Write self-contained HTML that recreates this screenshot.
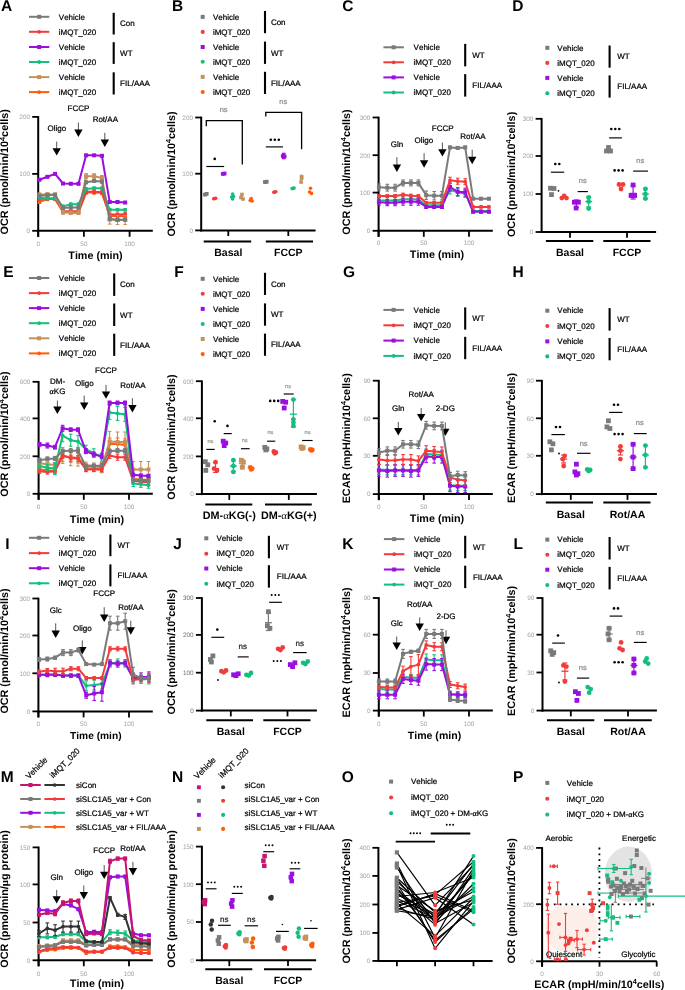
<!DOCTYPE html>
<html><head><meta charset="utf-8"><style>
html,body{margin:0;padding:0;background:#fff;}
svg{display:block;will-change:transform;filter:blur(0.35px);}
svg text{font-family:"Liberation Sans", sans-serif;font-kerning:none;text-rendering:geometricPrecision;}
</style></head><body>
<svg width="685" height="990" viewBox="0 0 685 990" font-family='"Liberation Sans", sans-serif'>
<rect width="685" height="990" fill="#fff"/>
<text x="1.10" y="11.40" font-size="15.5" font-weight="bold">A</text>
<line x1="29.00" y1="16.80" x2="49.30" y2="16.80" stroke="#7a7a7a" stroke-width="2"/>
<rect x="37.15" y="14.80" width="4.00" height="4.00" fill="#7a7a7a"/>
<text x="58.80" y="19.55" font-size="8" stroke="#000" stroke-width="0.22">Vehicle</text>
<line x1="29.00" y1="31.80" x2="49.30" y2="31.80" stroke="#f23b3b" stroke-width="2"/>
<circle cx="39.15" cy="31.80" r="1.90" fill="#f23b3b"/>
<text x="58.80" y="34.55" font-size="8" stroke="#000" stroke-width="0.22">iMQT_020</text>
<line x1="29.00" y1="47.00" x2="49.30" y2="47.00" stroke="#9a0fe0" stroke-width="2"/>
<rect x="37.15" y="45.00" width="4.00" height="4.00" fill="#9a0fe0"/>
<text x="58.80" y="49.75" font-size="8" stroke="#000" stroke-width="0.22">Vehicle</text>
<line x1="29.00" y1="62.00" x2="49.30" y2="62.00" stroke="#12bf7c" stroke-width="2"/>
<circle cx="39.15" cy="62.00" r="1.90" fill="#12bf7c"/>
<text x="58.80" y="64.75" font-size="8" stroke="#000" stroke-width="0.22">iMQT_020</text>
<line x1="29.00" y1="77.10" x2="49.30" y2="77.10" stroke="#c4925a" stroke-width="2"/>
<rect x="37.15" y="75.10" width="4.00" height="4.00" fill="#c4925a"/>
<text x="58.80" y="79.85" font-size="8" stroke="#000" stroke-width="0.22">Vehicle</text>
<line x1="29.00" y1="92.10" x2="49.30" y2="92.10" stroke="#ff5c0a" stroke-width="2"/>
<circle cx="39.15" cy="92.10" r="1.90" fill="#ff5c0a"/>
<text x="58.80" y="94.85" font-size="8" stroke="#000" stroke-width="0.22">iMQT_020</text>
<line x1="113.70" y1="12.80" x2="113.70" y2="34.50" stroke="#000" stroke-width="2.1"/>
<text x="120.10" y="26.40" font-size="8" stroke="#000" stroke-width="0.22">Con</text>
<line x1="113.70" y1="42.20" x2="113.70" y2="63.90" stroke="#000" stroke-width="2.1"/>
<text x="120.10" y="55.80" font-size="8" stroke="#000" stroke-width="0.22">WT</text>
<line x1="113.70" y1="72.30" x2="113.70" y2="94.50" stroke="#000" stroke-width="2.1"/>
<text x="120.10" y="86.15" font-size="8" stroke="#000" stroke-width="0.22">FIL/AAA</text>
<line x1="38.20" y1="116.10" x2="38.20" y2="236.80" stroke="#000" stroke-width="2"/>
<line x1="32.20" y1="116.90" x2="38.20" y2="116.90" stroke="#000" stroke-width="1.8"/>
<text x="30.00" y="119.20" font-size="6.4" text-anchor="end" fill="#a3a3a3">200</text>
<line x1="32.20" y1="173.90" x2="38.20" y2="173.90" stroke="#000" stroke-width="1.8"/>
<text x="30.00" y="176.20" font-size="6.4" text-anchor="end" fill="#a3a3a3">100</text>
<line x1="32.20" y1="230.80" x2="38.20" y2="230.80" stroke="#000" stroke-width="1.8"/>
<text x="30.00" y="233.10" font-size="6.4" text-anchor="end" fill="#a3a3a3">0</text>
<line x1="37.20" y1="230.80" x2="152.80" y2="230.80" stroke="#000" stroke-width="2"/>
<line x1="38.20" y1="230.80" x2="38.20" y2="236.80" stroke="#000" stroke-width="1.8"/>
<text x="38.20" y="245.70" font-size="6.4" text-anchor="middle" fill="#a3a3a3">0</text>
<line x1="83.90" y1="230.80" x2="83.90" y2="236.80" stroke="#000" stroke-width="1.8"/>
<text x="83.90" y="245.70" font-size="6.4" text-anchor="middle" fill="#a3a3a3">50</text>
<line x1="129.60" y1="230.80" x2="129.60" y2="236.80" stroke="#000" stroke-width="1.8"/>
<text x="129.60" y="245.70" font-size="6.4" text-anchor="middle" fill="#a3a3a3">100</text>
<text x="95.50" y="259.40" font-size="10.75" font-weight="bold" text-anchor="middle">Time (min)</text>
<text x="8.40" y="171.90" font-size="10.8" font-weight="bold" text-anchor="middle" transform="rotate(-90 8.40 171.90)">OCR (pmol/min/10<tspan font-size="7.3" dy="-3.9">4</tspan><tspan dy="3.9">cells)</tspan></text>
<text x="56.90" y="131.25" font-size="8" text-anchor="middle" stroke="#000" stroke-width="0.22">Oligo</text>
<line x1="56.70" y1="141.60" x2="56.70" y2="148.70" stroke="#555" stroke-width="1.0"/>
<path d="M52.50,148.20 L60.90,148.20 L56.70,155.60 Z" fill="#000"/>
<text x="78.50" y="111.35" font-size="8" text-anchor="middle" stroke="#000" stroke-width="0.22">FCCP</text>
<line x1="78.40" y1="122.60" x2="78.40" y2="130.00" stroke="#555" stroke-width="1.0"/>
<path d="M74.20,129.50 L82.60,129.50 L78.40,136.90 Z" fill="#000"/>
<text x="105.30" y="122.35" font-size="8" text-anchor="middle" stroke="#000" stroke-width="0.22">Rot/AA</text>
<line x1="104.80" y1="132.90" x2="104.80" y2="140.00" stroke="#555" stroke-width="1.0"/>
<path d="M100.60,139.50 L109.00,139.50 L104.80,146.90 Z" fill="#000"/>
<line x1="39.40" y1="200.50" x2="39.40" y2="203.50" stroke="#ff5c0a" stroke-width="1.1"/>
<line x1="37.60" y1="200.50" x2="41.20" y2="200.50" stroke="#ff5c0a" stroke-width="1.1"/>
<line x1="37.60" y1="203.50" x2="41.20" y2="203.50" stroke="#ff5c0a" stroke-width="1.1"/>
<line x1="47.40" y1="197.60" x2="47.40" y2="200.60" stroke="#ff5c0a" stroke-width="1.1"/>
<line x1="45.60" y1="197.60" x2="49.20" y2="197.60" stroke="#ff5c0a" stroke-width="1.1"/>
<line x1="45.60" y1="200.60" x2="49.20" y2="200.60" stroke="#ff5c0a" stroke-width="1.1"/>
<line x1="55.10" y1="197.60" x2="55.10" y2="200.60" stroke="#ff5c0a" stroke-width="1.1"/>
<line x1="53.30" y1="197.60" x2="56.90" y2="197.60" stroke="#ff5c0a" stroke-width="1.1"/>
<line x1="53.30" y1="200.60" x2="56.90" y2="200.60" stroke="#ff5c0a" stroke-width="1.1"/>
<line x1="63.00" y1="210.80" x2="63.00" y2="213.80" stroke="#ff5c0a" stroke-width="1.1"/>
<line x1="61.20" y1="210.80" x2="64.80" y2="210.80" stroke="#ff5c0a" stroke-width="1.1"/>
<line x1="61.20" y1="213.80" x2="64.80" y2="213.80" stroke="#ff5c0a" stroke-width="1.1"/>
<line x1="70.80" y1="210.80" x2="70.80" y2="213.80" stroke="#ff5c0a" stroke-width="1.1"/>
<line x1="69.00" y1="210.80" x2="72.60" y2="210.80" stroke="#ff5c0a" stroke-width="1.1"/>
<line x1="69.00" y1="213.80" x2="72.60" y2="213.80" stroke="#ff5c0a" stroke-width="1.1"/>
<line x1="78.50" y1="211.20" x2="78.50" y2="214.20" stroke="#ff5c0a" stroke-width="1.1"/>
<line x1="76.70" y1="211.20" x2="80.30" y2="211.20" stroke="#ff5c0a" stroke-width="1.1"/>
<line x1="76.70" y1="214.20" x2="80.30" y2="214.20" stroke="#ff5c0a" stroke-width="1.1"/>
<line x1="86.10" y1="191.10" x2="86.10" y2="194.10" stroke="#ff5c0a" stroke-width="1.1"/>
<line x1="84.30" y1="191.10" x2="87.90" y2="191.10" stroke="#ff5c0a" stroke-width="1.1"/>
<line x1="84.30" y1="194.10" x2="87.90" y2="194.10" stroke="#ff5c0a" stroke-width="1.1"/>
<line x1="94.10" y1="191.10" x2="94.10" y2="194.10" stroke="#ff5c0a" stroke-width="1.1"/>
<line x1="92.30" y1="191.10" x2="95.90" y2="191.10" stroke="#ff5c0a" stroke-width="1.1"/>
<line x1="92.30" y1="194.10" x2="95.90" y2="194.10" stroke="#ff5c0a" stroke-width="1.1"/>
<line x1="101.90" y1="191.30" x2="101.90" y2="194.30" stroke="#ff5c0a" stroke-width="1.1"/>
<line x1="100.10" y1="191.30" x2="103.70" y2="191.30" stroke="#ff5c0a" stroke-width="1.1"/>
<line x1="100.10" y1="194.30" x2="103.70" y2="194.30" stroke="#ff5c0a" stroke-width="1.1"/>
<line x1="109.70" y1="214.40" x2="109.70" y2="217.40" stroke="#ff5c0a" stroke-width="1.1"/>
<line x1="107.90" y1="214.40" x2="111.50" y2="214.40" stroke="#ff5c0a" stroke-width="1.1"/>
<line x1="107.90" y1="217.40" x2="111.50" y2="217.40" stroke="#ff5c0a" stroke-width="1.1"/>
<line x1="117.50" y1="214.40" x2="117.50" y2="217.40" stroke="#ff5c0a" stroke-width="1.1"/>
<line x1="115.70" y1="214.40" x2="119.30" y2="214.40" stroke="#ff5c0a" stroke-width="1.1"/>
<line x1="115.70" y1="217.40" x2="119.30" y2="217.40" stroke="#ff5c0a" stroke-width="1.1"/>
<line x1="125.20" y1="214.70" x2="125.20" y2="217.70" stroke="#ff5c0a" stroke-width="1.1"/>
<line x1="123.40" y1="214.70" x2="127.00" y2="214.70" stroke="#ff5c0a" stroke-width="1.1"/>
<line x1="123.40" y1="217.70" x2="127.00" y2="217.70" stroke="#ff5c0a" stroke-width="1.1"/>
<polyline points="39.40,202.00 47.40,199.10 55.10,199.10 63.00,212.30 70.80,212.30 78.50,212.70 86.10,192.60 94.10,192.60 101.90,192.80 109.70,215.90 117.50,215.90 125.20,216.20" fill="none" stroke="#ff5c0a" stroke-width="2" stroke-linejoin="round"/>
<circle cx="39.40" cy="202.00" r="1.85" fill="#ff5c0a"/>
<circle cx="47.40" cy="199.10" r="1.85" fill="#ff5c0a"/>
<circle cx="55.10" cy="199.10" r="1.85" fill="#ff5c0a"/>
<circle cx="63.00" cy="212.30" r="1.85" fill="#ff5c0a"/>
<circle cx="70.80" cy="212.30" r="1.85" fill="#ff5c0a"/>
<circle cx="78.50" cy="212.70" r="1.85" fill="#ff5c0a"/>
<circle cx="86.10" cy="192.60" r="1.85" fill="#ff5c0a"/>
<circle cx="94.10" cy="192.60" r="1.85" fill="#ff5c0a"/>
<circle cx="101.90" cy="192.80" r="1.85" fill="#ff5c0a"/>
<circle cx="109.70" cy="215.90" r="1.85" fill="#ff5c0a"/>
<circle cx="117.50" cy="215.90" r="1.85" fill="#ff5c0a"/>
<circle cx="125.20" cy="216.20" r="1.85" fill="#ff5c0a"/>
<line x1="39.40" y1="197.60" x2="39.40" y2="200.60" stroke="#f23b3b" stroke-width="1.1"/>
<line x1="37.60" y1="197.60" x2="41.20" y2="197.60" stroke="#f23b3b" stroke-width="1.1"/>
<line x1="37.60" y1="200.60" x2="41.20" y2="200.60" stroke="#f23b3b" stroke-width="1.1"/>
<line x1="47.40" y1="196.90" x2="47.40" y2="199.90" stroke="#f23b3b" stroke-width="1.1"/>
<line x1="45.60" y1="196.90" x2="49.20" y2="196.90" stroke="#f23b3b" stroke-width="1.1"/>
<line x1="45.60" y1="199.90" x2="49.20" y2="199.90" stroke="#f23b3b" stroke-width="1.1"/>
<line x1="55.10" y1="196.90" x2="55.10" y2="199.90" stroke="#f23b3b" stroke-width="1.1"/>
<line x1="53.30" y1="196.90" x2="56.90" y2="196.90" stroke="#f23b3b" stroke-width="1.1"/>
<line x1="53.30" y1="199.90" x2="56.90" y2="199.90" stroke="#f23b3b" stroke-width="1.1"/>
<line x1="63.00" y1="209.70" x2="63.00" y2="212.70" stroke="#f23b3b" stroke-width="1.1"/>
<line x1="61.20" y1="209.70" x2="64.80" y2="209.70" stroke="#f23b3b" stroke-width="1.1"/>
<line x1="61.20" y1="212.70" x2="64.80" y2="212.70" stroke="#f23b3b" stroke-width="1.1"/>
<line x1="70.80" y1="209.70" x2="70.80" y2="212.70" stroke="#f23b3b" stroke-width="1.1"/>
<line x1="69.00" y1="209.70" x2="72.60" y2="209.70" stroke="#f23b3b" stroke-width="1.1"/>
<line x1="69.00" y1="212.70" x2="72.60" y2="212.70" stroke="#f23b3b" stroke-width="1.1"/>
<line x1="78.50" y1="209.70" x2="78.50" y2="212.70" stroke="#f23b3b" stroke-width="1.1"/>
<line x1="76.70" y1="209.70" x2="80.30" y2="209.70" stroke="#f23b3b" stroke-width="1.1"/>
<line x1="76.70" y1="212.70" x2="80.30" y2="212.70" stroke="#f23b3b" stroke-width="1.1"/>
<line x1="86.10" y1="190.30" x2="86.10" y2="193.30" stroke="#f23b3b" stroke-width="1.1"/>
<line x1="84.30" y1="190.30" x2="87.90" y2="190.30" stroke="#f23b3b" stroke-width="1.1"/>
<line x1="84.30" y1="193.30" x2="87.90" y2="193.30" stroke="#f23b3b" stroke-width="1.1"/>
<line x1="94.10" y1="190.30" x2="94.10" y2="193.30" stroke="#f23b3b" stroke-width="1.1"/>
<line x1="92.30" y1="190.30" x2="95.90" y2="190.30" stroke="#f23b3b" stroke-width="1.1"/>
<line x1="92.30" y1="193.30" x2="95.90" y2="193.30" stroke="#f23b3b" stroke-width="1.1"/>
<line x1="101.90" y1="190.80" x2="101.90" y2="193.80" stroke="#f23b3b" stroke-width="1.1"/>
<line x1="100.10" y1="190.80" x2="103.70" y2="190.80" stroke="#f23b3b" stroke-width="1.1"/>
<line x1="100.10" y1="193.80" x2="103.70" y2="193.80" stroke="#f23b3b" stroke-width="1.1"/>
<line x1="109.70" y1="213.00" x2="109.70" y2="216.00" stroke="#f23b3b" stroke-width="1.1"/>
<line x1="107.90" y1="213.00" x2="111.50" y2="213.00" stroke="#f23b3b" stroke-width="1.1"/>
<line x1="107.90" y1="216.00" x2="111.50" y2="216.00" stroke="#f23b3b" stroke-width="1.1"/>
<line x1="117.50" y1="213.00" x2="117.50" y2="216.00" stroke="#f23b3b" stroke-width="1.1"/>
<line x1="115.70" y1="213.00" x2="119.30" y2="213.00" stroke="#f23b3b" stroke-width="1.1"/>
<line x1="115.70" y1="216.00" x2="119.30" y2="216.00" stroke="#f23b3b" stroke-width="1.1"/>
<line x1="125.20" y1="212.70" x2="125.20" y2="215.70" stroke="#f23b3b" stroke-width="1.1"/>
<line x1="123.40" y1="212.70" x2="127.00" y2="212.70" stroke="#f23b3b" stroke-width="1.1"/>
<line x1="123.40" y1="215.70" x2="127.00" y2="215.70" stroke="#f23b3b" stroke-width="1.1"/>
<polyline points="39.40,199.10 47.40,198.40 55.10,198.40 63.00,211.20 70.80,211.20 78.50,211.20 86.10,191.80 94.10,191.80 101.90,192.30 109.70,214.50 117.50,214.50 125.20,214.20" fill="none" stroke="#f23b3b" stroke-width="2" stroke-linejoin="round"/>
<circle cx="39.40" cy="199.10" r="1.85" fill="#f23b3b"/>
<circle cx="47.40" cy="198.40" r="1.85" fill="#f23b3b"/>
<circle cx="55.10" cy="198.40" r="1.85" fill="#f23b3b"/>
<circle cx="63.00" cy="211.20" r="1.85" fill="#f23b3b"/>
<circle cx="70.80" cy="211.20" r="1.85" fill="#f23b3b"/>
<circle cx="78.50" cy="211.20" r="1.85" fill="#f23b3b"/>
<circle cx="86.10" cy="191.80" r="1.85" fill="#f23b3b"/>
<circle cx="94.10" cy="191.80" r="1.85" fill="#f23b3b"/>
<circle cx="101.90" cy="192.30" r="1.85" fill="#f23b3b"/>
<circle cx="109.70" cy="214.50" r="1.85" fill="#f23b3b"/>
<circle cx="117.50" cy="214.50" r="1.85" fill="#f23b3b"/>
<circle cx="125.20" cy="214.20" r="1.85" fill="#f23b3b"/>
<line x1="39.40" y1="196.50" x2="39.40" y2="198.90" stroke="#12bf7c" stroke-width="1.1"/>
<line x1="37.60" y1="196.50" x2="41.20" y2="196.50" stroke="#12bf7c" stroke-width="1.1"/>
<line x1="37.60" y1="198.90" x2="41.20" y2="198.90" stroke="#12bf7c" stroke-width="1.1"/>
<line x1="47.40" y1="197.20" x2="47.40" y2="199.60" stroke="#12bf7c" stroke-width="1.1"/>
<line x1="45.60" y1="197.20" x2="49.20" y2="197.20" stroke="#12bf7c" stroke-width="1.1"/>
<line x1="45.60" y1="199.60" x2="49.20" y2="199.60" stroke="#12bf7c" stroke-width="1.1"/>
<line x1="55.10" y1="197.20" x2="55.10" y2="199.60" stroke="#12bf7c" stroke-width="1.1"/>
<line x1="53.30" y1="197.20" x2="56.90" y2="197.20" stroke="#12bf7c" stroke-width="1.1"/>
<line x1="53.30" y1="199.60" x2="56.90" y2="199.60" stroke="#12bf7c" stroke-width="1.1"/>
<line x1="63.00" y1="205.20" x2="63.00" y2="207.60" stroke="#12bf7c" stroke-width="1.1"/>
<line x1="61.20" y1="205.20" x2="64.80" y2="205.20" stroke="#12bf7c" stroke-width="1.1"/>
<line x1="61.20" y1="207.60" x2="64.80" y2="207.60" stroke="#12bf7c" stroke-width="1.1"/>
<line x1="70.80" y1="203.00" x2="70.80" y2="205.40" stroke="#12bf7c" stroke-width="1.1"/>
<line x1="69.00" y1="203.00" x2="72.60" y2="203.00" stroke="#12bf7c" stroke-width="1.1"/>
<line x1="69.00" y1="205.40" x2="72.60" y2="205.40" stroke="#12bf7c" stroke-width="1.1"/>
<line x1="78.50" y1="203.00" x2="78.50" y2="205.40" stroke="#12bf7c" stroke-width="1.1"/>
<line x1="76.70" y1="203.00" x2="80.30" y2="203.00" stroke="#12bf7c" stroke-width="1.1"/>
<line x1="76.70" y1="205.40" x2="80.30" y2="205.40" stroke="#12bf7c" stroke-width="1.1"/>
<line x1="86.10" y1="187.70" x2="86.10" y2="190.10" stroke="#12bf7c" stroke-width="1.1"/>
<line x1="84.30" y1="187.70" x2="87.90" y2="187.70" stroke="#12bf7c" stroke-width="1.1"/>
<line x1="84.30" y1="190.10" x2="87.90" y2="190.10" stroke="#12bf7c" stroke-width="1.1"/>
<line x1="94.10" y1="187.00" x2="94.10" y2="189.40" stroke="#12bf7c" stroke-width="1.1"/>
<line x1="92.30" y1="187.00" x2="95.90" y2="187.00" stroke="#12bf7c" stroke-width="1.1"/>
<line x1="92.30" y1="189.40" x2="95.90" y2="189.40" stroke="#12bf7c" stroke-width="1.1"/>
<line x1="101.90" y1="187.00" x2="101.90" y2="189.40" stroke="#12bf7c" stroke-width="1.1"/>
<line x1="100.10" y1="187.00" x2="103.70" y2="187.00" stroke="#12bf7c" stroke-width="1.1"/>
<line x1="100.10" y1="189.40" x2="103.70" y2="189.40" stroke="#12bf7c" stroke-width="1.1"/>
<line x1="109.70" y1="208.60" x2="109.70" y2="211.00" stroke="#12bf7c" stroke-width="1.1"/>
<line x1="107.90" y1="208.60" x2="111.50" y2="208.60" stroke="#12bf7c" stroke-width="1.1"/>
<line x1="107.90" y1="211.00" x2="111.50" y2="211.00" stroke="#12bf7c" stroke-width="1.1"/>
<line x1="117.50" y1="208.60" x2="117.50" y2="211.00" stroke="#12bf7c" stroke-width="1.1"/>
<line x1="115.70" y1="208.60" x2="119.30" y2="208.60" stroke="#12bf7c" stroke-width="1.1"/>
<line x1="115.70" y1="211.00" x2="119.30" y2="211.00" stroke="#12bf7c" stroke-width="1.1"/>
<line x1="125.20" y1="208.60" x2="125.20" y2="211.00" stroke="#12bf7c" stroke-width="1.1"/>
<line x1="123.40" y1="208.60" x2="127.00" y2="208.60" stroke="#12bf7c" stroke-width="1.1"/>
<line x1="123.40" y1="211.00" x2="127.00" y2="211.00" stroke="#12bf7c" stroke-width="1.1"/>
<polyline points="39.40,197.70 47.40,198.40 55.10,198.40 63.00,206.40 70.80,204.20 78.50,204.20 86.10,188.90 94.10,188.20 101.90,188.20 109.70,209.80 117.50,209.80 125.20,209.80" fill="none" stroke="#12bf7c" stroke-width="2" stroke-linejoin="round"/>
<circle cx="39.40" cy="197.70" r="1.85" fill="#12bf7c"/>
<circle cx="47.40" cy="198.40" r="1.85" fill="#12bf7c"/>
<circle cx="55.10" cy="198.40" r="1.85" fill="#12bf7c"/>
<circle cx="63.00" cy="206.40" r="1.85" fill="#12bf7c"/>
<circle cx="70.80" cy="204.20" r="1.85" fill="#12bf7c"/>
<circle cx="78.50" cy="204.20" r="1.85" fill="#12bf7c"/>
<circle cx="86.10" cy="188.90" r="1.85" fill="#12bf7c"/>
<circle cx="94.10" cy="188.20" r="1.85" fill="#12bf7c"/>
<circle cx="101.90" cy="188.20" r="1.85" fill="#12bf7c"/>
<circle cx="109.70" cy="209.80" r="1.85" fill="#12bf7c"/>
<circle cx="117.50" cy="209.80" r="1.85" fill="#12bf7c"/>
<circle cx="125.20" cy="209.80" r="1.85" fill="#12bf7c"/>
<line x1="39.40" y1="193.20" x2="39.40" y2="196.20" stroke="#c4925a" stroke-width="1.1"/>
<line x1="37.60" y1="193.20" x2="41.20" y2="193.20" stroke="#c4925a" stroke-width="1.1"/>
<line x1="37.60" y1="196.20" x2="41.20" y2="196.20" stroke="#c4925a" stroke-width="1.1"/>
<line x1="47.40" y1="192.80" x2="47.40" y2="195.80" stroke="#c4925a" stroke-width="1.1"/>
<line x1="45.60" y1="192.80" x2="49.20" y2="192.80" stroke="#c4925a" stroke-width="1.1"/>
<line x1="45.60" y1="195.80" x2="49.20" y2="195.80" stroke="#c4925a" stroke-width="1.1"/>
<line x1="55.10" y1="193.20" x2="55.10" y2="196.20" stroke="#c4925a" stroke-width="1.1"/>
<line x1="53.30" y1="193.20" x2="56.90" y2="193.20" stroke="#c4925a" stroke-width="1.1"/>
<line x1="53.30" y1="196.20" x2="56.90" y2="196.20" stroke="#c4925a" stroke-width="1.1"/>
<line x1="63.00" y1="210.80" x2="63.00" y2="213.80" stroke="#c4925a" stroke-width="1.1"/>
<line x1="61.20" y1="210.80" x2="64.80" y2="210.80" stroke="#c4925a" stroke-width="1.1"/>
<line x1="61.20" y1="213.80" x2="64.80" y2="213.80" stroke="#c4925a" stroke-width="1.1"/>
<line x1="70.80" y1="211.20" x2="70.80" y2="214.20" stroke="#c4925a" stroke-width="1.1"/>
<line x1="69.00" y1="211.20" x2="72.60" y2="211.20" stroke="#c4925a" stroke-width="1.1"/>
<line x1="69.00" y1="214.20" x2="72.60" y2="214.20" stroke="#c4925a" stroke-width="1.1"/>
<line x1="78.50" y1="211.20" x2="78.50" y2="214.20" stroke="#c4925a" stroke-width="1.1"/>
<line x1="76.70" y1="211.20" x2="80.30" y2="211.20" stroke="#c4925a" stroke-width="1.1"/>
<line x1="76.70" y1="214.20" x2="80.30" y2="214.20" stroke="#c4925a" stroke-width="1.1"/>
<line x1="86.10" y1="173.70" x2="86.10" y2="178.70" stroke="#c4925a" stroke-width="1.1"/>
<line x1="84.30" y1="173.70" x2="87.90" y2="173.70" stroke="#c4925a" stroke-width="1.1"/>
<line x1="84.30" y1="178.70" x2="87.90" y2="178.70" stroke="#c4925a" stroke-width="1.1"/>
<line x1="94.10" y1="173.70" x2="94.10" y2="178.70" stroke="#c4925a" stroke-width="1.1"/>
<line x1="92.30" y1="173.70" x2="95.90" y2="173.70" stroke="#c4925a" stroke-width="1.1"/>
<line x1="92.30" y1="178.70" x2="95.90" y2="178.70" stroke="#c4925a" stroke-width="1.1"/>
<line x1="101.90" y1="175.50" x2="101.90" y2="180.50" stroke="#c4925a" stroke-width="1.1"/>
<line x1="100.10" y1="175.50" x2="103.70" y2="175.50" stroke="#c4925a" stroke-width="1.1"/>
<line x1="100.10" y1="180.50" x2="103.70" y2="180.50" stroke="#c4925a" stroke-width="1.1"/>
<line x1="109.70" y1="215.10" x2="109.70" y2="224.10" stroke="#c4925a" stroke-width="1.1"/>
<line x1="107.90" y1="215.10" x2="111.50" y2="215.10" stroke="#c4925a" stroke-width="1.1"/>
<line x1="107.90" y1="224.10" x2="111.50" y2="224.10" stroke="#c4925a" stroke-width="1.1"/>
<line x1="117.50" y1="215.50" x2="117.50" y2="224.50" stroke="#c4925a" stroke-width="1.1"/>
<line x1="115.70" y1="215.50" x2="119.30" y2="215.50" stroke="#c4925a" stroke-width="1.1"/>
<line x1="115.70" y1="224.50" x2="119.30" y2="224.50" stroke="#c4925a" stroke-width="1.1"/>
<line x1="125.20" y1="215.50" x2="125.20" y2="224.50" stroke="#c4925a" stroke-width="1.1"/>
<line x1="123.40" y1="215.50" x2="127.00" y2="215.50" stroke="#c4925a" stroke-width="1.1"/>
<line x1="123.40" y1="224.50" x2="127.00" y2="224.50" stroke="#c4925a" stroke-width="1.1"/>
<polyline points="39.40,194.70 47.40,194.30 55.10,194.70 63.00,212.30 70.80,212.70 78.50,212.70 86.10,176.20 94.10,176.20 101.90,178.00 109.70,219.60 117.50,220.00 125.20,220.00" fill="none" stroke="#c4925a" stroke-width="2" stroke-linejoin="round"/>
<rect x="37.40" y="192.70" width="4.00" height="4.00" fill="#c4925a"/>
<rect x="45.40" y="192.30" width="4.00" height="4.00" fill="#c4925a"/>
<rect x="53.10" y="192.70" width="4.00" height="4.00" fill="#c4925a"/>
<rect x="61.00" y="210.30" width="4.00" height="4.00" fill="#c4925a"/>
<rect x="68.80" y="210.70" width="4.00" height="4.00" fill="#c4925a"/>
<rect x="76.50" y="210.70" width="4.00" height="4.00" fill="#c4925a"/>
<rect x="84.10" y="174.20" width="4.00" height="4.00" fill="#c4925a"/>
<rect x="92.10" y="174.20" width="4.00" height="4.00" fill="#c4925a"/>
<rect x="99.90" y="176.00" width="4.00" height="4.00" fill="#c4925a"/>
<rect x="107.70" y="217.60" width="4.00" height="4.00" fill="#c4925a"/>
<rect x="115.50" y="218.00" width="4.00" height="4.00" fill="#c4925a"/>
<rect x="123.20" y="218.00" width="4.00" height="4.00" fill="#c4925a"/>
<line x1="39.40" y1="194.60" x2="39.40" y2="197.00" stroke="#7a7a7a" stroke-width="1.1"/>
<line x1="37.60" y1="194.60" x2="41.20" y2="194.60" stroke="#7a7a7a" stroke-width="1.1"/>
<line x1="37.60" y1="197.00" x2="41.20" y2="197.00" stroke="#7a7a7a" stroke-width="1.1"/>
<line x1="47.40" y1="194.00" x2="47.40" y2="196.40" stroke="#7a7a7a" stroke-width="1.1"/>
<line x1="45.60" y1="194.00" x2="49.20" y2="194.00" stroke="#7a7a7a" stroke-width="1.1"/>
<line x1="45.60" y1="196.40" x2="49.20" y2="196.40" stroke="#7a7a7a" stroke-width="1.1"/>
<line x1="55.10" y1="193.50" x2="55.10" y2="195.90" stroke="#7a7a7a" stroke-width="1.1"/>
<line x1="53.30" y1="193.50" x2="56.90" y2="193.50" stroke="#7a7a7a" stroke-width="1.1"/>
<line x1="53.30" y1="195.90" x2="56.90" y2="195.90" stroke="#7a7a7a" stroke-width="1.1"/>
<line x1="63.00" y1="206.70" x2="63.00" y2="209.10" stroke="#7a7a7a" stroke-width="1.1"/>
<line x1="61.20" y1="206.70" x2="64.80" y2="206.70" stroke="#7a7a7a" stroke-width="1.1"/>
<line x1="61.20" y1="209.10" x2="64.80" y2="209.10" stroke="#7a7a7a" stroke-width="1.1"/>
<line x1="70.80" y1="206.20" x2="70.80" y2="208.60" stroke="#7a7a7a" stroke-width="1.1"/>
<line x1="69.00" y1="206.20" x2="72.60" y2="206.20" stroke="#7a7a7a" stroke-width="1.1"/>
<line x1="69.00" y1="208.60" x2="72.60" y2="208.60" stroke="#7a7a7a" stroke-width="1.1"/>
<line x1="78.50" y1="206.20" x2="78.50" y2="208.60" stroke="#7a7a7a" stroke-width="1.1"/>
<line x1="76.70" y1="206.20" x2="80.30" y2="206.20" stroke="#7a7a7a" stroke-width="1.1"/>
<line x1="76.70" y1="208.60" x2="80.30" y2="208.60" stroke="#7a7a7a" stroke-width="1.1"/>
<line x1="86.10" y1="181.10" x2="86.10" y2="183.50" stroke="#7a7a7a" stroke-width="1.1"/>
<line x1="84.30" y1="181.10" x2="87.90" y2="181.10" stroke="#7a7a7a" stroke-width="1.1"/>
<line x1="84.30" y1="183.50" x2="87.90" y2="183.50" stroke="#7a7a7a" stroke-width="1.1"/>
<line x1="94.10" y1="179.70" x2="94.10" y2="182.10" stroke="#7a7a7a" stroke-width="1.1"/>
<line x1="92.30" y1="179.70" x2="95.90" y2="179.70" stroke="#7a7a7a" stroke-width="1.1"/>
<line x1="92.30" y1="182.10" x2="95.90" y2="182.10" stroke="#7a7a7a" stroke-width="1.1"/>
<line x1="101.90" y1="180.40" x2="101.90" y2="182.80" stroke="#7a7a7a" stroke-width="1.1"/>
<line x1="100.10" y1="180.40" x2="103.70" y2="180.40" stroke="#7a7a7a" stroke-width="1.1"/>
<line x1="100.10" y1="182.80" x2="103.70" y2="182.80" stroke="#7a7a7a" stroke-width="1.1"/>
<line x1="109.70" y1="217.60" x2="109.70" y2="220.00" stroke="#7a7a7a" stroke-width="1.1"/>
<line x1="107.90" y1="217.60" x2="111.50" y2="217.60" stroke="#7a7a7a" stroke-width="1.1"/>
<line x1="107.90" y1="220.00" x2="111.50" y2="220.00" stroke="#7a7a7a" stroke-width="1.1"/>
<line x1="117.50" y1="218.80" x2="117.50" y2="221.20" stroke="#7a7a7a" stroke-width="1.1"/>
<line x1="115.70" y1="218.80" x2="119.30" y2="218.80" stroke="#7a7a7a" stroke-width="1.1"/>
<line x1="115.70" y1="221.20" x2="119.30" y2="221.20" stroke="#7a7a7a" stroke-width="1.1"/>
<line x1="125.20" y1="218.40" x2="125.20" y2="220.80" stroke="#7a7a7a" stroke-width="1.1"/>
<line x1="123.40" y1="218.40" x2="127.00" y2="218.40" stroke="#7a7a7a" stroke-width="1.1"/>
<line x1="123.40" y1="220.80" x2="127.00" y2="220.80" stroke="#7a7a7a" stroke-width="1.1"/>
<polyline points="39.40,195.80 47.40,195.20 55.10,194.70 63.00,207.90 70.80,207.40 78.50,207.40 86.10,182.30 94.10,180.90 101.90,181.60 109.70,218.80 117.50,220.00 125.20,219.60" fill="none" stroke="#7a7a7a" stroke-width="2" stroke-linejoin="round"/>
<rect x="37.40" y="193.80" width="4.00" height="4.00" fill="#7a7a7a"/>
<rect x="45.40" y="193.20" width="4.00" height="4.00" fill="#7a7a7a"/>
<rect x="53.10" y="192.70" width="4.00" height="4.00" fill="#7a7a7a"/>
<rect x="61.00" y="205.90" width="4.00" height="4.00" fill="#7a7a7a"/>
<rect x="68.80" y="205.40" width="4.00" height="4.00" fill="#7a7a7a"/>
<rect x="76.50" y="205.40" width="4.00" height="4.00" fill="#7a7a7a"/>
<rect x="84.10" y="180.30" width="4.00" height="4.00" fill="#7a7a7a"/>
<rect x="92.10" y="178.90" width="4.00" height="4.00" fill="#7a7a7a"/>
<rect x="99.90" y="179.60" width="4.00" height="4.00" fill="#7a7a7a"/>
<rect x="107.70" y="216.80" width="4.00" height="4.00" fill="#7a7a7a"/>
<rect x="115.50" y="218.00" width="4.00" height="4.00" fill="#7a7a7a"/>
<rect x="123.20" y="217.60" width="4.00" height="4.00" fill="#7a7a7a"/>
<line x1="39.40" y1="178.90" x2="39.40" y2="180.50" stroke="#9a0fe0" stroke-width="1.1"/>
<line x1="37.60" y1="178.90" x2="41.20" y2="178.90" stroke="#9a0fe0" stroke-width="1.1"/>
<line x1="37.60" y1="180.50" x2="41.20" y2="180.50" stroke="#9a0fe0" stroke-width="1.1"/>
<line x1="47.40" y1="176.00" x2="47.40" y2="177.60" stroke="#9a0fe0" stroke-width="1.1"/>
<line x1="45.60" y1="176.00" x2="49.20" y2="176.00" stroke="#9a0fe0" stroke-width="1.1"/>
<line x1="45.60" y1="177.60" x2="49.20" y2="177.60" stroke="#9a0fe0" stroke-width="1.1"/>
<line x1="55.10" y1="173.10" x2="55.10" y2="174.70" stroke="#9a0fe0" stroke-width="1.1"/>
<line x1="53.30" y1="173.10" x2="56.90" y2="173.10" stroke="#9a0fe0" stroke-width="1.1"/>
<line x1="53.30" y1="174.70" x2="56.90" y2="174.70" stroke="#9a0fe0" stroke-width="1.1"/>
<line x1="63.00" y1="182.70" x2="63.00" y2="184.30" stroke="#9a0fe0" stroke-width="1.1"/>
<line x1="61.20" y1="182.70" x2="64.80" y2="182.70" stroke="#9a0fe0" stroke-width="1.1"/>
<line x1="61.20" y1="184.30" x2="64.80" y2="184.30" stroke="#9a0fe0" stroke-width="1.1"/>
<line x1="70.80" y1="183.00" x2="70.80" y2="184.60" stroke="#9a0fe0" stroke-width="1.1"/>
<line x1="69.00" y1="183.00" x2="72.60" y2="183.00" stroke="#9a0fe0" stroke-width="1.1"/>
<line x1="69.00" y1="184.60" x2="72.60" y2="184.60" stroke="#9a0fe0" stroke-width="1.1"/>
<line x1="78.50" y1="183.00" x2="78.50" y2="184.60" stroke="#9a0fe0" stroke-width="1.1"/>
<line x1="76.70" y1="183.00" x2="80.30" y2="183.00" stroke="#9a0fe0" stroke-width="1.1"/>
<line x1="76.70" y1="184.60" x2="80.30" y2="184.60" stroke="#9a0fe0" stroke-width="1.1"/>
<line x1="86.10" y1="154.50" x2="86.10" y2="156.10" stroke="#9a0fe0" stroke-width="1.1"/>
<line x1="84.30" y1="154.50" x2="87.90" y2="154.50" stroke="#9a0fe0" stroke-width="1.1"/>
<line x1="84.30" y1="156.10" x2="87.90" y2="156.10" stroke="#9a0fe0" stroke-width="1.1"/>
<line x1="94.10" y1="154.50" x2="94.10" y2="156.10" stroke="#9a0fe0" stroke-width="1.1"/>
<line x1="92.30" y1="154.50" x2="95.90" y2="154.50" stroke="#9a0fe0" stroke-width="1.1"/>
<line x1="92.30" y1="156.10" x2="95.90" y2="156.10" stroke="#9a0fe0" stroke-width="1.1"/>
<line x1="101.90" y1="155.00" x2="101.90" y2="156.60" stroke="#9a0fe0" stroke-width="1.1"/>
<line x1="100.10" y1="155.00" x2="103.70" y2="155.00" stroke="#9a0fe0" stroke-width="1.1"/>
<line x1="100.10" y1="156.60" x2="103.70" y2="156.60" stroke="#9a0fe0" stroke-width="1.1"/>
<line x1="109.70" y1="201.20" x2="109.70" y2="202.80" stroke="#9a0fe0" stroke-width="1.1"/>
<line x1="107.90" y1="201.20" x2="111.50" y2="201.20" stroke="#9a0fe0" stroke-width="1.1"/>
<line x1="107.90" y1="202.80" x2="111.50" y2="202.80" stroke="#9a0fe0" stroke-width="1.1"/>
<line x1="117.50" y1="201.20" x2="117.50" y2="202.80" stroke="#9a0fe0" stroke-width="1.1"/>
<line x1="115.70" y1="201.20" x2="119.30" y2="201.20" stroke="#9a0fe0" stroke-width="1.1"/>
<line x1="115.70" y1="202.80" x2="119.30" y2="202.80" stroke="#9a0fe0" stroke-width="1.1"/>
<line x1="125.20" y1="201.70" x2="125.20" y2="203.30" stroke="#9a0fe0" stroke-width="1.1"/>
<line x1="123.40" y1="201.70" x2="127.00" y2="201.70" stroke="#9a0fe0" stroke-width="1.1"/>
<line x1="123.40" y1="203.30" x2="127.00" y2="203.30" stroke="#9a0fe0" stroke-width="1.1"/>
<polyline points="39.40,179.70 47.40,176.80 55.10,173.90 63.00,183.50 70.80,183.80 78.50,183.80 86.10,155.30 94.10,155.30 101.90,155.80 109.70,202.00 117.50,202.00 125.20,202.50" fill="none" stroke="#9a0fe0" stroke-width="2" stroke-linejoin="round"/>
<rect x="37.40" y="177.70" width="4.00" height="4.00" fill="#9a0fe0"/>
<rect x="45.40" y="174.80" width="4.00" height="4.00" fill="#9a0fe0"/>
<rect x="53.10" y="171.90" width="4.00" height="4.00" fill="#9a0fe0"/>
<rect x="61.00" y="181.50" width="4.00" height="4.00" fill="#9a0fe0"/>
<rect x="68.80" y="181.80" width="4.00" height="4.00" fill="#9a0fe0"/>
<rect x="76.50" y="181.80" width="4.00" height="4.00" fill="#9a0fe0"/>
<rect x="84.10" y="153.30" width="4.00" height="4.00" fill="#9a0fe0"/>
<rect x="92.10" y="153.30" width="4.00" height="4.00" fill="#9a0fe0"/>
<rect x="99.90" y="153.80" width="4.00" height="4.00" fill="#9a0fe0"/>
<rect x="107.70" y="200.00" width="4.00" height="4.00" fill="#9a0fe0"/>
<rect x="115.50" y="200.00" width="4.00" height="4.00" fill="#9a0fe0"/>
<rect x="123.20" y="200.50" width="4.00" height="4.00" fill="#9a0fe0"/>
<text x="172.10" y="11.40" font-size="15.5" font-weight="bold">B</text>
<rect x="200.70" y="14.90" width="4.00" height="4.00" fill="#7a7a7a"/>
<text x="212.90" y="19.65" font-size="8" stroke="#000" stroke-width="0.22">Vehicle</text>
<circle cx="202.70" cy="31.90" r="2.05" fill="#f23b3b"/>
<text x="212.90" y="34.65" font-size="8" stroke="#000" stroke-width="0.22">iMQT_020</text>
<rect x="200.70" y="45.00" width="4.00" height="4.00" fill="#9a0fe0"/>
<text x="212.90" y="49.75" font-size="8" stroke="#000" stroke-width="0.22">Vehicle</text>
<circle cx="202.70" cy="61.80" r="2.05" fill="#12bf7c"/>
<text x="212.90" y="64.55" font-size="8" stroke="#000" stroke-width="0.22">iMQT_020</text>
<rect x="200.70" y="74.90" width="4.00" height="4.00" fill="#c4925a"/>
<text x="212.90" y="79.65" font-size="8" stroke="#000" stroke-width="0.22">Vehicle</text>
<circle cx="202.70" cy="92.00" r="2.05" fill="#ff5c0a"/>
<text x="212.90" y="94.75" font-size="8" stroke="#000" stroke-width="0.22">iMQT_020</text>
<line x1="265.00" y1="11.00" x2="265.00" y2="33.20" stroke="#000" stroke-width="2.1"/>
<text x="270.90" y="24.85" font-size="8" stroke="#000" stroke-width="0.22">Con</text>
<line x1="265.00" y1="41.60" x2="265.00" y2="63.90" stroke="#000" stroke-width="2.1"/>
<text x="270.90" y="55.50" font-size="8" stroke="#000" stroke-width="0.22">WT</text>
<line x1="265.00" y1="71.80" x2="265.00" y2="94.00" stroke="#000" stroke-width="2.1"/>
<text x="270.90" y="85.65" font-size="8" stroke="#000" stroke-width="0.22">FIL/AAA</text>
<line x1="201.20" y1="116.70" x2="201.20" y2="231.40" stroke="#000" stroke-width="2"/>
<line x1="195.20" y1="117.50" x2="201.20" y2="117.50" stroke="#000" stroke-width="1.8"/>
<text x="193.00" y="119.80" font-size="6.4" text-anchor="end" fill="#a3a3a3">200</text>
<line x1="195.20" y1="173.70" x2="201.20" y2="173.70" stroke="#000" stroke-width="1.8"/>
<text x="193.00" y="176.00" font-size="6.4" text-anchor="end" fill="#a3a3a3">100</text>
<line x1="195.20" y1="230.40" x2="201.20" y2="230.40" stroke="#000" stroke-width="1.8"/>
<text x="193.00" y="232.70" font-size="6.4" text-anchor="end" fill="#a3a3a3">0</text>
<line x1="200.20" y1="230.40" x2="315.60" y2="230.40" stroke="#000" stroke-width="2"/>
<line x1="228.30" y1="230.40" x2="228.30" y2="236.00" stroke="#000" stroke-width="1.8"/>
<line x1="288.30" y1="230.40" x2="288.30" y2="236.00" stroke="#000" stroke-width="1.8"/>
<line x1="203.70" y1="241.40" x2="251.20" y2="241.40" stroke="#000" stroke-width="2"/>
<line x1="265.80" y1="241.40" x2="313.00" y2="241.40" stroke="#000" stroke-width="2"/>
<text x="228.30" y="255.71" font-size="10.5" font-weight="bold" text-anchor="middle">Basal</text>
<text x="288.30" y="255.71" font-size="10.5" font-weight="bold" text-anchor="middle">FCCP</text>
<text x="175.10" y="173.90" font-size="10.8" font-weight="bold" text-anchor="middle" transform="rotate(-90 175.10 173.90)">OCR (pmol/min/10<tspan font-size="7.3" dy="-3.9">4</tspan><tspan dy="3.9">cells)</tspan></text>
<rect x="203.00" y="192.80" width="3.60" height="3.60" fill="#7a7a7a"/>
<rect x="205.00" y="192.00" width="3.60" height="3.60" fill="#7a7a7a"/>
<rect x="204.00" y="192.60" width="3.60" height="3.60" fill="#7a7a7a"/>
<circle cx="213.70" cy="198.80" r="1.80" fill="#f23b3b"/>
<circle cx="215.70" cy="198.20" r="1.80" fill="#f23b3b"/>
<circle cx="214.70" cy="198.60" r="1.80" fill="#f23b3b"/>
<rect x="220.90" y="172.10" width="3.60" height="3.60" fill="#9a0fe0"/>
<rect x="222.90" y="171.70" width="3.60" height="3.60" fill="#9a0fe0"/>
<rect x="221.90" y="171.90" width="3.60" height="3.60" fill="#9a0fe0"/>
<circle cx="232.60" cy="194.00" r="1.80" fill="#12bf7c"/>
<circle cx="231.60" cy="197.00" r="1.80" fill="#12bf7c"/>
<circle cx="233.60" cy="196.50" r="1.80" fill="#12bf7c"/>
<circle cx="232.60" cy="199.00" r="1.80" fill="#12bf7c"/>
<rect x="240.20" y="192.70" width="3.60" height="3.60" fill="#c4925a"/>
<rect x="239.20" y="195.70" width="3.60" height="3.60" fill="#c4925a"/>
<rect x="241.20" y="197.20" width="3.60" height="3.60" fill="#c4925a"/>
<circle cx="251.20" cy="198.50" r="1.80" fill="#ff5c0a"/>
<circle cx="250.20" cy="200.50" r="1.80" fill="#ff5c0a"/>
<circle cx="252.20" cy="201.00" r="1.80" fill="#ff5c0a"/>
<rect x="263.00" y="180.20" width="3.60" height="3.60" fill="#7a7a7a"/>
<rect x="265.00" y="179.80" width="3.60" height="3.60" fill="#7a7a7a"/>
<rect x="264.00" y="180.40" width="3.60" height="3.60" fill="#7a7a7a"/>
<circle cx="273.80" cy="192.20" r="1.80" fill="#f23b3b"/>
<circle cx="275.80" cy="191.80" r="1.80" fill="#f23b3b"/>
<circle cx="274.80" cy="192.00" r="1.80" fill="#f23b3b"/>
<rect x="281.90" y="152.70" width="3.60" height="3.60" fill="#9a0fe0"/>
<rect x="280.90" y="154.20" width="3.60" height="3.60" fill="#9a0fe0"/>
<rect x="282.90" y="154.70" width="3.60" height="3.60" fill="#9a0fe0"/>
<rect x="281.90" y="155.70" width="3.60" height="3.60" fill="#9a0fe0"/>
<circle cx="292.10" cy="188.60" r="1.80" fill="#12bf7c"/>
<circle cx="294.10" cy="188.00" r="1.80" fill="#12bf7c"/>
<circle cx="293.10" cy="188.40" r="1.80" fill="#12bf7c"/>
<rect x="299.80" y="174.70" width="3.60" height="3.60" fill="#c4925a"/>
<rect x="299.80" y="176.40" width="3.60" height="3.60" fill="#c4925a"/>
<rect x="299.30" y="180.20" width="3.60" height="3.60" fill="#c4925a"/>
<circle cx="310.50" cy="188.30" r="1.80" fill="#ff5c0a"/>
<circle cx="309.50" cy="192.00" r="1.80" fill="#ff5c0a"/>
<circle cx="311.50" cy="193.40" r="1.80" fill="#ff5c0a"/>
<circle cx="214.70" cy="158.90" r="1.3" fill="#000"/>
<line x1="206.30" y1="166.50" x2="224.20" y2="166.50" stroke="#000" stroke-width="1.15"/>
<text x="223.60" y="112.43" font-size="7.5" text-anchor="middle" fill="#8a8a8a" stroke="#8a8a8a" stroke-width="0.22">ns</text>
<polyline points="206.3,126.2 206.3,120.6 242.3,120.6 242.3,164.5" fill="none" stroke="#000" stroke-width="1.3"/>
<circle cx="270.80" cy="139.70" r="1.3" fill="#000"/>
<circle cx="274.80" cy="139.70" r="1.3" fill="#000"/>
<circle cx="278.80" cy="139.70" r="1.3" fill="#000"/>
<line x1="265.80" y1="146.90" x2="283.00" y2="146.90" stroke="#000" stroke-width="1.15"/>
<text x="283.20" y="103.73" font-size="7.5" text-anchor="middle" fill="#8a8a8a" stroke="#8a8a8a" stroke-width="0.22">ns</text>
<polyline points="265.8,116.5 265.8,112.4 301.6,112.4 301.6,149.2" fill="none" stroke="#000" stroke-width="1.3"/>
<text x="342.20" y="11.40" font-size="15.5" font-weight="bold">C</text>
<line x1="383.40" y1="47.30" x2="403.90" y2="47.30" stroke="#7a7a7a" stroke-width="2"/>
<rect x="391.65" y="45.30" width="4.00" height="4.00" fill="#7a7a7a"/>
<text x="413.60" y="50.05" font-size="8" stroke="#000" stroke-width="0.22">Vehicle</text>
<line x1="383.40" y1="62.30" x2="403.90" y2="62.30" stroke="#f23b3b" stroke-width="2"/>
<circle cx="393.65" cy="62.30" r="1.90" fill="#f23b3b"/>
<text x="413.60" y="65.05" font-size="8" stroke="#000" stroke-width="0.22">iMQT_020</text>
<line x1="383.40" y1="77.40" x2="403.90" y2="77.40" stroke="#9a0fe0" stroke-width="2"/>
<rect x="391.65" y="75.40" width="4.00" height="4.00" fill="#9a0fe0"/>
<text x="413.60" y="80.15" font-size="8" stroke="#000" stroke-width="0.22">Vehicle</text>
<line x1="383.40" y1="92.50" x2="403.90" y2="92.50" stroke="#12bf7c" stroke-width="2"/>
<circle cx="393.65" cy="92.50" r="1.90" fill="#12bf7c"/>
<text x="413.60" y="95.25" font-size="8" stroke="#000" stroke-width="0.22">iMQT_020</text>
<line x1="465.20" y1="43.90" x2="465.20" y2="66.40" stroke="#000" stroke-width="2.1"/>
<text x="472.30" y="57.90" font-size="8" stroke="#000" stroke-width="0.22">WT</text>
<line x1="465.20" y1="74.10" x2="465.20" y2="96.60" stroke="#000" stroke-width="2.1"/>
<text x="472.30" y="88.10" font-size="8" stroke="#000" stroke-width="0.22">FIL/AAA</text>
<line x1="378.60" y1="116.70" x2="378.60" y2="236.80" stroke="#000" stroke-width="2"/>
<line x1="372.60" y1="117.50" x2="378.60" y2="117.50" stroke="#000" stroke-width="1.8"/>
<text x="370.40" y="119.80" font-size="6.4" text-anchor="end" fill="#a3a3a3">300</text>
<line x1="372.60" y1="155.20" x2="378.60" y2="155.20" stroke="#000" stroke-width="1.8"/>
<text x="370.40" y="157.50" font-size="6.4" text-anchor="end" fill="#a3a3a3">200</text>
<line x1="372.60" y1="192.60" x2="378.60" y2="192.60" stroke="#000" stroke-width="1.8"/>
<text x="370.40" y="194.90" font-size="6.4" text-anchor="end" fill="#a3a3a3">100</text>
<line x1="372.60" y1="230.80" x2="378.60" y2="230.80" stroke="#000" stroke-width="1.8"/>
<text x="370.40" y="233.10" font-size="6.4" text-anchor="end" fill="#a3a3a3">0</text>
<line x1="377.60" y1="230.80" x2="492.80" y2="230.80" stroke="#000" stroke-width="2"/>
<line x1="378.60" y1="230.80" x2="378.60" y2="236.80" stroke="#000" stroke-width="1.8"/>
<text x="378.60" y="245.20" font-size="6.4" text-anchor="middle" fill="#a3a3a3">0</text>
<line x1="423.80" y1="230.80" x2="423.80" y2="236.80" stroke="#000" stroke-width="1.8"/>
<text x="423.80" y="245.20" font-size="6.4" text-anchor="middle" fill="#a3a3a3">50</text>
<line x1="469.00" y1="230.80" x2="469.00" y2="236.80" stroke="#000" stroke-width="1.8"/>
<text x="469.00" y="245.20" font-size="6.4" text-anchor="middle" fill="#a3a3a3">100</text>
<text x="437.00" y="258.00" font-size="10.75" font-weight="bold" text-anchor="middle">Time (min)</text>
<text x="350.10" y="172.10" font-size="10.8" font-weight="bold" text-anchor="middle" transform="rotate(-90 350.10 172.10)">OCR (pmol/min/10<tspan font-size="7.3" dy="-3.9">4</tspan><tspan dy="3.9">cells)</tspan></text>
<text x="397.00" y="147.15" font-size="8" text-anchor="middle" stroke="#000" stroke-width="0.22">Gln</text>
<line x1="396.90" y1="157.20" x2="396.90" y2="165.00" stroke="#555" stroke-width="1.0"/>
<path d="M392.70,164.50 L401.10,164.50 L396.90,171.90 Z" fill="#000"/>
<text x="423.80" y="143.25" font-size="8" text-anchor="middle" stroke="#000" stroke-width="0.22">Oligo</text>
<line x1="424.10" y1="153.20" x2="424.10" y2="160.80" stroke="#555" stroke-width="1.0"/>
<path d="M419.90,160.30 L428.30,160.30 L424.10,167.70 Z" fill="#000"/>
<text x="442.70" y="130.95" font-size="8" text-anchor="middle" stroke="#000" stroke-width="0.22">FCCP</text>
<line x1="442.40" y1="142.40" x2="442.40" y2="149.70" stroke="#555" stroke-width="1.0"/>
<path d="M438.20,149.20 L446.60,149.20 L442.40,156.60 Z" fill="#000"/>
<text x="472.90" y="139.15" font-size="8" text-anchor="middle" stroke="#000" stroke-width="0.22">Rot/AA</text>
<line x1="472.20" y1="149.70" x2="472.20" y2="157.30" stroke="#555" stroke-width="1.0"/>
<path d="M468.00,156.80 L476.40,156.80 L472.20,164.20 Z" fill="#000"/>
<line x1="378.90" y1="197.40" x2="378.90" y2="203.40" stroke="#12bf7c" stroke-width="1.1"/>
<line x1="377.10" y1="197.40" x2="380.70" y2="197.40" stroke="#12bf7c" stroke-width="1.1"/>
<line x1="377.10" y1="203.40" x2="380.70" y2="203.40" stroke="#12bf7c" stroke-width="1.1"/>
<line x1="387.30" y1="197.40" x2="387.30" y2="203.40" stroke="#12bf7c" stroke-width="1.1"/>
<line x1="385.50" y1="197.40" x2="389.10" y2="197.40" stroke="#12bf7c" stroke-width="1.1"/>
<line x1="385.50" y1="203.40" x2="389.10" y2="203.40" stroke="#12bf7c" stroke-width="1.1"/>
<line x1="395.10" y1="197.40" x2="395.10" y2="203.40" stroke="#12bf7c" stroke-width="1.1"/>
<line x1="393.30" y1="197.40" x2="396.90" y2="197.40" stroke="#12bf7c" stroke-width="1.1"/>
<line x1="393.30" y1="203.40" x2="396.90" y2="203.40" stroke="#12bf7c" stroke-width="1.1"/>
<line x1="403.00" y1="196.20" x2="403.00" y2="202.20" stroke="#12bf7c" stroke-width="1.1"/>
<line x1="401.20" y1="196.20" x2="404.80" y2="196.20" stroke="#12bf7c" stroke-width="1.1"/>
<line x1="401.20" y1="202.20" x2="404.80" y2="202.20" stroke="#12bf7c" stroke-width="1.1"/>
<line x1="410.90" y1="196.20" x2="410.90" y2="202.20" stroke="#12bf7c" stroke-width="1.1"/>
<line x1="409.10" y1="196.20" x2="412.70" y2="196.20" stroke="#12bf7c" stroke-width="1.1"/>
<line x1="409.10" y1="202.20" x2="412.70" y2="202.20" stroke="#12bf7c" stroke-width="1.1"/>
<line x1="418.40" y1="196.60" x2="418.40" y2="202.60" stroke="#12bf7c" stroke-width="1.1"/>
<line x1="416.60" y1="196.60" x2="420.20" y2="196.60" stroke="#12bf7c" stroke-width="1.1"/>
<line x1="416.60" y1="202.60" x2="420.20" y2="202.60" stroke="#12bf7c" stroke-width="1.1"/>
<line x1="426.20" y1="203.70" x2="426.20" y2="206.70" stroke="#12bf7c" stroke-width="1.1"/>
<line x1="424.40" y1="203.70" x2="428.00" y2="203.70" stroke="#12bf7c" stroke-width="1.1"/>
<line x1="424.40" y1="206.70" x2="428.00" y2="206.70" stroke="#12bf7c" stroke-width="1.1"/>
<line x1="434.20" y1="203.70" x2="434.20" y2="206.70" stroke="#12bf7c" stroke-width="1.1"/>
<line x1="432.40" y1="203.70" x2="436.00" y2="203.70" stroke="#12bf7c" stroke-width="1.1"/>
<line x1="432.40" y1="206.70" x2="436.00" y2="206.70" stroke="#12bf7c" stroke-width="1.1"/>
<line x1="441.90" y1="203.70" x2="441.90" y2="206.70" stroke="#12bf7c" stroke-width="1.1"/>
<line x1="440.10" y1="203.70" x2="443.70" y2="203.70" stroke="#12bf7c" stroke-width="1.1"/>
<line x1="440.10" y1="206.70" x2="443.70" y2="206.70" stroke="#12bf7c" stroke-width="1.1"/>
<line x1="450.00" y1="185.90" x2="450.00" y2="193.90" stroke="#12bf7c" stroke-width="1.1"/>
<line x1="448.20" y1="185.90" x2="451.80" y2="185.90" stroke="#12bf7c" stroke-width="1.1"/>
<line x1="448.20" y1="193.90" x2="451.80" y2="193.90" stroke="#12bf7c" stroke-width="1.1"/>
<line x1="457.70" y1="188.20" x2="457.70" y2="196.20" stroke="#12bf7c" stroke-width="1.1"/>
<line x1="455.90" y1="188.20" x2="459.50" y2="188.20" stroke="#12bf7c" stroke-width="1.1"/>
<line x1="455.90" y1="196.20" x2="459.50" y2="196.20" stroke="#12bf7c" stroke-width="1.1"/>
<line x1="465.20" y1="189.40" x2="465.20" y2="197.40" stroke="#12bf7c" stroke-width="1.1"/>
<line x1="463.40" y1="189.40" x2="467.00" y2="189.40" stroke="#12bf7c" stroke-width="1.1"/>
<line x1="463.40" y1="197.40" x2="467.00" y2="197.40" stroke="#12bf7c" stroke-width="1.1"/>
<line x1="473.10" y1="210.00" x2="473.10" y2="212.00" stroke="#12bf7c" stroke-width="1.1"/>
<line x1="471.30" y1="210.00" x2="474.90" y2="210.00" stroke="#12bf7c" stroke-width="1.1"/>
<line x1="471.30" y1="212.00" x2="474.90" y2="212.00" stroke="#12bf7c" stroke-width="1.1"/>
<line x1="481.00" y1="210.00" x2="481.00" y2="212.00" stroke="#12bf7c" stroke-width="1.1"/>
<line x1="479.20" y1="210.00" x2="482.80" y2="210.00" stroke="#12bf7c" stroke-width="1.1"/>
<line x1="479.20" y1="212.00" x2="482.80" y2="212.00" stroke="#12bf7c" stroke-width="1.1"/>
<line x1="488.90" y1="210.00" x2="488.90" y2="212.00" stroke="#12bf7c" stroke-width="1.1"/>
<line x1="487.10" y1="210.00" x2="490.70" y2="210.00" stroke="#12bf7c" stroke-width="1.1"/>
<line x1="487.10" y1="212.00" x2="490.70" y2="212.00" stroke="#12bf7c" stroke-width="1.1"/>
<polyline points="378.90,200.40 387.30,200.40 395.10,200.40 403.00,199.20 410.90,199.20 418.40,199.60 426.20,205.20 434.20,205.20 441.90,205.20 450.00,189.90 457.70,192.20 465.20,193.40 473.10,211.00 481.00,211.00 488.90,211.00" fill="none" stroke="#12bf7c" stroke-width="2" stroke-linejoin="round"/>
<circle cx="378.90" cy="200.40" r="1.85" fill="#12bf7c"/>
<circle cx="387.30" cy="200.40" r="1.85" fill="#12bf7c"/>
<circle cx="395.10" cy="200.40" r="1.85" fill="#12bf7c"/>
<circle cx="403.00" cy="199.20" r="1.85" fill="#12bf7c"/>
<circle cx="410.90" cy="199.20" r="1.85" fill="#12bf7c"/>
<circle cx="418.40" cy="199.60" r="1.85" fill="#12bf7c"/>
<circle cx="426.20" cy="205.20" r="1.85" fill="#12bf7c"/>
<circle cx="434.20" cy="205.20" r="1.85" fill="#12bf7c"/>
<circle cx="441.90" cy="205.20" r="1.85" fill="#12bf7c"/>
<circle cx="450.00" cy="189.90" r="1.85" fill="#12bf7c"/>
<circle cx="457.70" cy="192.20" r="1.85" fill="#12bf7c"/>
<circle cx="465.20" cy="193.40" r="1.85" fill="#12bf7c"/>
<circle cx="473.10" cy="211.00" r="1.85" fill="#12bf7c"/>
<circle cx="481.00" cy="211.00" r="1.85" fill="#12bf7c"/>
<circle cx="488.90" cy="211.00" r="1.85" fill="#12bf7c"/>
<line x1="378.90" y1="199.20" x2="378.90" y2="205.20" stroke="#9a0fe0" stroke-width="1.1"/>
<line x1="377.10" y1="199.20" x2="380.70" y2="199.20" stroke="#9a0fe0" stroke-width="1.1"/>
<line x1="377.10" y1="205.20" x2="380.70" y2="205.20" stroke="#9a0fe0" stroke-width="1.1"/>
<line x1="387.30" y1="199.70" x2="387.30" y2="205.70" stroke="#9a0fe0" stroke-width="1.1"/>
<line x1="385.50" y1="199.70" x2="389.10" y2="199.70" stroke="#9a0fe0" stroke-width="1.1"/>
<line x1="385.50" y1="205.70" x2="389.10" y2="205.70" stroke="#9a0fe0" stroke-width="1.1"/>
<line x1="395.10" y1="199.70" x2="395.10" y2="205.70" stroke="#9a0fe0" stroke-width="1.1"/>
<line x1="393.30" y1="199.70" x2="396.90" y2="199.70" stroke="#9a0fe0" stroke-width="1.1"/>
<line x1="393.30" y1="205.70" x2="396.90" y2="205.70" stroke="#9a0fe0" stroke-width="1.1"/>
<line x1="403.00" y1="198.20" x2="403.00" y2="205.20" stroke="#9a0fe0" stroke-width="1.1"/>
<line x1="401.20" y1="198.20" x2="404.80" y2="198.20" stroke="#9a0fe0" stroke-width="1.1"/>
<line x1="401.20" y1="205.20" x2="404.80" y2="205.20" stroke="#9a0fe0" stroke-width="1.1"/>
<line x1="410.90" y1="198.20" x2="410.90" y2="205.20" stroke="#9a0fe0" stroke-width="1.1"/>
<line x1="409.10" y1="198.20" x2="412.70" y2="198.20" stroke="#9a0fe0" stroke-width="1.1"/>
<line x1="409.10" y1="205.20" x2="412.70" y2="205.20" stroke="#9a0fe0" stroke-width="1.1"/>
<line x1="418.40" y1="198.20" x2="418.40" y2="205.20" stroke="#9a0fe0" stroke-width="1.1"/>
<line x1="416.60" y1="198.20" x2="420.20" y2="198.20" stroke="#9a0fe0" stroke-width="1.1"/>
<line x1="416.60" y1="205.20" x2="420.20" y2="205.20" stroke="#9a0fe0" stroke-width="1.1"/>
<line x1="426.20" y1="205.40" x2="426.20" y2="208.40" stroke="#9a0fe0" stroke-width="1.1"/>
<line x1="424.40" y1="205.40" x2="428.00" y2="205.40" stroke="#9a0fe0" stroke-width="1.1"/>
<line x1="424.40" y1="208.40" x2="428.00" y2="208.40" stroke="#9a0fe0" stroke-width="1.1"/>
<line x1="434.20" y1="205.40" x2="434.20" y2="208.40" stroke="#9a0fe0" stroke-width="1.1"/>
<line x1="432.40" y1="205.40" x2="436.00" y2="205.40" stroke="#9a0fe0" stroke-width="1.1"/>
<line x1="432.40" y1="208.40" x2="436.00" y2="208.40" stroke="#9a0fe0" stroke-width="1.1"/>
<line x1="441.90" y1="205.40" x2="441.90" y2="208.40" stroke="#9a0fe0" stroke-width="1.1"/>
<line x1="440.10" y1="205.40" x2="443.70" y2="205.40" stroke="#9a0fe0" stroke-width="1.1"/>
<line x1="440.10" y1="208.40" x2="443.70" y2="208.40" stroke="#9a0fe0" stroke-width="1.1"/>
<line x1="450.00" y1="183.00" x2="450.00" y2="191.00" stroke="#9a0fe0" stroke-width="1.1"/>
<line x1="448.20" y1="183.00" x2="451.80" y2="183.00" stroke="#9a0fe0" stroke-width="1.1"/>
<line x1="448.20" y1="191.00" x2="451.80" y2="191.00" stroke="#9a0fe0" stroke-width="1.1"/>
<line x1="457.70" y1="187.70" x2="457.70" y2="195.70" stroke="#9a0fe0" stroke-width="1.1"/>
<line x1="455.90" y1="187.70" x2="459.50" y2="187.70" stroke="#9a0fe0" stroke-width="1.1"/>
<line x1="455.90" y1="195.70" x2="459.50" y2="195.70" stroke="#9a0fe0" stroke-width="1.1"/>
<line x1="465.20" y1="188.20" x2="465.20" y2="196.20" stroke="#9a0fe0" stroke-width="1.1"/>
<line x1="463.40" y1="188.20" x2="467.00" y2="188.20" stroke="#9a0fe0" stroke-width="1.1"/>
<line x1="463.40" y1="196.20" x2="467.00" y2="196.20" stroke="#9a0fe0" stroke-width="1.1"/>
<line x1="473.10" y1="210.80" x2="473.10" y2="212.80" stroke="#9a0fe0" stroke-width="1.1"/>
<line x1="471.30" y1="210.80" x2="474.90" y2="210.80" stroke="#9a0fe0" stroke-width="1.1"/>
<line x1="471.30" y1="212.80" x2="474.90" y2="212.80" stroke="#9a0fe0" stroke-width="1.1"/>
<line x1="481.00" y1="210.80" x2="481.00" y2="212.80" stroke="#9a0fe0" stroke-width="1.1"/>
<line x1="479.20" y1="210.80" x2="482.80" y2="210.80" stroke="#9a0fe0" stroke-width="1.1"/>
<line x1="479.20" y1="212.80" x2="482.80" y2="212.80" stroke="#9a0fe0" stroke-width="1.1"/>
<line x1="488.90" y1="210.80" x2="488.90" y2="212.80" stroke="#9a0fe0" stroke-width="1.1"/>
<line x1="487.10" y1="210.80" x2="490.70" y2="210.80" stroke="#9a0fe0" stroke-width="1.1"/>
<line x1="487.10" y1="212.80" x2="490.70" y2="212.80" stroke="#9a0fe0" stroke-width="1.1"/>
<polyline points="378.90,202.20 387.30,202.70 395.10,202.70 403.00,201.70 410.90,201.70 418.40,201.70 426.20,206.90 434.20,206.90 441.90,206.90 450.00,187.00 457.70,191.70 465.20,192.20 473.10,211.80 481.00,211.80 488.90,211.80" fill="none" stroke="#9a0fe0" stroke-width="2" stroke-linejoin="round"/>
<rect x="376.90" y="200.20" width="4.00" height="4.00" fill="#9a0fe0"/>
<rect x="385.30" y="200.70" width="4.00" height="4.00" fill="#9a0fe0"/>
<rect x="393.10" y="200.70" width="4.00" height="4.00" fill="#9a0fe0"/>
<rect x="401.00" y="199.70" width="4.00" height="4.00" fill="#9a0fe0"/>
<rect x="408.90" y="199.70" width="4.00" height="4.00" fill="#9a0fe0"/>
<rect x="416.40" y="199.70" width="4.00" height="4.00" fill="#9a0fe0"/>
<rect x="424.20" y="204.90" width="4.00" height="4.00" fill="#9a0fe0"/>
<rect x="432.20" y="204.90" width="4.00" height="4.00" fill="#9a0fe0"/>
<rect x="439.90" y="204.90" width="4.00" height="4.00" fill="#9a0fe0"/>
<rect x="448.00" y="185.00" width="4.00" height="4.00" fill="#9a0fe0"/>
<rect x="455.70" y="189.70" width="4.00" height="4.00" fill="#9a0fe0"/>
<rect x="463.20" y="190.20" width="4.00" height="4.00" fill="#9a0fe0"/>
<rect x="471.10" y="209.80" width="4.00" height="4.00" fill="#9a0fe0"/>
<rect x="479.00" y="209.80" width="4.00" height="4.00" fill="#9a0fe0"/>
<rect x="486.90" y="209.80" width="4.00" height="4.00" fill="#9a0fe0"/>
<line x1="378.90" y1="194.60" x2="378.90" y2="197.60" stroke="#f23b3b" stroke-width="1.1"/>
<line x1="377.10" y1="194.60" x2="380.70" y2="194.60" stroke="#f23b3b" stroke-width="1.1"/>
<line x1="377.10" y1="197.60" x2="380.70" y2="197.60" stroke="#f23b3b" stroke-width="1.1"/>
<line x1="387.30" y1="194.60" x2="387.30" y2="197.60" stroke="#f23b3b" stroke-width="1.1"/>
<line x1="385.50" y1="194.60" x2="389.10" y2="194.60" stroke="#f23b3b" stroke-width="1.1"/>
<line x1="385.50" y1="197.60" x2="389.10" y2="197.60" stroke="#f23b3b" stroke-width="1.1"/>
<line x1="395.10" y1="194.60" x2="395.10" y2="197.60" stroke="#f23b3b" stroke-width="1.1"/>
<line x1="393.30" y1="194.60" x2="396.90" y2="194.60" stroke="#f23b3b" stroke-width="1.1"/>
<line x1="393.30" y1="197.60" x2="396.90" y2="197.60" stroke="#f23b3b" stroke-width="1.1"/>
<line x1="403.00" y1="193.20" x2="403.00" y2="196.20" stroke="#f23b3b" stroke-width="1.1"/>
<line x1="401.20" y1="193.20" x2="404.80" y2="193.20" stroke="#f23b3b" stroke-width="1.1"/>
<line x1="401.20" y1="196.20" x2="404.80" y2="196.20" stroke="#f23b3b" stroke-width="1.1"/>
<line x1="410.90" y1="194.20" x2="410.90" y2="197.20" stroke="#f23b3b" stroke-width="1.1"/>
<line x1="409.10" y1="194.20" x2="412.70" y2="194.20" stroke="#f23b3b" stroke-width="1.1"/>
<line x1="409.10" y1="197.20" x2="412.70" y2="197.20" stroke="#f23b3b" stroke-width="1.1"/>
<line x1="418.40" y1="194.60" x2="418.40" y2="197.60" stroke="#f23b3b" stroke-width="1.1"/>
<line x1="416.60" y1="194.60" x2="420.20" y2="194.60" stroke="#f23b3b" stroke-width="1.1"/>
<line x1="416.60" y1="197.60" x2="420.20" y2="197.60" stroke="#f23b3b" stroke-width="1.1"/>
<line x1="426.20" y1="201.70" x2="426.20" y2="203.70" stroke="#f23b3b" stroke-width="1.1"/>
<line x1="424.40" y1="201.70" x2="428.00" y2="201.70" stroke="#f23b3b" stroke-width="1.1"/>
<line x1="424.40" y1="203.70" x2="428.00" y2="203.70" stroke="#f23b3b" stroke-width="1.1"/>
<line x1="434.20" y1="201.70" x2="434.20" y2="203.70" stroke="#f23b3b" stroke-width="1.1"/>
<line x1="432.40" y1="201.70" x2="436.00" y2="201.70" stroke="#f23b3b" stroke-width="1.1"/>
<line x1="432.40" y1="203.70" x2="436.00" y2="203.70" stroke="#f23b3b" stroke-width="1.1"/>
<line x1="441.90" y1="201.70" x2="441.90" y2="203.70" stroke="#f23b3b" stroke-width="1.1"/>
<line x1="440.10" y1="201.70" x2="443.70" y2="201.70" stroke="#f23b3b" stroke-width="1.1"/>
<line x1="440.10" y1="203.70" x2="443.70" y2="203.70" stroke="#f23b3b" stroke-width="1.1"/>
<line x1="450.00" y1="177.30" x2="450.00" y2="183.30" stroke="#f23b3b" stroke-width="1.1"/>
<line x1="448.20" y1="177.30" x2="451.80" y2="177.30" stroke="#f23b3b" stroke-width="1.1"/>
<line x1="448.20" y1="183.30" x2="451.80" y2="183.30" stroke="#f23b3b" stroke-width="1.1"/>
<line x1="457.70" y1="178.20" x2="457.70" y2="184.20" stroke="#f23b3b" stroke-width="1.1"/>
<line x1="455.90" y1="178.20" x2="459.50" y2="178.20" stroke="#f23b3b" stroke-width="1.1"/>
<line x1="455.90" y1="184.20" x2="459.50" y2="184.20" stroke="#f23b3b" stroke-width="1.1"/>
<line x1="465.20" y1="178.70" x2="465.20" y2="184.70" stroke="#f23b3b" stroke-width="1.1"/>
<line x1="463.40" y1="178.70" x2="467.00" y2="178.70" stroke="#f23b3b" stroke-width="1.1"/>
<line x1="463.40" y1="184.70" x2="467.00" y2="184.70" stroke="#f23b3b" stroke-width="1.1"/>
<line x1="473.10" y1="205.90" x2="473.10" y2="207.90" stroke="#f23b3b" stroke-width="1.1"/>
<line x1="471.30" y1="205.90" x2="474.90" y2="205.90" stroke="#f23b3b" stroke-width="1.1"/>
<line x1="471.30" y1="207.90" x2="474.90" y2="207.90" stroke="#f23b3b" stroke-width="1.1"/>
<line x1="481.00" y1="205.90" x2="481.00" y2="207.90" stroke="#f23b3b" stroke-width="1.1"/>
<line x1="479.20" y1="205.90" x2="482.80" y2="205.90" stroke="#f23b3b" stroke-width="1.1"/>
<line x1="479.20" y1="207.90" x2="482.80" y2="207.90" stroke="#f23b3b" stroke-width="1.1"/>
<line x1="488.90" y1="205.90" x2="488.90" y2="207.90" stroke="#f23b3b" stroke-width="1.1"/>
<line x1="487.10" y1="205.90" x2="490.70" y2="205.90" stroke="#f23b3b" stroke-width="1.1"/>
<line x1="487.10" y1="207.90" x2="490.70" y2="207.90" stroke="#f23b3b" stroke-width="1.1"/>
<polyline points="378.90,196.10 387.30,196.10 395.10,196.10 403.00,194.70 410.90,195.70 418.40,196.10 426.20,202.70 434.20,202.70 441.90,202.70 450.00,180.30 457.70,181.20 465.20,181.70 473.10,206.90 481.00,206.90 488.90,206.90" fill="none" stroke="#f23b3b" stroke-width="2" stroke-linejoin="round"/>
<circle cx="378.90" cy="196.10" r="1.85" fill="#f23b3b"/>
<circle cx="387.30" cy="196.10" r="1.85" fill="#f23b3b"/>
<circle cx="395.10" cy="196.10" r="1.85" fill="#f23b3b"/>
<circle cx="403.00" cy="194.70" r="1.85" fill="#f23b3b"/>
<circle cx="410.90" cy="195.70" r="1.85" fill="#f23b3b"/>
<circle cx="418.40" cy="196.10" r="1.85" fill="#f23b3b"/>
<circle cx="426.20" cy="202.70" r="1.85" fill="#f23b3b"/>
<circle cx="434.20" cy="202.70" r="1.85" fill="#f23b3b"/>
<circle cx="441.90" cy="202.70" r="1.85" fill="#f23b3b"/>
<circle cx="450.00" cy="180.30" r="1.85" fill="#f23b3b"/>
<circle cx="457.70" cy="181.20" r="1.85" fill="#f23b3b"/>
<circle cx="465.20" cy="181.70" r="1.85" fill="#f23b3b"/>
<circle cx="473.10" cy="206.90" r="1.85" fill="#f23b3b"/>
<circle cx="481.00" cy="206.90" r="1.85" fill="#f23b3b"/>
<circle cx="488.90" cy="206.90" r="1.85" fill="#f23b3b"/>
<line x1="378.90" y1="183.90" x2="378.90" y2="190.70" stroke="#7a7a7a" stroke-width="1.1"/>
<line x1="377.10" y1="183.90" x2="380.70" y2="183.90" stroke="#7a7a7a" stroke-width="1.1"/>
<line x1="377.10" y1="190.70" x2="380.70" y2="190.70" stroke="#7a7a7a" stroke-width="1.1"/>
<line x1="387.30" y1="184.30" x2="387.30" y2="191.10" stroke="#7a7a7a" stroke-width="1.1"/>
<line x1="385.50" y1="184.30" x2="389.10" y2="184.30" stroke="#7a7a7a" stroke-width="1.1"/>
<line x1="385.50" y1="191.10" x2="389.10" y2="191.10" stroke="#7a7a7a" stroke-width="1.1"/>
<line x1="395.10" y1="184.30" x2="395.10" y2="191.10" stroke="#7a7a7a" stroke-width="1.1"/>
<line x1="393.30" y1="184.30" x2="396.90" y2="184.30" stroke="#7a7a7a" stroke-width="1.1"/>
<line x1="393.30" y1="191.10" x2="396.90" y2="191.10" stroke="#7a7a7a" stroke-width="1.1"/>
<line x1="403.00" y1="179.90" x2="403.00" y2="185.90" stroke="#7a7a7a" stroke-width="1.1"/>
<line x1="401.20" y1="179.90" x2="404.80" y2="179.90" stroke="#7a7a7a" stroke-width="1.1"/>
<line x1="401.20" y1="185.90" x2="404.80" y2="185.90" stroke="#7a7a7a" stroke-width="1.1"/>
<line x1="410.90" y1="179.90" x2="410.90" y2="185.90" stroke="#7a7a7a" stroke-width="1.1"/>
<line x1="409.10" y1="179.90" x2="412.70" y2="179.90" stroke="#7a7a7a" stroke-width="1.1"/>
<line x1="409.10" y1="185.90" x2="412.70" y2="185.90" stroke="#7a7a7a" stroke-width="1.1"/>
<line x1="418.40" y1="179.90" x2="418.40" y2="185.90" stroke="#7a7a7a" stroke-width="1.1"/>
<line x1="416.60" y1="179.90" x2="420.20" y2="179.90" stroke="#7a7a7a" stroke-width="1.1"/>
<line x1="416.60" y1="185.90" x2="420.20" y2="185.90" stroke="#7a7a7a" stroke-width="1.1"/>
<line x1="426.20" y1="191.00" x2="426.20" y2="199.40" stroke="#7a7a7a" stroke-width="1.1"/>
<line x1="424.40" y1="191.00" x2="428.00" y2="191.00" stroke="#7a7a7a" stroke-width="1.1"/>
<line x1="424.40" y1="199.40" x2="428.00" y2="199.40" stroke="#7a7a7a" stroke-width="1.1"/>
<line x1="434.20" y1="191.50" x2="434.20" y2="199.90" stroke="#7a7a7a" stroke-width="1.1"/>
<line x1="432.40" y1="191.50" x2="436.00" y2="191.50" stroke="#7a7a7a" stroke-width="1.1"/>
<line x1="432.40" y1="199.90" x2="436.00" y2="199.90" stroke="#7a7a7a" stroke-width="1.1"/>
<line x1="441.90" y1="191.50" x2="441.90" y2="199.90" stroke="#7a7a7a" stroke-width="1.1"/>
<line x1="440.10" y1="191.50" x2="443.70" y2="191.50" stroke="#7a7a7a" stroke-width="1.1"/>
<line x1="440.10" y1="199.90" x2="443.70" y2="199.90" stroke="#7a7a7a" stroke-width="1.1"/>
<line x1="450.00" y1="146.20" x2="450.00" y2="148.60" stroke="#7a7a7a" stroke-width="1.1"/>
<line x1="448.20" y1="146.20" x2="451.80" y2="146.20" stroke="#7a7a7a" stroke-width="1.1"/>
<line x1="448.20" y1="148.60" x2="451.80" y2="148.60" stroke="#7a7a7a" stroke-width="1.1"/>
<line x1="457.70" y1="146.70" x2="457.70" y2="149.10" stroke="#7a7a7a" stroke-width="1.1"/>
<line x1="455.90" y1="146.70" x2="459.50" y2="146.70" stroke="#7a7a7a" stroke-width="1.1"/>
<line x1="455.90" y1="149.10" x2="459.50" y2="149.10" stroke="#7a7a7a" stroke-width="1.1"/>
<line x1="465.20" y1="146.20" x2="465.20" y2="148.60" stroke="#7a7a7a" stroke-width="1.1"/>
<line x1="463.40" y1="146.20" x2="467.00" y2="146.20" stroke="#7a7a7a" stroke-width="1.1"/>
<line x1="463.40" y1="148.60" x2="467.00" y2="148.60" stroke="#7a7a7a" stroke-width="1.1"/>
<line x1="473.10" y1="197.70" x2="473.10" y2="199.70" stroke="#7a7a7a" stroke-width="1.1"/>
<line x1="471.30" y1="197.70" x2="474.90" y2="197.70" stroke="#7a7a7a" stroke-width="1.1"/>
<line x1="471.30" y1="199.70" x2="474.90" y2="199.70" stroke="#7a7a7a" stroke-width="1.1"/>
<line x1="481.00" y1="197.70" x2="481.00" y2="199.70" stroke="#7a7a7a" stroke-width="1.1"/>
<line x1="479.20" y1="197.70" x2="482.80" y2="197.70" stroke="#7a7a7a" stroke-width="1.1"/>
<line x1="479.20" y1="199.70" x2="482.80" y2="199.70" stroke="#7a7a7a" stroke-width="1.1"/>
<line x1="488.90" y1="197.70" x2="488.90" y2="199.70" stroke="#7a7a7a" stroke-width="1.1"/>
<line x1="487.10" y1="197.70" x2="490.70" y2="197.70" stroke="#7a7a7a" stroke-width="1.1"/>
<line x1="487.10" y1="199.70" x2="490.70" y2="199.70" stroke="#7a7a7a" stroke-width="1.1"/>
<polyline points="378.90,187.30 387.30,187.70 395.10,187.70 403.00,182.90 410.90,182.90 418.40,182.90 426.20,195.20 434.20,195.70 441.90,195.70 450.00,147.40 457.70,147.90 465.20,147.40 473.10,198.70 481.00,198.70 488.90,198.70" fill="none" stroke="#7a7a7a" stroke-width="2" stroke-linejoin="round"/>
<rect x="376.90" y="185.30" width="4.00" height="4.00" fill="#7a7a7a"/>
<rect x="385.30" y="185.70" width="4.00" height="4.00" fill="#7a7a7a"/>
<rect x="393.10" y="185.70" width="4.00" height="4.00" fill="#7a7a7a"/>
<rect x="401.00" y="180.90" width="4.00" height="4.00" fill="#7a7a7a"/>
<rect x="408.90" y="180.90" width="4.00" height="4.00" fill="#7a7a7a"/>
<rect x="416.40" y="180.90" width="4.00" height="4.00" fill="#7a7a7a"/>
<rect x="424.20" y="193.20" width="4.00" height="4.00" fill="#7a7a7a"/>
<rect x="432.20" y="193.70" width="4.00" height="4.00" fill="#7a7a7a"/>
<rect x="439.90" y="193.70" width="4.00" height="4.00" fill="#7a7a7a"/>
<rect x="448.00" y="145.40" width="4.00" height="4.00" fill="#7a7a7a"/>
<rect x="455.70" y="145.90" width="4.00" height="4.00" fill="#7a7a7a"/>
<rect x="463.20" y="145.40" width="4.00" height="4.00" fill="#7a7a7a"/>
<rect x="471.10" y="196.70" width="4.00" height="4.00" fill="#7a7a7a"/>
<rect x="479.00" y="196.70" width="4.00" height="4.00" fill="#7a7a7a"/>
<rect x="486.90" y="196.70" width="4.00" height="4.00" fill="#7a7a7a"/>
<text x="512.20" y="11.40" font-size="15.5" font-weight="bold">D</text>
<rect x="545.30" y="45.80" width="4.00" height="4.00" fill="#7a7a7a"/>
<text x="557.30" y="50.55" font-size="8" stroke="#000" stroke-width="0.22">Vehicle</text>
<circle cx="547.30" cy="62.90" r="2.05" fill="#f23b3b"/>
<text x="557.30" y="65.65" font-size="8" stroke="#000" stroke-width="0.22">iMQT_020</text>
<rect x="545.30" y="75.90" width="4.00" height="4.00" fill="#9a0fe0"/>
<text x="557.30" y="80.65" font-size="8" stroke="#000" stroke-width="0.22">Vehicle</text>
<circle cx="547.30" cy="93.30" r="2.05" fill="#12bf7c"/>
<text x="557.30" y="96.05" font-size="8" stroke="#000" stroke-width="0.22">iMQT_020</text>
<line x1="609.60" y1="45.50" x2="609.60" y2="67.70" stroke="#000" stroke-width="2.1"/>
<text x="617.30" y="59.35" font-size="8" stroke="#000" stroke-width="0.22">WT</text>
<line x1="609.60" y1="75.40" x2="609.60" y2="97.60" stroke="#000" stroke-width="2.1"/>
<text x="617.30" y="89.25" font-size="8" stroke="#000" stroke-width="0.22">FIL/AAA</text>
<line x1="541.60" y1="118.00" x2="541.60" y2="233.00" stroke="#000" stroke-width="2"/>
<line x1="535.60" y1="118.80" x2="541.60" y2="118.80" stroke="#000" stroke-width="1.8"/>
<text x="533.40" y="121.10" font-size="6.4" text-anchor="end" fill="#a3a3a3">300</text>
<line x1="535.60" y1="156.00" x2="541.60" y2="156.00" stroke="#000" stroke-width="1.8"/>
<text x="533.40" y="158.30" font-size="6.4" text-anchor="end" fill="#a3a3a3">200</text>
<line x1="535.60" y1="194.00" x2="541.60" y2="194.00" stroke="#000" stroke-width="1.8"/>
<text x="533.40" y="196.30" font-size="6.4" text-anchor="end" fill="#a3a3a3">100</text>
<line x1="535.60" y1="232.00" x2="541.60" y2="232.00" stroke="#000" stroke-width="1.8"/>
<text x="533.40" y="234.30" font-size="6.4" text-anchor="end" fill="#a3a3a3">0</text>
<line x1="540.60" y1="232.00" x2="656.10" y2="232.00" stroke="#000" stroke-width="2"/>
<line x1="570.00" y1="232.00" x2="570.00" y2="237.80" stroke="#000" stroke-width="1.8"/>
<line x1="627.00" y1="232.00" x2="627.00" y2="237.80" stroke="#000" stroke-width="1.8"/>
<line x1="545.90" y1="240.90" x2="593.30" y2="240.90" stroke="#000" stroke-width="2"/>
<line x1="603.30" y1="240.90" x2="650.50" y2="240.90" stroke="#000" stroke-width="2"/>
<text x="570.00" y="256.41" font-size="10.5" font-weight="bold" text-anchor="middle">Basal</text>
<text x="627.00" y="256.41" font-size="10.5" font-weight="bold" text-anchor="middle">FCCP</text>
<text x="515.30" y="174.40" font-size="10.8" font-weight="bold" text-anchor="middle" transform="rotate(-90 515.30 174.40)">OCR (pmol/min/10<tspan font-size="7.3" dy="-3.9">4</tspan><tspan dy="3.9">cells)</tspan></text>
<rect x="548.10" y="185.80" width="4.80" height="4.80" fill="#7a7a7a"/>
<rect x="551.60" y="186.10" width="4.80" height="4.80" fill="#7a7a7a"/>
<rect x="549.10" y="192.20" width="4.80" height="4.80" fill="#7a7a7a"/>
<circle cx="564.10" cy="195.80" r="2.40" fill="#f23b3b"/>
<circle cx="561.80" cy="198.10" r="2.40" fill="#f23b3b"/>
<circle cx="566.50" cy="198.10" r="2.40" fill="#f23b3b"/>
<line x1="576.40" y1="200.00" x2="576.40" y2="207.50" stroke="#9a0fe0" stroke-width="1.2"/>
<line x1="573.90" y1="200.00" x2="578.90" y2="200.00" stroke="#9a0fe0" stroke-width="1.2"/>
<line x1="573.90" y1="207.50" x2="578.90" y2="207.50" stroke="#9a0fe0" stroke-width="1.2"/>
<line x1="572.90" y1="202.50" x2="579.90" y2="202.50" stroke="#9a0fe0" stroke-width="1.3"/>
<rect x="572.00" y="199.80" width="4.80" height="4.80" fill="#9a0fe0"/>
<rect x="576.00" y="199.80" width="4.80" height="4.80" fill="#9a0fe0"/>
<rect x="573.70" y="205.60" width="4.80" height="4.80" fill="#9a0fe0"/>
<line x1="588.70" y1="197.00" x2="588.70" y2="207.00" stroke="#12bf7c" stroke-width="1.2"/>
<line x1="586.20" y1="197.00" x2="591.20" y2="197.00" stroke="#12bf7c" stroke-width="1.2"/>
<line x1="586.20" y1="207.00" x2="591.20" y2="207.00" stroke="#12bf7c" stroke-width="1.2"/>
<line x1="585.20" y1="201.60" x2="592.20" y2="201.60" stroke="#12bf7c" stroke-width="1.3"/>
<circle cx="588.70" cy="197.50" r="2.40" fill="#12bf7c"/>
<circle cx="588.70" cy="201.60" r="2.40" fill="#12bf7c"/>
<circle cx="588.70" cy="208.60" r="2.40" fill="#12bf7c"/>
<rect x="604.10" y="148.60" width="4.80" height="4.80" fill="#7a7a7a"/>
<rect x="608.10" y="148.60" width="4.80" height="4.80" fill="#7a7a7a"/>
<rect x="606.10" y="145.10" width="4.80" height="4.80" fill="#7a7a7a"/>
<circle cx="619.00" cy="184.50" r="2.40" fill="#f23b3b"/>
<circle cx="623.00" cy="184.50" r="2.40" fill="#f23b3b"/>
<circle cx="621.00" cy="189.00" r="2.40" fill="#f23b3b"/>
<line x1="633.10" y1="186.00" x2="633.10" y2="199.00" stroke="#9a0fe0" stroke-width="1.2"/>
<line x1="630.60" y1="186.00" x2="635.60" y2="186.00" stroke="#9a0fe0" stroke-width="1.2"/>
<line x1="630.60" y1="199.00" x2="635.60" y2="199.00" stroke="#9a0fe0" stroke-width="1.2"/>
<line x1="629.60" y1="193.40" x2="636.60" y2="193.40" stroke="#9a0fe0" stroke-width="1.3"/>
<rect x="630.70" y="182.60" width="4.80" height="4.80" fill="#9a0fe0"/>
<rect x="628.70" y="193.10" width="4.80" height="4.80" fill="#9a0fe0"/>
<rect x="632.20" y="193.10" width="4.80" height="4.80" fill="#9a0fe0"/>
<line x1="645.40" y1="189.00" x2="645.40" y2="199.00" stroke="#12bf7c" stroke-width="1.2"/>
<line x1="642.90" y1="189.00" x2="647.90" y2="189.00" stroke="#12bf7c" stroke-width="1.2"/>
<line x1="642.90" y1="199.00" x2="647.90" y2="199.00" stroke="#12bf7c" stroke-width="1.2"/>
<line x1="641.90" y1="194.00" x2="648.90" y2="194.00" stroke="#12bf7c" stroke-width="1.3"/>
<circle cx="645.40" cy="189.00" r="2.40" fill="#12bf7c"/>
<circle cx="645.40" cy="198.50" r="2.40" fill="#12bf7c"/>
<circle cx="645.40" cy="194.00" r="2.40" fill="#12bf7c"/>
<circle cx="555.30" cy="164.00" r="1.3" fill="#000"/>
<circle cx="559.30" cy="164.00" r="1.3" fill="#000"/>
<line x1="550.90" y1="172.20" x2="564.20" y2="172.20" stroke="#000" stroke-width="1.15"/>
<text x="582.80" y="183.43" font-size="7.5" text-anchor="middle" fill="#8a8a8a" stroke="#8a8a8a" stroke-width="0.22">ns</text>
<line x1="577.70" y1="191.60" x2="587.90" y2="191.60" stroke="#000" stroke-width="1.15"/>
<circle cx="611.30" cy="129.00" r="1.3" fill="#000"/>
<circle cx="615.30" cy="129.00" r="1.3" fill="#000"/>
<circle cx="619.30" cy="129.00" r="1.3" fill="#000"/>
<line x1="609.10" y1="137.90" x2="621.90" y2="137.90" stroke="#000" stroke-width="1.15"/>
<circle cx="614.60" cy="170.40" r="1.3" fill="#000"/>
<circle cx="618.60" cy="170.40" r="1.3" fill="#000"/>
<circle cx="622.60" cy="170.40" r="1.3" fill="#000"/>
<text x="640.30" y="162.93" font-size="7.5" text-anchor="middle" fill="#8a8a8a" stroke="#8a8a8a" stroke-width="0.22">ns</text>
<line x1="633.10" y1="171.10" x2="648.00" y2="171.10" stroke="#000" stroke-width="1.15"/>
<circle cx="558.50" cy="190.80" r="0.9" fill="#000"/>
<text x="3.30" y="277.40" font-size="15.5" font-weight="bold">E</text>
<line x1="28.90" y1="278.00" x2="49.30" y2="278.00" stroke="#7a7a7a" stroke-width="2"/>
<rect x="37.10" y="276.00" width="4.00" height="4.00" fill="#7a7a7a"/>
<text x="58.80" y="280.75" font-size="8" stroke="#000" stroke-width="0.22">Vehicle</text>
<line x1="28.90" y1="293.10" x2="49.30" y2="293.10" stroke="#f23b3b" stroke-width="2"/>
<circle cx="39.10" cy="293.10" r="1.90" fill="#f23b3b"/>
<text x="58.80" y="295.85" font-size="8" stroke="#000" stroke-width="0.22">iMQT_020</text>
<line x1="28.90" y1="308.10" x2="49.30" y2="308.10" stroke="#9a0fe0" stroke-width="2"/>
<rect x="37.10" y="306.10" width="4.00" height="4.00" fill="#9a0fe0"/>
<text x="58.80" y="310.85" font-size="8" stroke="#000" stroke-width="0.22">Vehicle</text>
<line x1="28.90" y1="323.20" x2="49.30" y2="323.20" stroke="#12bf7c" stroke-width="2"/>
<circle cx="39.10" cy="323.20" r="1.90" fill="#12bf7c"/>
<text x="58.80" y="325.95" font-size="8" stroke="#000" stroke-width="0.22">iMQT_020</text>
<line x1="28.90" y1="338.30" x2="49.30" y2="338.30" stroke="#c4925a" stroke-width="2"/>
<rect x="37.10" y="336.30" width="4.00" height="4.00" fill="#c4925a"/>
<text x="58.80" y="341.05" font-size="8" stroke="#000" stroke-width="0.22">Vehicle</text>
<line x1="28.90" y1="353.40" x2="49.30" y2="353.40" stroke="#ff5c0a" stroke-width="2"/>
<circle cx="39.10" cy="353.40" r="1.90" fill="#ff5c0a"/>
<text x="58.80" y="356.15" font-size="8" stroke="#000" stroke-width="0.22">iMQT_020</text>
<line x1="114.20" y1="273.40" x2="114.20" y2="295.90" stroke="#000" stroke-width="2.1"/>
<text x="120.10" y="287.40" font-size="8" stroke="#000" stroke-width="0.22">Con</text>
<line x1="114.20" y1="303.50" x2="114.20" y2="326.00" stroke="#000" stroke-width="2.1"/>
<text x="120.10" y="317.50" font-size="8" stroke="#000" stroke-width="0.22">WT</text>
<line x1="114.20" y1="333.70" x2="114.20" y2="355.90" stroke="#000" stroke-width="2.1"/>
<text x="120.10" y="347.55" font-size="8" stroke="#000" stroke-width="0.22">FIL/AAA</text>
<line x1="38.60" y1="381.00" x2="38.60" y2="499.80" stroke="#000" stroke-width="2"/>
<line x1="32.60" y1="381.80" x2="38.60" y2="381.80" stroke="#000" stroke-width="1.8"/>
<text x="30.40" y="384.10" font-size="6.4" text-anchor="end" fill="#a3a3a3">600</text>
<line x1="32.60" y1="418.40" x2="38.60" y2="418.40" stroke="#000" stroke-width="1.8"/>
<text x="30.40" y="420.70" font-size="6.4" text-anchor="end" fill="#a3a3a3">400</text>
<line x1="32.60" y1="456.30" x2="38.60" y2="456.30" stroke="#000" stroke-width="1.8"/>
<text x="30.40" y="458.60" font-size="6.4" text-anchor="end" fill="#a3a3a3">200</text>
<line x1="32.60" y1="493.80" x2="38.60" y2="493.80" stroke="#000" stroke-width="1.8"/>
<text x="30.40" y="496.10" font-size="6.4" text-anchor="end" fill="#a3a3a3">0</text>
<line x1="37.60" y1="493.80" x2="152.80" y2="493.80" stroke="#000" stroke-width="2"/>
<line x1="38.60" y1="493.80" x2="38.60" y2="499.80" stroke="#000" stroke-width="1.8"/>
<text x="38.60" y="509.20" font-size="6.4" text-anchor="middle" fill="#a3a3a3">0</text>
<line x1="83.80" y1="493.80" x2="83.80" y2="499.80" stroke="#000" stroke-width="1.8"/>
<text x="83.80" y="509.20" font-size="6.4" text-anchor="middle" fill="#a3a3a3">50</text>
<line x1="129.00" y1="493.80" x2="129.00" y2="499.80" stroke="#000" stroke-width="1.8"/>
<text x="129.00" y="509.20" font-size="6.4" text-anchor="middle" fill="#a3a3a3">100</text>
<text x="97.00" y="522.60" font-size="10.75" font-weight="bold" text-anchor="middle">Time (min)</text>
<text x="8.40" y="434.10" font-size="10.8" font-weight="bold" text-anchor="middle" transform="rotate(-90 8.40 434.10)">OCR (pmol/min/10<tspan font-size="7.3" dy="-3.9">4</tspan><tspan dy="3.9">cells)</tspan></text>
<text x="57.50" y="384.45" font-size="8" text-anchor="middle" stroke="#000" stroke-width="0.22">DM-</text>
<text x="57.50" y="393.65" font-size="8" text-anchor="middle" stroke="#000" stroke-width="0.22"><tspan font-family="Liberation Serif">&#945;</tspan>KG</text>
<line x1="57.40" y1="400.50" x2="57.40" y2="407.00" stroke="#555" stroke-width="1.0"/>
<path d="M53.20,406.50 L61.60,406.50 L57.40,413.90 Z" fill="#000"/>
<text x="84.30" y="386.25" font-size="8" text-anchor="middle" stroke="#000" stroke-width="0.22">Oligo</text>
<line x1="84.20" y1="395.60" x2="84.20" y2="403.00" stroke="#555" stroke-width="1.0"/>
<path d="M80.00,402.50 L88.40,402.50 L84.20,409.90 Z" fill="#000"/>
<text x="106.00" y="373.45" font-size="8" text-anchor="middle" stroke="#000" stroke-width="0.22">FCCP</text>
<line x1="106.00" y1="384.90" x2="106.00" y2="391.90" stroke="#555" stroke-width="1.0"/>
<path d="M101.80,391.40 L110.20,391.40 L106.00,398.80 Z" fill="#000"/>
<text x="132.90" y="388.25" font-size="8" text-anchor="middle" stroke="#000" stroke-width="0.22">Rot/AA</text>
<line x1="132.40" y1="398.20" x2="132.40" y2="405.60" stroke="#555" stroke-width="1.0"/>
<path d="M128.20,405.10 L136.60,405.10 L132.40,412.50 Z" fill="#000"/>
<line x1="39.50" y1="467.50" x2="39.50" y2="471.50" stroke="#ff5c0a" stroke-width="1.1"/>
<line x1="37.70" y1="467.50" x2="41.30" y2="467.50" stroke="#ff5c0a" stroke-width="1.1"/>
<line x1="37.70" y1="471.50" x2="41.30" y2="471.50" stroke="#ff5c0a" stroke-width="1.1"/>
<line x1="47.40" y1="468.30" x2="47.40" y2="472.30" stroke="#ff5c0a" stroke-width="1.1"/>
<line x1="45.60" y1="468.30" x2="49.20" y2="468.30" stroke="#ff5c0a" stroke-width="1.1"/>
<line x1="45.60" y1="472.30" x2="49.20" y2="472.30" stroke="#ff5c0a" stroke-width="1.1"/>
<line x1="54.90" y1="468.70" x2="54.90" y2="472.70" stroke="#ff5c0a" stroke-width="1.1"/>
<line x1="53.10" y1="468.70" x2="56.70" y2="468.70" stroke="#ff5c0a" stroke-width="1.1"/>
<line x1="53.10" y1="472.70" x2="56.70" y2="472.70" stroke="#ff5c0a" stroke-width="1.1"/>
<line x1="62.60" y1="451.30" x2="62.60" y2="461.30" stroke="#ff5c0a" stroke-width="1.1"/>
<line x1="60.80" y1="451.30" x2="64.40" y2="451.30" stroke="#ff5c0a" stroke-width="1.1"/>
<line x1="60.80" y1="461.30" x2="64.40" y2="461.30" stroke="#ff5c0a" stroke-width="1.1"/>
<line x1="70.70" y1="452.20" x2="70.70" y2="462.20" stroke="#ff5c0a" stroke-width="1.1"/>
<line x1="68.90" y1="452.20" x2="72.50" y2="452.20" stroke="#ff5c0a" stroke-width="1.1"/>
<line x1="68.90" y1="462.20" x2="72.50" y2="462.20" stroke="#ff5c0a" stroke-width="1.1"/>
<line x1="78.00" y1="453.10" x2="78.00" y2="463.10" stroke="#ff5c0a" stroke-width="1.1"/>
<line x1="76.20" y1="453.10" x2="79.80" y2="453.10" stroke="#ff5c0a" stroke-width="1.1"/>
<line x1="76.20" y1="463.10" x2="79.80" y2="463.10" stroke="#ff5c0a" stroke-width="1.1"/>
<line x1="85.90" y1="465.60" x2="85.90" y2="471.60" stroke="#ff5c0a" stroke-width="1.1"/>
<line x1="84.10" y1="465.60" x2="87.70" y2="465.60" stroke="#ff5c0a" stroke-width="1.1"/>
<line x1="84.10" y1="471.60" x2="87.70" y2="471.60" stroke="#ff5c0a" stroke-width="1.1"/>
<line x1="93.80" y1="465.60" x2="93.80" y2="471.60" stroke="#ff5c0a" stroke-width="1.1"/>
<line x1="92.00" y1="465.60" x2="95.60" y2="465.60" stroke="#ff5c0a" stroke-width="1.1"/>
<line x1="92.00" y1="471.60" x2="95.60" y2="471.60" stroke="#ff5c0a" stroke-width="1.1"/>
<line x1="101.70" y1="466.50" x2="101.70" y2="472.50" stroke="#ff5c0a" stroke-width="1.1"/>
<line x1="99.90" y1="466.50" x2="103.50" y2="466.50" stroke="#ff5c0a" stroke-width="1.1"/>
<line x1="99.90" y1="472.50" x2="103.50" y2="472.50" stroke="#ff5c0a" stroke-width="1.1"/>
<line x1="109.60" y1="438.00" x2="109.60" y2="450.00" stroke="#ff5c0a" stroke-width="1.1"/>
<line x1="107.80" y1="438.00" x2="111.40" y2="438.00" stroke="#ff5c0a" stroke-width="1.1"/>
<line x1="107.80" y1="450.00" x2="111.40" y2="450.00" stroke="#ff5c0a" stroke-width="1.1"/>
<line x1="117.50" y1="438.00" x2="117.50" y2="450.00" stroke="#ff5c0a" stroke-width="1.1"/>
<line x1="115.70" y1="438.00" x2="119.30" y2="438.00" stroke="#ff5c0a" stroke-width="1.1"/>
<line x1="115.70" y1="450.00" x2="119.30" y2="450.00" stroke="#ff5c0a" stroke-width="1.1"/>
<line x1="125.00" y1="438.90" x2="125.00" y2="450.90" stroke="#ff5c0a" stroke-width="1.1"/>
<line x1="123.20" y1="438.90" x2="126.80" y2="438.90" stroke="#ff5c0a" stroke-width="1.1"/>
<line x1="123.20" y1="450.90" x2="126.80" y2="450.90" stroke="#ff5c0a" stroke-width="1.1"/>
<line x1="133.20" y1="477.10" x2="133.20" y2="481.10" stroke="#ff5c0a" stroke-width="1.1"/>
<line x1="131.40" y1="477.10" x2="135.00" y2="477.10" stroke="#ff5c0a" stroke-width="1.1"/>
<line x1="131.40" y1="481.10" x2="135.00" y2="481.10" stroke="#ff5c0a" stroke-width="1.1"/>
<line x1="140.80" y1="477.40" x2="140.80" y2="481.40" stroke="#ff5c0a" stroke-width="1.1"/>
<line x1="139.00" y1="477.40" x2="142.60" y2="477.40" stroke="#ff5c0a" stroke-width="1.1"/>
<line x1="139.00" y1="481.40" x2="142.60" y2="481.40" stroke="#ff5c0a" stroke-width="1.1"/>
<line x1="148.50" y1="478.00" x2="148.50" y2="482.00" stroke="#ff5c0a" stroke-width="1.1"/>
<line x1="146.70" y1="478.00" x2="150.30" y2="478.00" stroke="#ff5c0a" stroke-width="1.1"/>
<line x1="146.70" y1="482.00" x2="150.30" y2="482.00" stroke="#ff5c0a" stroke-width="1.1"/>
<polyline points="39.50,469.50 47.40,470.30 54.90,470.70 62.60,456.30 70.70,457.20 78.00,458.10 85.90,468.60 93.80,468.60 101.70,469.50 109.60,444.00 117.50,444.00 125.00,444.90 133.20,479.10 140.80,479.40 148.50,480.00" fill="none" stroke="#ff5c0a" stroke-width="2" stroke-linejoin="round"/>
<circle cx="39.50" cy="469.50" r="1.85" fill="#ff5c0a"/>
<circle cx="47.40" cy="470.30" r="1.85" fill="#ff5c0a"/>
<circle cx="54.90" cy="470.70" r="1.85" fill="#ff5c0a"/>
<circle cx="62.60" cy="456.30" r="1.85" fill="#ff5c0a"/>
<circle cx="70.70" cy="457.20" r="1.85" fill="#ff5c0a"/>
<circle cx="78.00" cy="458.10" r="1.85" fill="#ff5c0a"/>
<circle cx="85.90" cy="468.60" r="1.85" fill="#ff5c0a"/>
<circle cx="93.80" cy="468.60" r="1.85" fill="#ff5c0a"/>
<circle cx="101.70" cy="469.50" r="1.85" fill="#ff5c0a"/>
<circle cx="109.60" cy="444.00" r="1.85" fill="#ff5c0a"/>
<circle cx="117.50" cy="444.00" r="1.85" fill="#ff5c0a"/>
<circle cx="125.00" cy="444.90" r="1.85" fill="#ff5c0a"/>
<circle cx="133.20" cy="479.10" r="1.85" fill="#ff5c0a"/>
<circle cx="140.80" cy="479.40" r="1.85" fill="#ff5c0a"/>
<circle cx="148.50" cy="480.00" r="1.85" fill="#ff5c0a"/>
<line x1="39.50" y1="461.30" x2="39.50" y2="465.30" stroke="#c4925a" stroke-width="1.1"/>
<line x1="37.70" y1="461.30" x2="41.30" y2="461.30" stroke="#c4925a" stroke-width="1.1"/>
<line x1="37.70" y1="465.30" x2="41.30" y2="465.30" stroke="#c4925a" stroke-width="1.1"/>
<line x1="47.40" y1="462.20" x2="47.40" y2="466.20" stroke="#c4925a" stroke-width="1.1"/>
<line x1="45.60" y1="462.20" x2="49.20" y2="462.20" stroke="#c4925a" stroke-width="1.1"/>
<line x1="45.60" y1="466.20" x2="49.20" y2="466.20" stroke="#c4925a" stroke-width="1.1"/>
<line x1="54.90" y1="463.10" x2="54.90" y2="467.10" stroke="#c4925a" stroke-width="1.1"/>
<line x1="53.10" y1="463.10" x2="56.70" y2="463.10" stroke="#c4925a" stroke-width="1.1"/>
<line x1="53.10" y1="467.10" x2="56.70" y2="467.10" stroke="#c4925a" stroke-width="1.1"/>
<line x1="62.60" y1="447.40" x2="62.60" y2="463.40" stroke="#c4925a" stroke-width="1.1"/>
<line x1="60.80" y1="447.40" x2="64.40" y2="447.40" stroke="#c4925a" stroke-width="1.1"/>
<line x1="60.80" y1="463.40" x2="64.40" y2="463.40" stroke="#c4925a" stroke-width="1.1"/>
<line x1="70.70" y1="449.70" x2="70.70" y2="465.70" stroke="#c4925a" stroke-width="1.1"/>
<line x1="68.90" y1="449.70" x2="72.50" y2="449.70" stroke="#c4925a" stroke-width="1.1"/>
<line x1="68.90" y1="465.70" x2="72.50" y2="465.70" stroke="#c4925a" stroke-width="1.1"/>
<line x1="78.00" y1="450.10" x2="78.00" y2="466.10" stroke="#c4925a" stroke-width="1.1"/>
<line x1="76.20" y1="450.10" x2="79.80" y2="450.10" stroke="#c4925a" stroke-width="1.1"/>
<line x1="76.20" y1="466.10" x2="79.80" y2="466.10" stroke="#c4925a" stroke-width="1.1"/>
<line x1="85.90" y1="462.10" x2="85.90" y2="468.10" stroke="#c4925a" stroke-width="1.1"/>
<line x1="84.10" y1="462.10" x2="87.70" y2="462.10" stroke="#c4925a" stroke-width="1.1"/>
<line x1="84.10" y1="468.10" x2="87.70" y2="468.10" stroke="#c4925a" stroke-width="1.1"/>
<line x1="93.80" y1="463.00" x2="93.80" y2="469.00" stroke="#c4925a" stroke-width="1.1"/>
<line x1="92.00" y1="463.00" x2="95.60" y2="463.00" stroke="#c4925a" stroke-width="1.1"/>
<line x1="92.00" y1="469.00" x2="95.60" y2="469.00" stroke="#c4925a" stroke-width="1.1"/>
<line x1="101.70" y1="462.70" x2="101.70" y2="472.70" stroke="#c4925a" stroke-width="1.1"/>
<line x1="99.90" y1="462.70" x2="103.50" y2="462.70" stroke="#c4925a" stroke-width="1.1"/>
<line x1="99.90" y1="472.70" x2="103.50" y2="472.70" stroke="#c4925a" stroke-width="1.1"/>
<line x1="109.60" y1="431.40" x2="109.60" y2="451.40" stroke="#c4925a" stroke-width="1.1"/>
<line x1="107.80" y1="431.40" x2="111.40" y2="431.40" stroke="#c4925a" stroke-width="1.1"/>
<line x1="107.80" y1="451.40" x2="111.40" y2="451.40" stroke="#c4925a" stroke-width="1.1"/>
<line x1="117.50" y1="432.00" x2="117.50" y2="452.00" stroke="#c4925a" stroke-width="1.1"/>
<line x1="115.70" y1="432.00" x2="119.30" y2="432.00" stroke="#c4925a" stroke-width="1.1"/>
<line x1="115.70" y1="452.00" x2="119.30" y2="452.00" stroke="#c4925a" stroke-width="1.1"/>
<line x1="125.00" y1="432.00" x2="125.00" y2="452.00" stroke="#c4925a" stroke-width="1.1"/>
<line x1="123.20" y1="432.00" x2="126.80" y2="432.00" stroke="#c4925a" stroke-width="1.1"/>
<line x1="123.20" y1="452.00" x2="126.80" y2="452.00" stroke="#c4925a" stroke-width="1.1"/>
<line x1="133.20" y1="461.50" x2="133.20" y2="477.50" stroke="#c4925a" stroke-width="1.1"/>
<line x1="131.40" y1="461.50" x2="135.00" y2="461.50" stroke="#c4925a" stroke-width="1.1"/>
<line x1="131.40" y1="477.50" x2="135.00" y2="477.50" stroke="#c4925a" stroke-width="1.1"/>
<line x1="140.80" y1="461.50" x2="140.80" y2="477.50" stroke="#c4925a" stroke-width="1.1"/>
<line x1="139.00" y1="461.50" x2="142.60" y2="461.50" stroke="#c4925a" stroke-width="1.1"/>
<line x1="139.00" y1="477.50" x2="142.60" y2="477.50" stroke="#c4925a" stroke-width="1.1"/>
<line x1="148.50" y1="461.50" x2="148.50" y2="477.50" stroke="#c4925a" stroke-width="1.1"/>
<line x1="146.70" y1="461.50" x2="150.30" y2="461.50" stroke="#c4925a" stroke-width="1.1"/>
<line x1="146.70" y1="477.50" x2="150.30" y2="477.50" stroke="#c4925a" stroke-width="1.1"/>
<polyline points="39.50,463.30 47.40,464.20 54.90,465.10 62.60,455.40 70.70,457.70 78.00,458.10 85.90,465.10 93.80,466.00 101.70,467.70 109.60,441.40 117.50,442.00 125.00,442.00 133.20,469.50 140.80,469.50 148.50,469.50" fill="none" stroke="#c4925a" stroke-width="2" stroke-linejoin="round"/>
<rect x="37.50" y="461.30" width="4.00" height="4.00" fill="#c4925a"/>
<rect x="45.40" y="462.20" width="4.00" height="4.00" fill="#c4925a"/>
<rect x="52.90" y="463.10" width="4.00" height="4.00" fill="#c4925a"/>
<rect x="60.60" y="453.40" width="4.00" height="4.00" fill="#c4925a"/>
<rect x="68.70" y="455.70" width="4.00" height="4.00" fill="#c4925a"/>
<rect x="76.00" y="456.10" width="4.00" height="4.00" fill="#c4925a"/>
<rect x="83.90" y="463.10" width="4.00" height="4.00" fill="#c4925a"/>
<rect x="91.80" y="464.00" width="4.00" height="4.00" fill="#c4925a"/>
<rect x="99.70" y="465.70" width="4.00" height="4.00" fill="#c4925a"/>
<rect x="107.60" y="439.40" width="4.00" height="4.00" fill="#c4925a"/>
<rect x="115.50" y="440.00" width="4.00" height="4.00" fill="#c4925a"/>
<rect x="123.00" y="440.00" width="4.00" height="4.00" fill="#c4925a"/>
<rect x="131.20" y="467.50" width="4.00" height="4.00" fill="#c4925a"/>
<rect x="138.80" y="467.50" width="4.00" height="4.00" fill="#c4925a"/>
<rect x="146.50" y="467.50" width="4.00" height="4.00" fill="#c4925a"/>
<line x1="39.50" y1="469.20" x2="39.50" y2="473.20" stroke="#f23b3b" stroke-width="1.1"/>
<line x1="37.70" y1="469.20" x2="41.30" y2="469.20" stroke="#f23b3b" stroke-width="1.1"/>
<line x1="37.70" y1="473.20" x2="41.30" y2="473.20" stroke="#f23b3b" stroke-width="1.1"/>
<line x1="47.40" y1="470.10" x2="47.40" y2="474.10" stroke="#f23b3b" stroke-width="1.1"/>
<line x1="45.60" y1="470.10" x2="49.20" y2="470.10" stroke="#f23b3b" stroke-width="1.1"/>
<line x1="45.60" y1="474.10" x2="49.20" y2="474.10" stroke="#f23b3b" stroke-width="1.1"/>
<line x1="54.90" y1="469.20" x2="54.90" y2="473.20" stroke="#f23b3b" stroke-width="1.1"/>
<line x1="53.10" y1="469.20" x2="56.70" y2="469.20" stroke="#f23b3b" stroke-width="1.1"/>
<line x1="53.10" y1="473.20" x2="56.70" y2="473.20" stroke="#f23b3b" stroke-width="1.1"/>
<line x1="62.60" y1="452.40" x2="62.60" y2="458.40" stroke="#f23b3b" stroke-width="1.1"/>
<line x1="60.80" y1="452.40" x2="64.40" y2="452.40" stroke="#f23b3b" stroke-width="1.1"/>
<line x1="60.80" y1="458.40" x2="64.40" y2="458.40" stroke="#f23b3b" stroke-width="1.1"/>
<line x1="70.70" y1="455.10" x2="70.70" y2="461.10" stroke="#f23b3b" stroke-width="1.1"/>
<line x1="68.90" y1="455.10" x2="72.50" y2="455.10" stroke="#f23b3b" stroke-width="1.1"/>
<line x1="68.90" y1="461.10" x2="72.50" y2="461.10" stroke="#f23b3b" stroke-width="1.1"/>
<line x1="78.00" y1="455.40" x2="78.00" y2="461.40" stroke="#f23b3b" stroke-width="1.1"/>
<line x1="76.20" y1="455.40" x2="79.80" y2="455.40" stroke="#f23b3b" stroke-width="1.1"/>
<line x1="76.20" y1="461.40" x2="79.80" y2="461.40" stroke="#f23b3b" stroke-width="1.1"/>
<line x1="85.90" y1="467.50" x2="85.90" y2="471.50" stroke="#f23b3b" stroke-width="1.1"/>
<line x1="84.10" y1="467.50" x2="87.70" y2="467.50" stroke="#f23b3b" stroke-width="1.1"/>
<line x1="84.10" y1="471.50" x2="87.70" y2="471.50" stroke="#f23b3b" stroke-width="1.1"/>
<line x1="93.80" y1="467.50" x2="93.80" y2="471.50" stroke="#f23b3b" stroke-width="1.1"/>
<line x1="92.00" y1="467.50" x2="95.60" y2="467.50" stroke="#f23b3b" stroke-width="1.1"/>
<line x1="92.00" y1="471.50" x2="95.60" y2="471.50" stroke="#f23b3b" stroke-width="1.1"/>
<line x1="101.70" y1="467.50" x2="101.70" y2="471.50" stroke="#f23b3b" stroke-width="1.1"/>
<line x1="99.90" y1="467.50" x2="103.50" y2="467.50" stroke="#f23b3b" stroke-width="1.1"/>
<line x1="99.90" y1="471.50" x2="103.50" y2="471.50" stroke="#f23b3b" stroke-width="1.1"/>
<line x1="109.60" y1="452.40" x2="109.60" y2="458.40" stroke="#f23b3b" stroke-width="1.1"/>
<line x1="107.80" y1="452.40" x2="111.40" y2="452.40" stroke="#f23b3b" stroke-width="1.1"/>
<line x1="107.80" y1="458.40" x2="111.40" y2="458.40" stroke="#f23b3b" stroke-width="1.1"/>
<line x1="117.50" y1="454.20" x2="117.50" y2="460.20" stroke="#f23b3b" stroke-width="1.1"/>
<line x1="115.70" y1="454.20" x2="119.30" y2="454.20" stroke="#f23b3b" stroke-width="1.1"/>
<line x1="115.70" y1="460.20" x2="119.30" y2="460.20" stroke="#f23b3b" stroke-width="1.1"/>
<line x1="125.00" y1="454.20" x2="125.00" y2="460.20" stroke="#f23b3b" stroke-width="1.1"/>
<line x1="123.20" y1="454.20" x2="126.80" y2="454.20" stroke="#f23b3b" stroke-width="1.1"/>
<line x1="123.20" y1="460.20" x2="126.80" y2="460.20" stroke="#f23b3b" stroke-width="1.1"/>
<line x1="133.20" y1="478.80" x2="133.20" y2="482.80" stroke="#f23b3b" stroke-width="1.1"/>
<line x1="131.40" y1="478.80" x2="135.00" y2="478.80" stroke="#f23b3b" stroke-width="1.1"/>
<line x1="131.40" y1="482.80" x2="135.00" y2="482.80" stroke="#f23b3b" stroke-width="1.1"/>
<line x1="140.80" y1="479.70" x2="140.80" y2="483.70" stroke="#f23b3b" stroke-width="1.1"/>
<line x1="139.00" y1="479.70" x2="142.60" y2="479.70" stroke="#f23b3b" stroke-width="1.1"/>
<line x1="139.00" y1="483.70" x2="142.60" y2="483.70" stroke="#f23b3b" stroke-width="1.1"/>
<line x1="148.50" y1="480.20" x2="148.50" y2="484.20" stroke="#f23b3b" stroke-width="1.1"/>
<line x1="146.70" y1="480.20" x2="150.30" y2="480.20" stroke="#f23b3b" stroke-width="1.1"/>
<line x1="146.70" y1="484.20" x2="150.30" y2="484.20" stroke="#f23b3b" stroke-width="1.1"/>
<polyline points="39.50,471.20 47.40,472.10 54.90,471.20 62.60,455.40 70.70,458.10 78.00,458.40 85.90,469.50 93.80,469.50 101.70,469.50 109.60,455.40 117.50,457.20 125.00,457.20 133.20,480.80 140.80,481.70 148.50,482.20" fill="none" stroke="#f23b3b" stroke-width="2" stroke-linejoin="round"/>
<circle cx="39.50" cy="471.20" r="1.85" fill="#f23b3b"/>
<circle cx="47.40" cy="472.10" r="1.85" fill="#f23b3b"/>
<circle cx="54.90" cy="471.20" r="1.85" fill="#f23b3b"/>
<circle cx="62.60" cy="455.40" r="1.85" fill="#f23b3b"/>
<circle cx="70.70" cy="458.10" r="1.85" fill="#f23b3b"/>
<circle cx="78.00" cy="458.40" r="1.85" fill="#f23b3b"/>
<circle cx="85.90" cy="469.50" r="1.85" fill="#f23b3b"/>
<circle cx="93.80" cy="469.50" r="1.85" fill="#f23b3b"/>
<circle cx="101.70" cy="469.50" r="1.85" fill="#f23b3b"/>
<circle cx="109.60" cy="455.40" r="1.85" fill="#f23b3b"/>
<circle cx="117.50" cy="457.20" r="1.85" fill="#f23b3b"/>
<circle cx="125.00" cy="457.20" r="1.85" fill="#f23b3b"/>
<circle cx="133.20" cy="480.80" r="1.85" fill="#f23b3b"/>
<circle cx="140.80" cy="481.70" r="1.85" fill="#f23b3b"/>
<circle cx="148.50" cy="482.20" r="1.85" fill="#f23b3b"/>
<line x1="39.50" y1="463.00" x2="39.50" y2="469.00" stroke="#12bf7c" stroke-width="1.1"/>
<line x1="37.70" y1="463.00" x2="41.30" y2="463.00" stroke="#12bf7c" stroke-width="1.1"/>
<line x1="37.70" y1="469.00" x2="41.30" y2="469.00" stroke="#12bf7c" stroke-width="1.1"/>
<line x1="47.40" y1="464.70" x2="47.40" y2="470.70" stroke="#12bf7c" stroke-width="1.1"/>
<line x1="45.60" y1="464.70" x2="49.20" y2="464.70" stroke="#12bf7c" stroke-width="1.1"/>
<line x1="45.60" y1="470.70" x2="49.20" y2="470.70" stroke="#12bf7c" stroke-width="1.1"/>
<line x1="54.90" y1="462.60" x2="54.90" y2="474.60" stroke="#12bf7c" stroke-width="1.1"/>
<line x1="53.10" y1="462.60" x2="56.70" y2="462.60" stroke="#12bf7c" stroke-width="1.1"/>
<line x1="53.10" y1="474.60" x2="56.70" y2="474.60" stroke="#12bf7c" stroke-width="1.1"/>
<line x1="62.60" y1="429.60" x2="62.60" y2="441.60" stroke="#12bf7c" stroke-width="1.1"/>
<line x1="60.80" y1="429.60" x2="64.40" y2="429.60" stroke="#12bf7c" stroke-width="1.1"/>
<line x1="60.80" y1="441.60" x2="64.40" y2="441.60" stroke="#12bf7c" stroke-width="1.1"/>
<line x1="70.70" y1="434.20" x2="70.70" y2="446.20" stroke="#12bf7c" stroke-width="1.1"/>
<line x1="68.90" y1="434.20" x2="72.50" y2="434.20" stroke="#12bf7c" stroke-width="1.1"/>
<line x1="68.90" y1="446.20" x2="72.50" y2="446.20" stroke="#12bf7c" stroke-width="1.1"/>
<line x1="78.00" y1="435.40" x2="78.00" y2="447.40" stroke="#12bf7c" stroke-width="1.1"/>
<line x1="76.20" y1="435.40" x2="79.80" y2="435.40" stroke="#12bf7c" stroke-width="1.1"/>
<line x1="76.20" y1="447.40" x2="79.80" y2="447.40" stroke="#12bf7c" stroke-width="1.1"/>
<line x1="85.90" y1="445.30" x2="85.90" y2="453.30" stroke="#12bf7c" stroke-width="1.1"/>
<line x1="84.10" y1="445.30" x2="87.70" y2="445.30" stroke="#12bf7c" stroke-width="1.1"/>
<line x1="84.10" y1="453.30" x2="87.70" y2="453.30" stroke="#12bf7c" stroke-width="1.1"/>
<line x1="93.80" y1="448.80" x2="93.80" y2="456.80" stroke="#12bf7c" stroke-width="1.1"/>
<line x1="92.00" y1="448.80" x2="95.60" y2="448.80" stroke="#12bf7c" stroke-width="1.1"/>
<line x1="92.00" y1="456.80" x2="95.60" y2="456.80" stroke="#12bf7c" stroke-width="1.1"/>
<line x1="101.70" y1="453.20" x2="101.70" y2="461.20" stroke="#12bf7c" stroke-width="1.1"/>
<line x1="99.90" y1="453.20" x2="103.50" y2="453.20" stroke="#12bf7c" stroke-width="1.1"/>
<line x1="99.90" y1="461.20" x2="103.50" y2="461.20" stroke="#12bf7c" stroke-width="1.1"/>
<line x1="109.60" y1="405.50" x2="109.60" y2="419.50" stroke="#12bf7c" stroke-width="1.1"/>
<line x1="107.80" y1="405.50" x2="111.40" y2="405.50" stroke="#12bf7c" stroke-width="1.1"/>
<line x1="107.80" y1="419.50" x2="111.40" y2="419.50" stroke="#12bf7c" stroke-width="1.1"/>
<line x1="117.50" y1="406.40" x2="117.50" y2="420.40" stroke="#12bf7c" stroke-width="1.1"/>
<line x1="115.70" y1="406.40" x2="119.30" y2="406.40" stroke="#12bf7c" stroke-width="1.1"/>
<line x1="115.70" y1="420.40" x2="119.30" y2="420.40" stroke="#12bf7c" stroke-width="1.1"/>
<line x1="125.00" y1="407.30" x2="125.00" y2="421.30" stroke="#12bf7c" stroke-width="1.1"/>
<line x1="123.20" y1="407.30" x2="126.80" y2="407.30" stroke="#12bf7c" stroke-width="1.1"/>
<line x1="123.20" y1="421.30" x2="126.80" y2="421.30" stroke="#12bf7c" stroke-width="1.1"/>
<line x1="133.20" y1="480.50" x2="133.20" y2="486.50" stroke="#12bf7c" stroke-width="1.1"/>
<line x1="131.40" y1="480.50" x2="135.00" y2="480.50" stroke="#12bf7c" stroke-width="1.1"/>
<line x1="131.40" y1="486.50" x2="135.00" y2="486.50" stroke="#12bf7c" stroke-width="1.1"/>
<line x1="140.80" y1="481.30" x2="140.80" y2="487.30" stroke="#12bf7c" stroke-width="1.1"/>
<line x1="139.00" y1="481.30" x2="142.60" y2="481.30" stroke="#12bf7c" stroke-width="1.1"/>
<line x1="139.00" y1="487.30" x2="142.60" y2="487.30" stroke="#12bf7c" stroke-width="1.1"/>
<line x1="148.50" y1="482.20" x2="148.50" y2="488.20" stroke="#12bf7c" stroke-width="1.1"/>
<line x1="146.70" y1="482.20" x2="150.30" y2="482.20" stroke="#12bf7c" stroke-width="1.1"/>
<line x1="146.70" y1="488.20" x2="150.30" y2="488.20" stroke="#12bf7c" stroke-width="1.1"/>
<polyline points="39.50,466.00 47.40,467.70 54.90,468.60 62.60,435.60 70.70,440.20 78.00,441.40 85.90,449.30 93.80,452.80 101.70,457.20 109.60,412.50 117.50,413.40 125.00,414.30 133.20,483.50 140.80,484.30 148.50,485.20" fill="none" stroke="#12bf7c" stroke-width="2" stroke-linejoin="round"/>
<circle cx="39.50" cy="466.00" r="1.85" fill="#12bf7c"/>
<circle cx="47.40" cy="467.70" r="1.85" fill="#12bf7c"/>
<circle cx="54.90" cy="468.60" r="1.85" fill="#12bf7c"/>
<circle cx="62.60" cy="435.60" r="1.85" fill="#12bf7c"/>
<circle cx="70.70" cy="440.20" r="1.85" fill="#12bf7c"/>
<circle cx="78.00" cy="441.40" r="1.85" fill="#12bf7c"/>
<circle cx="85.90" cy="449.30" r="1.85" fill="#12bf7c"/>
<circle cx="93.80" cy="452.80" r="1.85" fill="#12bf7c"/>
<circle cx="101.70" cy="457.20" r="1.85" fill="#12bf7c"/>
<circle cx="109.60" cy="412.50" r="1.85" fill="#12bf7c"/>
<circle cx="117.50" cy="413.40" r="1.85" fill="#12bf7c"/>
<circle cx="125.00" cy="414.30" r="1.85" fill="#12bf7c"/>
<circle cx="133.20" cy="483.50" r="1.85" fill="#12bf7c"/>
<circle cx="140.80" cy="484.30" r="1.85" fill="#12bf7c"/>
<circle cx="148.50" cy="485.20" r="1.85" fill="#12bf7c"/>
<line x1="39.50" y1="458.20" x2="39.50" y2="462.20" stroke="#7a7a7a" stroke-width="1.1"/>
<line x1="37.70" y1="458.20" x2="41.30" y2="458.20" stroke="#7a7a7a" stroke-width="1.1"/>
<line x1="37.70" y1="462.20" x2="41.30" y2="462.20" stroke="#7a7a7a" stroke-width="1.1"/>
<line x1="47.40" y1="456.90" x2="47.40" y2="460.90" stroke="#7a7a7a" stroke-width="1.1"/>
<line x1="45.60" y1="456.90" x2="49.20" y2="456.90" stroke="#7a7a7a" stroke-width="1.1"/>
<line x1="45.60" y1="460.90" x2="49.20" y2="460.90" stroke="#7a7a7a" stroke-width="1.1"/>
<line x1="54.90" y1="456.40" x2="54.90" y2="460.40" stroke="#7a7a7a" stroke-width="1.1"/>
<line x1="53.10" y1="456.40" x2="56.70" y2="456.40" stroke="#7a7a7a" stroke-width="1.1"/>
<line x1="53.10" y1="460.40" x2="56.70" y2="460.40" stroke="#7a7a7a" stroke-width="1.1"/>
<line x1="62.60" y1="449.10" x2="62.60" y2="453.10" stroke="#7a7a7a" stroke-width="1.1"/>
<line x1="60.80" y1="449.10" x2="64.40" y2="449.10" stroke="#7a7a7a" stroke-width="1.1"/>
<line x1="60.80" y1="453.10" x2="64.40" y2="453.10" stroke="#7a7a7a" stroke-width="1.1"/>
<line x1="70.70" y1="448.70" x2="70.70" y2="452.70" stroke="#7a7a7a" stroke-width="1.1"/>
<line x1="68.90" y1="448.70" x2="72.50" y2="448.70" stroke="#7a7a7a" stroke-width="1.1"/>
<line x1="68.90" y1="452.70" x2="72.50" y2="452.70" stroke="#7a7a7a" stroke-width="1.1"/>
<line x1="78.00" y1="448.70" x2="78.00" y2="452.70" stroke="#7a7a7a" stroke-width="1.1"/>
<line x1="76.20" y1="448.70" x2="79.80" y2="448.70" stroke="#7a7a7a" stroke-width="1.1"/>
<line x1="76.20" y1="452.70" x2="79.80" y2="452.70" stroke="#7a7a7a" stroke-width="1.1"/>
<line x1="85.90" y1="464.50" x2="85.90" y2="468.50" stroke="#7a7a7a" stroke-width="1.1"/>
<line x1="84.10" y1="464.50" x2="87.70" y2="464.50" stroke="#7a7a7a" stroke-width="1.1"/>
<line x1="84.10" y1="468.50" x2="87.70" y2="468.50" stroke="#7a7a7a" stroke-width="1.1"/>
<line x1="93.80" y1="464.00" x2="93.80" y2="468.00" stroke="#7a7a7a" stroke-width="1.1"/>
<line x1="92.00" y1="464.00" x2="95.60" y2="464.00" stroke="#7a7a7a" stroke-width="1.1"/>
<line x1="92.00" y1="468.00" x2="95.60" y2="468.00" stroke="#7a7a7a" stroke-width="1.1"/>
<line x1="101.70" y1="463.40" x2="101.70" y2="467.40" stroke="#7a7a7a" stroke-width="1.1"/>
<line x1="99.90" y1="463.40" x2="103.50" y2="463.40" stroke="#7a7a7a" stroke-width="1.1"/>
<line x1="99.90" y1="467.40" x2="103.50" y2="467.40" stroke="#7a7a7a" stroke-width="1.1"/>
<line x1="109.60" y1="449.10" x2="109.60" y2="453.10" stroke="#7a7a7a" stroke-width="1.1"/>
<line x1="107.80" y1="449.10" x2="111.40" y2="449.10" stroke="#7a7a7a" stroke-width="1.1"/>
<line x1="107.80" y1="453.10" x2="111.40" y2="453.10" stroke="#7a7a7a" stroke-width="1.1"/>
<line x1="117.50" y1="448.70" x2="117.50" y2="452.70" stroke="#7a7a7a" stroke-width="1.1"/>
<line x1="115.70" y1="448.70" x2="119.30" y2="448.70" stroke="#7a7a7a" stroke-width="1.1"/>
<line x1="115.70" y1="452.70" x2="119.30" y2="452.70" stroke="#7a7a7a" stroke-width="1.1"/>
<line x1="125.00" y1="448.70" x2="125.00" y2="452.70" stroke="#7a7a7a" stroke-width="1.1"/>
<line x1="123.20" y1="448.70" x2="126.80" y2="448.70" stroke="#7a7a7a" stroke-width="1.1"/>
<line x1="123.20" y1="452.70" x2="126.80" y2="452.70" stroke="#7a7a7a" stroke-width="1.1"/>
<line x1="133.20" y1="478.00" x2="133.20" y2="482.00" stroke="#7a7a7a" stroke-width="1.1"/>
<line x1="131.40" y1="478.00" x2="135.00" y2="478.00" stroke="#7a7a7a" stroke-width="1.1"/>
<line x1="131.40" y1="482.00" x2="135.00" y2="482.00" stroke="#7a7a7a" stroke-width="1.1"/>
<line x1="140.80" y1="478.00" x2="140.80" y2="482.00" stroke="#7a7a7a" stroke-width="1.1"/>
<line x1="139.00" y1="478.00" x2="142.60" y2="478.00" stroke="#7a7a7a" stroke-width="1.1"/>
<line x1="139.00" y1="482.00" x2="142.60" y2="482.00" stroke="#7a7a7a" stroke-width="1.1"/>
<line x1="148.50" y1="478.00" x2="148.50" y2="482.00" stroke="#7a7a7a" stroke-width="1.1"/>
<line x1="146.70" y1="478.00" x2="150.30" y2="478.00" stroke="#7a7a7a" stroke-width="1.1"/>
<line x1="146.70" y1="482.00" x2="150.30" y2="482.00" stroke="#7a7a7a" stroke-width="1.1"/>
<polyline points="39.50,460.20 47.40,458.90 54.90,458.40 62.60,451.10 70.70,450.70 78.00,450.70 85.90,466.50 93.80,466.00 101.70,465.40 109.60,451.10 117.50,450.70 125.00,450.70 133.20,480.00 140.80,480.00 148.50,480.00" fill="none" stroke="#7a7a7a" stroke-width="2" stroke-linejoin="round"/>
<rect x="37.50" y="458.20" width="4.00" height="4.00" fill="#7a7a7a"/>
<rect x="45.40" y="456.90" width="4.00" height="4.00" fill="#7a7a7a"/>
<rect x="52.90" y="456.40" width="4.00" height="4.00" fill="#7a7a7a"/>
<rect x="60.60" y="449.10" width="4.00" height="4.00" fill="#7a7a7a"/>
<rect x="68.70" y="448.70" width="4.00" height="4.00" fill="#7a7a7a"/>
<rect x="76.00" y="448.70" width="4.00" height="4.00" fill="#7a7a7a"/>
<rect x="83.90" y="464.50" width="4.00" height="4.00" fill="#7a7a7a"/>
<rect x="91.80" y="464.00" width="4.00" height="4.00" fill="#7a7a7a"/>
<rect x="99.70" y="463.40" width="4.00" height="4.00" fill="#7a7a7a"/>
<rect x="107.60" y="449.10" width="4.00" height="4.00" fill="#7a7a7a"/>
<rect x="115.50" y="448.70" width="4.00" height="4.00" fill="#7a7a7a"/>
<rect x="123.00" y="448.70" width="4.00" height="4.00" fill="#7a7a7a"/>
<rect x="131.20" y="478.00" width="4.00" height="4.00" fill="#7a7a7a"/>
<rect x="138.80" y="478.00" width="4.00" height="4.00" fill="#7a7a7a"/>
<rect x="146.50" y="478.00" width="4.00" height="4.00" fill="#7a7a7a"/>
<line x1="39.50" y1="442.60" x2="39.50" y2="446.20" stroke="#9a0fe0" stroke-width="1.1"/>
<line x1="37.70" y1="442.60" x2="41.30" y2="442.60" stroke="#9a0fe0" stroke-width="1.1"/>
<line x1="37.70" y1="446.20" x2="41.30" y2="446.20" stroke="#9a0fe0" stroke-width="1.1"/>
<line x1="47.40" y1="443.00" x2="47.40" y2="448.00" stroke="#9a0fe0" stroke-width="1.1"/>
<line x1="45.60" y1="443.00" x2="49.20" y2="443.00" stroke="#9a0fe0" stroke-width="1.1"/>
<line x1="45.60" y1="448.00" x2="49.20" y2="448.00" stroke="#9a0fe0" stroke-width="1.1"/>
<line x1="54.90" y1="445.40" x2="54.90" y2="449.00" stroke="#9a0fe0" stroke-width="1.1"/>
<line x1="53.10" y1="445.40" x2="56.70" y2="445.40" stroke="#9a0fe0" stroke-width="1.1"/>
<line x1="53.10" y1="449.00" x2="56.70" y2="449.00" stroke="#9a0fe0" stroke-width="1.1"/>
<line x1="62.60" y1="425.30" x2="62.60" y2="431.30" stroke="#9a0fe0" stroke-width="1.1"/>
<line x1="60.80" y1="425.30" x2="64.40" y2="425.30" stroke="#9a0fe0" stroke-width="1.1"/>
<line x1="60.80" y1="431.30" x2="64.40" y2="431.30" stroke="#9a0fe0" stroke-width="1.1"/>
<line x1="70.70" y1="427.90" x2="70.70" y2="431.50" stroke="#9a0fe0" stroke-width="1.1"/>
<line x1="68.90" y1="427.90" x2="72.50" y2="427.90" stroke="#9a0fe0" stroke-width="1.1"/>
<line x1="68.90" y1="431.50" x2="72.50" y2="431.50" stroke="#9a0fe0" stroke-width="1.1"/>
<line x1="78.00" y1="427.90" x2="78.00" y2="431.50" stroke="#9a0fe0" stroke-width="1.1"/>
<line x1="76.20" y1="427.90" x2="79.80" y2="427.90" stroke="#9a0fe0" stroke-width="1.1"/>
<line x1="76.20" y1="431.50" x2="79.80" y2="431.50" stroke="#9a0fe0" stroke-width="1.1"/>
<line x1="85.90" y1="448.60" x2="85.90" y2="453.60" stroke="#9a0fe0" stroke-width="1.1"/>
<line x1="84.10" y1="448.60" x2="87.70" y2="448.60" stroke="#9a0fe0" stroke-width="1.1"/>
<line x1="84.10" y1="453.60" x2="87.70" y2="453.60" stroke="#9a0fe0" stroke-width="1.1"/>
<line x1="93.80" y1="452.10" x2="93.80" y2="457.10" stroke="#9a0fe0" stroke-width="1.1"/>
<line x1="92.00" y1="452.10" x2="95.60" y2="452.10" stroke="#9a0fe0" stroke-width="1.1"/>
<line x1="92.00" y1="457.10" x2="95.60" y2="457.10" stroke="#9a0fe0" stroke-width="1.1"/>
<line x1="101.70" y1="453.80" x2="101.70" y2="458.80" stroke="#9a0fe0" stroke-width="1.1"/>
<line x1="99.90" y1="453.80" x2="103.50" y2="453.80" stroke="#9a0fe0" stroke-width="1.1"/>
<line x1="99.90" y1="458.80" x2="103.50" y2="458.80" stroke="#9a0fe0" stroke-width="1.1"/>
<line x1="109.60" y1="401.10" x2="109.60" y2="404.70" stroke="#9a0fe0" stroke-width="1.1"/>
<line x1="107.80" y1="401.10" x2="111.40" y2="401.10" stroke="#9a0fe0" stroke-width="1.1"/>
<line x1="107.80" y1="404.70" x2="111.40" y2="404.70" stroke="#9a0fe0" stroke-width="1.1"/>
<line x1="117.50" y1="401.10" x2="117.50" y2="404.70" stroke="#9a0fe0" stroke-width="1.1"/>
<line x1="115.70" y1="401.10" x2="119.30" y2="401.10" stroke="#9a0fe0" stroke-width="1.1"/>
<line x1="115.70" y1="404.70" x2="119.30" y2="404.70" stroke="#9a0fe0" stroke-width="1.1"/>
<line x1="125.00" y1="401.10" x2="125.00" y2="404.70" stroke="#9a0fe0" stroke-width="1.1"/>
<line x1="123.20" y1="401.10" x2="126.80" y2="401.10" stroke="#9a0fe0" stroke-width="1.1"/>
<line x1="123.20" y1="404.70" x2="126.80" y2="404.70" stroke="#9a0fe0" stroke-width="1.1"/>
<line x1="133.20" y1="473.20" x2="133.20" y2="476.20" stroke="#9a0fe0" stroke-width="1.1"/>
<line x1="131.40" y1="473.20" x2="135.00" y2="473.20" stroke="#9a0fe0" stroke-width="1.1"/>
<line x1="131.40" y1="476.20" x2="135.00" y2="476.20" stroke="#9a0fe0" stroke-width="1.1"/>
<line x1="140.80" y1="474.10" x2="140.80" y2="477.10" stroke="#9a0fe0" stroke-width="1.1"/>
<line x1="139.00" y1="474.10" x2="142.60" y2="474.10" stroke="#9a0fe0" stroke-width="1.1"/>
<line x1="139.00" y1="477.10" x2="142.60" y2="477.10" stroke="#9a0fe0" stroke-width="1.1"/>
<line x1="148.50" y1="474.40" x2="148.50" y2="477.40" stroke="#9a0fe0" stroke-width="1.1"/>
<line x1="146.70" y1="474.40" x2="150.30" y2="474.40" stroke="#9a0fe0" stroke-width="1.1"/>
<line x1="146.70" y1="477.40" x2="150.30" y2="477.40" stroke="#9a0fe0" stroke-width="1.1"/>
<polyline points="39.50,444.40 47.40,445.50 54.90,447.20 62.60,428.30 70.70,429.70 78.00,429.70 85.90,451.10 93.80,454.60 101.70,456.30 109.60,402.90 117.50,402.90 125.00,402.90 133.20,474.70 140.80,475.60 148.50,475.90" fill="none" stroke="#9a0fe0" stroke-width="2" stroke-linejoin="round"/>
<rect x="37.50" y="442.40" width="4.00" height="4.00" fill="#9a0fe0"/>
<rect x="45.40" y="443.50" width="4.00" height="4.00" fill="#9a0fe0"/>
<rect x="52.90" y="445.20" width="4.00" height="4.00" fill="#9a0fe0"/>
<rect x="60.60" y="426.30" width="4.00" height="4.00" fill="#9a0fe0"/>
<rect x="68.70" y="427.70" width="4.00" height="4.00" fill="#9a0fe0"/>
<rect x="76.00" y="427.70" width="4.00" height="4.00" fill="#9a0fe0"/>
<rect x="83.90" y="449.10" width="4.00" height="4.00" fill="#9a0fe0"/>
<rect x="91.80" y="452.60" width="4.00" height="4.00" fill="#9a0fe0"/>
<rect x="99.70" y="454.30" width="4.00" height="4.00" fill="#9a0fe0"/>
<rect x="107.60" y="400.90" width="4.00" height="4.00" fill="#9a0fe0"/>
<rect x="115.50" y="400.90" width="4.00" height="4.00" fill="#9a0fe0"/>
<rect x="123.00" y="400.90" width="4.00" height="4.00" fill="#9a0fe0"/>
<rect x="131.20" y="472.70" width="4.00" height="4.00" fill="#9a0fe0"/>
<rect x="138.80" y="473.60" width="4.00" height="4.00" fill="#9a0fe0"/>
<rect x="146.50" y="473.90" width="4.00" height="4.00" fill="#9a0fe0"/>
<text x="174.20" y="277.40" font-size="15.5" font-weight="bold">F</text>
<rect x="200.70" y="276.80" width="4.00" height="4.00" fill="#7a7a7a"/>
<text x="212.90" y="281.55" font-size="8" stroke="#000" stroke-width="0.22">Vehicle</text>
<circle cx="202.70" cy="293.80" r="2.05" fill="#f23b3b"/>
<text x="212.90" y="296.55" font-size="8" stroke="#000" stroke-width="0.22">iMQT_020</text>
<rect x="200.70" y="306.90" width="4.00" height="4.00" fill="#9a0fe0"/>
<text x="212.90" y="311.65" font-size="8" stroke="#000" stroke-width="0.22">Vehicle</text>
<circle cx="202.70" cy="324.00" r="2.05" fill="#12bf7c"/>
<text x="212.90" y="326.75" font-size="8" stroke="#000" stroke-width="0.22">iMQT_020</text>
<rect x="200.70" y="337.00" width="4.00" height="4.00" fill="#c4925a"/>
<text x="212.90" y="341.75" font-size="8" stroke="#000" stroke-width="0.22">Vehicle</text>
<circle cx="202.70" cy="354.10" r="2.05" fill="#ff5c0a"/>
<text x="212.90" y="356.85" font-size="8" stroke="#000" stroke-width="0.22">iMQT_020</text>
<line x1="265.00" y1="272.80" x2="265.00" y2="295.00" stroke="#000" stroke-width="2.1"/>
<text x="270.90" y="286.65" font-size="8" stroke="#000" stroke-width="0.22">Con</text>
<line x1="265.00" y1="303.40" x2="265.00" y2="325.70" stroke="#000" stroke-width="2.1"/>
<text x="270.90" y="317.30" font-size="8" stroke="#000" stroke-width="0.22">WT</text>
<line x1="265.00" y1="333.60" x2="265.00" y2="355.80" stroke="#000" stroke-width="2.1"/>
<text x="270.90" y="347.45" font-size="8" stroke="#000" stroke-width="0.22">FIL/AAA</text>
<line x1="201.90" y1="380.40" x2="201.90" y2="495.10" stroke="#000" stroke-width="2"/>
<line x1="195.90" y1="381.20" x2="201.90" y2="381.20" stroke="#000" stroke-width="1.8"/>
<text x="193.70" y="383.50" font-size="6.4" text-anchor="end" fill="#a3a3a3">600</text>
<line x1="195.90" y1="418.30" x2="201.90" y2="418.30" stroke="#000" stroke-width="1.8"/>
<text x="193.70" y="420.60" font-size="6.4" text-anchor="end" fill="#a3a3a3">400</text>
<line x1="195.90" y1="456.40" x2="201.90" y2="456.40" stroke="#000" stroke-width="1.8"/>
<text x="193.70" y="458.70" font-size="6.4" text-anchor="end" fill="#a3a3a3">200</text>
<line x1="195.90" y1="494.10" x2="201.90" y2="494.10" stroke="#000" stroke-width="1.8"/>
<text x="193.70" y="496.40" font-size="6.4" text-anchor="end" fill="#a3a3a3">0</text>
<line x1="200.90" y1="494.10" x2="316.90" y2="494.10" stroke="#000" stroke-width="2"/>
<line x1="229.30" y1="494.10" x2="229.30" y2="499.90" stroke="#000" stroke-width="1.8"/>
<line x1="288.80" y1="494.10" x2="288.80" y2="499.90" stroke="#000" stroke-width="1.8"/>
<line x1="205.30" y1="504.40" x2="252.30" y2="504.40" stroke="#000" stroke-width="2"/>
<line x1="265.00" y1="504.40" x2="311.80" y2="504.40" stroke="#000" stroke-width="2"/>
<text x="229.30" y="519.02" font-size="10.8" font-weight="bold" text-anchor="middle">DM-<tspan font-family="Liberation Serif" font-weight="normal">&#945;</tspan>KG(-)</text>
<text x="288.80" y="519.02" font-size="10.8" font-weight="bold" text-anchor="middle">DM-<tspan font-family="Liberation Serif" font-weight="normal">&#945;</tspan>KG(+)</text>
<text x="175.10" y="437.10" font-size="10.8" font-weight="bold" text-anchor="middle" transform="rotate(-90 175.10 437.10)">OCR (pmol/min/10<tspan font-size="7.3" dy="-3.9">4</tspan><tspan dy="3.9">cells)</tspan></text>
<rect x="202.90" y="459.30" width="4.80" height="4.80" fill="#7a7a7a"/>
<rect x="205.40" y="462.40" width="4.80" height="4.80" fill="#7a7a7a"/>
<rect x="203.40" y="468.00" width="4.80" height="4.80" fill="#7a7a7a"/>
<line x1="215.50" y1="462.50" x2="215.50" y2="472.40" stroke="#f23b3b" stroke-width="1.2"/>
<line x1="213.00" y1="462.50" x2="218.00" y2="462.50" stroke="#f23b3b" stroke-width="1.2"/>
<line x1="213.00" y1="472.40" x2="218.00" y2="472.40" stroke="#f23b3b" stroke-width="1.2"/>
<line x1="212.00" y1="468.60" x2="219.00" y2="468.60" stroke="#f23b3b" stroke-width="1.3"/>
<circle cx="215.50" cy="462.20" r="2.40" fill="#f23b3b"/>
<circle cx="214.00" cy="468.60" r="2.40" fill="#f23b3b"/>
<circle cx="217.00" cy="470.40" r="2.40" fill="#f23b3b"/>
<rect x="220.80" y="438.80" width="4.80" height="4.80" fill="#9a0fe0"/>
<rect x="223.30" y="440.60" width="4.80" height="4.80" fill="#9a0fe0"/>
<rect x="221.80" y="443.20" width="4.80" height="4.80" fill="#9a0fe0"/>
<line x1="233.40" y1="460.50" x2="233.40" y2="471.50" stroke="#12bf7c" stroke-width="1.2"/>
<line x1="230.90" y1="460.50" x2="235.90" y2="460.50" stroke="#12bf7c" stroke-width="1.2"/>
<line x1="230.90" y1="471.50" x2="235.90" y2="471.50" stroke="#12bf7c" stroke-width="1.2"/>
<line x1="229.90" y1="466.00" x2="236.90" y2="466.00" stroke="#12bf7c" stroke-width="1.3"/>
<circle cx="233.40" cy="460.20" r="2.40" fill="#12bf7c"/>
<circle cx="233.40" cy="466.00" r="2.40" fill="#12bf7c"/>
<circle cx="233.40" cy="471.90" r="2.40" fill="#12bf7c"/>
<line x1="242.30" y1="460.00" x2="242.30" y2="467.00" stroke="#c4925a" stroke-width="1.2"/>
<line x1="239.80" y1="460.00" x2="244.80" y2="460.00" stroke="#c4925a" stroke-width="1.2"/>
<line x1="239.80" y1="467.00" x2="244.80" y2="467.00" stroke="#c4925a" stroke-width="1.2"/>
<line x1="238.80" y1="463.50" x2="245.80" y2="463.50" stroke="#c4925a" stroke-width="1.3"/>
<rect x="238.90" y="457.80" width="4.80" height="4.80" fill="#c4925a"/>
<rect x="240.90" y="459.80" width="4.80" height="4.80" fill="#c4925a"/>
<rect x="239.90" y="464.90" width="4.80" height="4.80" fill="#c4925a"/>
<circle cx="250.20" cy="467.30" r="2.40" fill="#ff5c0a"/>
<circle cx="252.20" cy="468.60" r="2.40" fill="#ff5c0a"/>
<circle cx="251.20" cy="469.40" r="2.40" fill="#ff5c0a"/>
<rect x="262.40" y="445.00" width="4.80" height="4.80" fill="#7a7a7a"/>
<rect x="264.40" y="446.50" width="4.80" height="4.80" fill="#7a7a7a"/>
<rect x="263.40" y="447.50" width="4.80" height="4.80" fill="#7a7a7a"/>
<circle cx="273.80" cy="451.50" r="2.40" fill="#f23b3b"/>
<circle cx="275.80" cy="452.50" r="2.40" fill="#f23b3b"/>
<circle cx="274.80" cy="453.30" r="2.40" fill="#f23b3b"/>
<rect x="280.30" y="399.00" width="4.80" height="4.80" fill="#9a0fe0"/>
<rect x="283.30" y="399.80" width="4.80" height="4.80" fill="#9a0fe0"/>
<rect x="281.80" y="405.60" width="4.80" height="4.80" fill="#9a0fe0"/>
<line x1="293.40" y1="399.60" x2="293.40" y2="427.00" stroke="#12bf7c" stroke-width="1.2"/>
<line x1="290.90" y1="399.60" x2="295.90" y2="399.60" stroke="#12bf7c" stroke-width="1.2"/>
<line x1="290.90" y1="427.00" x2="295.90" y2="427.00" stroke="#12bf7c" stroke-width="1.2"/>
<line x1="289.90" y1="414.20" x2="296.90" y2="414.20" stroke="#12bf7c" stroke-width="1.3"/>
<circle cx="293.40" cy="399.60" r="2.40" fill="#12bf7c"/>
<circle cx="293.40" cy="419.30" r="2.40" fill="#12bf7c"/>
<circle cx="293.40" cy="422.60" r="2.40" fill="#12bf7c"/>
<circle cx="293.40" cy="425.90" r="2.40" fill="#12bf7c"/>
<rect x="298.70" y="444.50" width="4.80" height="4.80" fill="#c4925a"/>
<rect x="300.70" y="445.20" width="4.80" height="4.80" fill="#c4925a"/>
<rect x="299.70" y="446.00" width="4.80" height="4.80" fill="#c4925a"/>
<circle cx="310.30" cy="449.40" r="2.40" fill="#ff5c0a"/>
<circle cx="312.30" cy="449.90" r="2.40" fill="#ff5c0a"/>
<circle cx="311.30" cy="450.40" r="2.40" fill="#ff5c0a"/>
<circle cx="214.70" cy="421.30" r="1.3" fill="#000"/>
<text x="210.40" y="442.71" font-size="5.6" text-anchor="middle" fill="#9a9a9a" stroke="#9a9a9a" stroke-width="0.22">ns</text>
<line x1="206.30" y1="449.40" x2="214.70" y2="449.40" stroke="#000" stroke-width="1.15"/>
<circle cx="227.50" cy="425.90" r="1.3" fill="#000"/>
<line x1="223.70" y1="433.60" x2="231.80" y2="433.60" stroke="#000" stroke-width="1.15"/>
<text x="244.60" y="442.01" font-size="5.6" text-anchor="middle" fill="#9a9a9a" stroke="#9a9a9a" stroke-width="0.22">ns</text>
<line x1="241.00" y1="448.70" x2="249.70" y2="448.70" stroke="#000" stroke-width="1.15"/>
<text x="270.40" y="434.31" font-size="5.6" text-anchor="middle" fill="#9a9a9a" stroke="#9a9a9a" stroke-width="0.22">ns</text>
<line x1="267.10" y1="441.20" x2="275.30" y2="441.20" stroke="#000" stroke-width="1.15"/>
<circle cx="270.20" cy="400.90" r="1.3" fill="#000"/>
<circle cx="274.20" cy="400.90" r="1.3" fill="#000"/>
<circle cx="278.20" cy="400.90" r="1.3" fill="#000"/>
<text x="288.00" y="387.61" font-size="5.6" text-anchor="middle" fill="#9a9a9a" stroke="#9a9a9a" stroke-width="0.22">ns</text>
<line x1="283.70" y1="394.00" x2="293.70" y2="394.00" stroke="#000" stroke-width="1.15"/>
<text x="307.50" y="433.81" font-size="5.6" text-anchor="middle" fill="#9a9a9a" stroke="#9a9a9a" stroke-width="0.22">ns</text>
<line x1="302.10" y1="440.50" x2="312.60" y2="440.50" stroke="#000" stroke-width="1.15"/>
<text x="343.10" y="277.40" font-size="15.5" font-weight="bold">G</text>
<line x1="383.40" y1="309.90" x2="403.90" y2="309.90" stroke="#7a7a7a" stroke-width="2"/>
<rect x="391.65" y="307.90" width="4.00" height="4.00" fill="#7a7a7a"/>
<text x="413.60" y="312.65" font-size="8" stroke="#000" stroke-width="0.22">Vehicle</text>
<line x1="383.40" y1="325.30" x2="403.90" y2="325.30" stroke="#f23b3b" stroke-width="2"/>
<circle cx="393.65" cy="325.30" r="1.90" fill="#f23b3b"/>
<text x="413.60" y="328.05" font-size="8" stroke="#000" stroke-width="0.22">iMQT_020</text>
<line x1="383.40" y1="340.60" x2="403.90" y2="340.60" stroke="#9a0fe0" stroke-width="2"/>
<rect x="391.65" y="338.60" width="4.00" height="4.00" fill="#9a0fe0"/>
<text x="413.60" y="343.35" font-size="8" stroke="#000" stroke-width="0.22">Vehicle</text>
<line x1="383.40" y1="355.90" x2="403.90" y2="355.90" stroke="#12bf7c" stroke-width="2"/>
<circle cx="393.65" cy="355.90" r="1.90" fill="#12bf7c"/>
<text x="413.60" y="358.65" font-size="8" stroke="#000" stroke-width="0.22">iMQT_020</text>
<line x1="465.20" y1="307.40" x2="465.20" y2="329.60" stroke="#000" stroke-width="2.1"/>
<text x="472.30" y="321.25" font-size="8" stroke="#000" stroke-width="0.22">WT</text>
<line x1="465.20" y1="336.80" x2="465.20" y2="359.20" stroke="#000" stroke-width="2.1"/>
<text x="472.30" y="350.75" font-size="8" stroke="#000" stroke-width="0.22">FIL/AAA</text>
<line x1="378.80" y1="379.90" x2="378.80" y2="500.10" stroke="#000" stroke-width="2"/>
<line x1="372.80" y1="380.70" x2="378.80" y2="380.70" stroke="#000" stroke-width="1.8"/>
<text x="370.60" y="383.00" font-size="6.4" text-anchor="end" fill="#a3a3a3">90</text>
<line x1="372.80" y1="418.30" x2="378.80" y2="418.30" stroke="#000" stroke-width="1.8"/>
<text x="370.60" y="420.60" font-size="6.4" text-anchor="end" fill="#a3a3a3">60</text>
<line x1="372.80" y1="455.80" x2="378.80" y2="455.80" stroke="#000" stroke-width="1.8"/>
<text x="370.60" y="458.10" font-size="6.4" text-anchor="end" fill="#a3a3a3">30</text>
<line x1="372.80" y1="494.10" x2="378.80" y2="494.10" stroke="#000" stroke-width="1.8"/>
<text x="370.60" y="496.40" font-size="6.4" text-anchor="end" fill="#a3a3a3">0</text>
<line x1="377.80" y1="494.10" x2="492.80" y2="494.10" stroke="#000" stroke-width="2"/>
<line x1="378.80" y1="494.10" x2="378.80" y2="500.10" stroke="#000" stroke-width="1.8"/>
<text x="378.80" y="509.20" font-size="6.4" text-anchor="middle" fill="#a3a3a3">0</text>
<line x1="423.80" y1="494.10" x2="423.80" y2="500.10" stroke="#000" stroke-width="1.8"/>
<text x="423.80" y="509.20" font-size="6.4" text-anchor="middle" fill="#a3a3a3">50</text>
<line x1="469.00" y1="494.10" x2="469.00" y2="500.10" stroke="#000" stroke-width="1.8"/>
<text x="469.00" y="509.20" font-size="6.4" text-anchor="middle" fill="#a3a3a3">100</text>
<text x="437.00" y="522.10" font-size="10.75" font-weight="bold" text-anchor="middle">Time (min)</text>
<text x="350.10" y="438.30" font-size="10.8" font-weight="bold" text-anchor="middle" transform="rotate(-90 350.10 438.30)">ECAR (mpH/min/10<tspan font-size="7.3" dy="-3.9">4</tspan><tspan dy="3.9">cells)</tspan></text>
<text x="398.30" y="410.75" font-size="8" text-anchor="middle" stroke="#000" stroke-width="0.22">Gln</text>
<line x1="398.30" y1="421.90" x2="398.30" y2="428.50" stroke="#555" stroke-width="1.0"/>
<path d="M394.10,428.00 L402.50,428.00 L398.30,435.40 Z" fill="#000"/>
<text x="421.20" y="397.25" font-size="8" text-anchor="middle" stroke="#000" stroke-width="0.22">Rot/AA</text>
<line x1="421.20" y1="407.90" x2="421.20" y2="414.40" stroke="#555" stroke-width="1.0"/>
<path d="M417.00,413.90 L425.40,413.90 L421.20,421.30 Z" fill="#000"/>
<text x="445.30" y="410.75" font-size="8" text-anchor="middle" stroke="#000" stroke-width="0.22">2-DG</text>
<line x1="445.30" y1="422.40" x2="445.30" y2="429.20" stroke="#555" stroke-width="1.0"/>
<path d="M441.10,428.70 L449.50,428.70 L445.30,436.10 Z" fill="#000"/>
<line x1="378.90" y1="464.40" x2="378.90" y2="474.40" stroke="#12bf7c" stroke-width="1.1"/>
<line x1="377.10" y1="464.40" x2="380.70" y2="464.40" stroke="#12bf7c" stroke-width="1.1"/>
<line x1="377.10" y1="474.40" x2="380.70" y2="474.40" stroke="#12bf7c" stroke-width="1.1"/>
<line x1="387.30" y1="464.90" x2="387.30" y2="474.90" stroke="#12bf7c" stroke-width="1.1"/>
<line x1="385.50" y1="464.90" x2="389.10" y2="464.90" stroke="#12bf7c" stroke-width="1.1"/>
<line x1="385.50" y1="474.90" x2="389.10" y2="474.90" stroke="#12bf7c" stroke-width="1.1"/>
<line x1="395.10" y1="464.90" x2="395.10" y2="474.90" stroke="#12bf7c" stroke-width="1.1"/>
<line x1="393.30" y1="464.90" x2="396.90" y2="464.90" stroke="#12bf7c" stroke-width="1.1"/>
<line x1="393.30" y1="474.90" x2="396.90" y2="474.90" stroke="#12bf7c" stroke-width="1.1"/>
<line x1="403.00" y1="464.90" x2="403.00" y2="474.90" stroke="#12bf7c" stroke-width="1.1"/>
<line x1="401.20" y1="464.90" x2="404.80" y2="464.90" stroke="#12bf7c" stroke-width="1.1"/>
<line x1="401.20" y1="474.90" x2="404.80" y2="474.90" stroke="#12bf7c" stroke-width="1.1"/>
<line x1="410.90" y1="464.90" x2="410.90" y2="474.90" stroke="#12bf7c" stroke-width="1.1"/>
<line x1="409.10" y1="464.90" x2="412.70" y2="464.90" stroke="#12bf7c" stroke-width="1.1"/>
<line x1="409.10" y1="474.90" x2="412.70" y2="474.90" stroke="#12bf7c" stroke-width="1.1"/>
<line x1="418.40" y1="464.90" x2="418.40" y2="474.90" stroke="#12bf7c" stroke-width="1.1"/>
<line x1="416.60" y1="464.90" x2="420.20" y2="464.90" stroke="#12bf7c" stroke-width="1.1"/>
<line x1="416.60" y1="474.90" x2="420.20" y2="474.90" stroke="#12bf7c" stroke-width="1.1"/>
<line x1="426.20" y1="449.00" x2="426.20" y2="459.00" stroke="#12bf7c" stroke-width="1.1"/>
<line x1="424.40" y1="449.00" x2="428.00" y2="449.00" stroke="#12bf7c" stroke-width="1.1"/>
<line x1="424.40" y1="459.00" x2="428.00" y2="459.00" stroke="#12bf7c" stroke-width="1.1"/>
<line x1="434.20" y1="449.50" x2="434.20" y2="459.50" stroke="#12bf7c" stroke-width="1.1"/>
<line x1="432.40" y1="449.50" x2="436.00" y2="449.50" stroke="#12bf7c" stroke-width="1.1"/>
<line x1="432.40" y1="459.50" x2="436.00" y2="459.50" stroke="#12bf7c" stroke-width="1.1"/>
<line x1="441.90" y1="450.00" x2="441.90" y2="460.00" stroke="#12bf7c" stroke-width="1.1"/>
<line x1="440.10" y1="450.00" x2="443.70" y2="450.00" stroke="#12bf7c" stroke-width="1.1"/>
<line x1="440.10" y1="460.00" x2="443.70" y2="460.00" stroke="#12bf7c" stroke-width="1.1"/>
<line x1="450.00" y1="480.20" x2="450.00" y2="490.20" stroke="#12bf7c" stroke-width="1.1"/>
<line x1="448.20" y1="480.20" x2="451.80" y2="480.20" stroke="#12bf7c" stroke-width="1.1"/>
<line x1="448.20" y1="490.20" x2="451.80" y2="490.20" stroke="#12bf7c" stroke-width="1.1"/>
<line x1="457.70" y1="480.70" x2="457.70" y2="490.70" stroke="#12bf7c" stroke-width="1.1"/>
<line x1="455.90" y1="480.70" x2="459.50" y2="480.70" stroke="#12bf7c" stroke-width="1.1"/>
<line x1="455.90" y1="490.70" x2="459.50" y2="490.70" stroke="#12bf7c" stroke-width="1.1"/>
<line x1="465.20" y1="480.70" x2="465.20" y2="490.70" stroke="#12bf7c" stroke-width="1.1"/>
<line x1="463.40" y1="480.70" x2="467.00" y2="480.70" stroke="#12bf7c" stroke-width="1.1"/>
<line x1="463.40" y1="490.70" x2="467.00" y2="490.70" stroke="#12bf7c" stroke-width="1.1"/>
<polyline points="378.90,469.40 387.30,469.90 395.10,469.90 403.00,469.90 410.90,469.90 418.40,469.90 426.20,454.00 434.20,454.50 441.90,455.00 450.00,485.20 457.70,485.70 465.20,485.70" fill="none" stroke="#12bf7c" stroke-width="2" stroke-linejoin="round"/>
<circle cx="378.90" cy="469.40" r="1.85" fill="#12bf7c"/>
<circle cx="387.30" cy="469.90" r="1.85" fill="#12bf7c"/>
<circle cx="395.10" cy="469.90" r="1.85" fill="#12bf7c"/>
<circle cx="403.00" cy="469.90" r="1.85" fill="#12bf7c"/>
<circle cx="410.90" cy="469.90" r="1.85" fill="#12bf7c"/>
<circle cx="418.40" cy="469.90" r="1.85" fill="#12bf7c"/>
<circle cx="426.20" cy="454.00" r="1.85" fill="#12bf7c"/>
<circle cx="434.20" cy="454.50" r="1.85" fill="#12bf7c"/>
<circle cx="441.90" cy="455.00" r="1.85" fill="#12bf7c"/>
<circle cx="450.00" cy="485.20" r="1.85" fill="#12bf7c"/>
<circle cx="457.70" cy="485.70" r="1.85" fill="#12bf7c"/>
<circle cx="465.20" cy="485.70" r="1.85" fill="#12bf7c"/>
<line x1="378.90" y1="464.40" x2="378.90" y2="476.40" stroke="#9a0fe0" stroke-width="1.1"/>
<line x1="377.10" y1="464.40" x2="380.70" y2="464.40" stroke="#9a0fe0" stroke-width="1.1"/>
<line x1="377.10" y1="476.40" x2="380.70" y2="476.40" stroke="#9a0fe0" stroke-width="1.1"/>
<line x1="387.30" y1="465.10" x2="387.30" y2="477.10" stroke="#9a0fe0" stroke-width="1.1"/>
<line x1="385.50" y1="465.10" x2="389.10" y2="465.10" stroke="#9a0fe0" stroke-width="1.1"/>
<line x1="385.50" y1="477.10" x2="389.10" y2="477.10" stroke="#9a0fe0" stroke-width="1.1"/>
<line x1="395.10" y1="464.40" x2="395.10" y2="476.40" stroke="#9a0fe0" stroke-width="1.1"/>
<line x1="393.30" y1="464.40" x2="396.90" y2="464.40" stroke="#9a0fe0" stroke-width="1.1"/>
<line x1="393.30" y1="476.40" x2="396.90" y2="476.40" stroke="#9a0fe0" stroke-width="1.1"/>
<line x1="403.00" y1="464.40" x2="403.00" y2="476.40" stroke="#9a0fe0" stroke-width="1.1"/>
<line x1="401.20" y1="464.40" x2="404.80" y2="464.40" stroke="#9a0fe0" stroke-width="1.1"/>
<line x1="401.20" y1="476.40" x2="404.80" y2="476.40" stroke="#9a0fe0" stroke-width="1.1"/>
<line x1="410.90" y1="465.10" x2="410.90" y2="477.10" stroke="#9a0fe0" stroke-width="1.1"/>
<line x1="409.10" y1="465.10" x2="412.70" y2="465.10" stroke="#9a0fe0" stroke-width="1.1"/>
<line x1="409.10" y1="477.10" x2="412.70" y2="477.10" stroke="#9a0fe0" stroke-width="1.1"/>
<line x1="418.40" y1="464.40" x2="418.40" y2="476.40" stroke="#9a0fe0" stroke-width="1.1"/>
<line x1="416.60" y1="464.40" x2="420.20" y2="464.40" stroke="#9a0fe0" stroke-width="1.1"/>
<line x1="416.60" y1="476.40" x2="420.20" y2="476.40" stroke="#9a0fe0" stroke-width="1.1"/>
<line x1="426.20" y1="450.60" x2="426.20" y2="462.60" stroke="#9a0fe0" stroke-width="1.1"/>
<line x1="424.40" y1="450.60" x2="428.00" y2="450.60" stroke="#9a0fe0" stroke-width="1.1"/>
<line x1="424.40" y1="462.60" x2="428.00" y2="462.60" stroke="#9a0fe0" stroke-width="1.1"/>
<line x1="434.20" y1="451.10" x2="434.20" y2="463.10" stroke="#9a0fe0" stroke-width="1.1"/>
<line x1="432.40" y1="451.10" x2="436.00" y2="451.10" stroke="#9a0fe0" stroke-width="1.1"/>
<line x1="432.40" y1="463.10" x2="436.00" y2="463.10" stroke="#9a0fe0" stroke-width="1.1"/>
<line x1="441.90" y1="451.10" x2="441.90" y2="463.10" stroke="#9a0fe0" stroke-width="1.1"/>
<line x1="440.10" y1="451.10" x2="443.70" y2="451.10" stroke="#9a0fe0" stroke-width="1.1"/>
<line x1="440.10" y1="463.10" x2="443.70" y2="463.10" stroke="#9a0fe0" stroke-width="1.1"/>
<line x1="450.00" y1="479.70" x2="450.00" y2="491.70" stroke="#9a0fe0" stroke-width="1.1"/>
<line x1="448.20" y1="479.70" x2="451.80" y2="479.70" stroke="#9a0fe0" stroke-width="1.1"/>
<line x1="448.20" y1="491.70" x2="451.80" y2="491.70" stroke="#9a0fe0" stroke-width="1.1"/>
<line x1="457.70" y1="480.50" x2="457.70" y2="492.50" stroke="#9a0fe0" stroke-width="1.1"/>
<line x1="455.90" y1="480.50" x2="459.50" y2="480.50" stroke="#9a0fe0" stroke-width="1.1"/>
<line x1="455.90" y1="492.50" x2="459.50" y2="492.50" stroke="#9a0fe0" stroke-width="1.1"/>
<line x1="465.20" y1="480.50" x2="465.20" y2="492.50" stroke="#9a0fe0" stroke-width="1.1"/>
<line x1="463.40" y1="480.50" x2="467.00" y2="480.50" stroke="#9a0fe0" stroke-width="1.1"/>
<line x1="463.40" y1="492.50" x2="467.00" y2="492.50" stroke="#9a0fe0" stroke-width="1.1"/>
<polyline points="378.90,470.40 387.30,471.10 395.10,470.40 403.00,470.40 410.90,471.10 418.40,470.40 426.20,456.60 434.20,457.10 441.90,457.10 450.00,485.70 457.70,486.50 465.20,486.50" fill="none" stroke="#9a0fe0" stroke-width="2" stroke-linejoin="round"/>
<rect x="376.90" y="468.40" width="4.00" height="4.00" fill="#9a0fe0"/>
<rect x="385.30" y="469.10" width="4.00" height="4.00" fill="#9a0fe0"/>
<rect x="393.10" y="468.40" width="4.00" height="4.00" fill="#9a0fe0"/>
<rect x="401.00" y="468.40" width="4.00" height="4.00" fill="#9a0fe0"/>
<rect x="408.90" y="469.10" width="4.00" height="4.00" fill="#9a0fe0"/>
<rect x="416.40" y="468.40" width="4.00" height="4.00" fill="#9a0fe0"/>
<rect x="424.20" y="454.60" width="4.00" height="4.00" fill="#9a0fe0"/>
<rect x="432.20" y="455.10" width="4.00" height="4.00" fill="#9a0fe0"/>
<rect x="439.90" y="455.10" width="4.00" height="4.00" fill="#9a0fe0"/>
<rect x="448.00" y="483.70" width="4.00" height="4.00" fill="#9a0fe0"/>
<rect x="455.70" y="484.50" width="4.00" height="4.00" fill="#9a0fe0"/>
<rect x="463.20" y="484.50" width="4.00" height="4.00" fill="#9a0fe0"/>
<line x1="378.90" y1="454.60" x2="378.90" y2="464.60" stroke="#f23b3b" stroke-width="1.1"/>
<line x1="377.10" y1="454.60" x2="380.70" y2="454.60" stroke="#f23b3b" stroke-width="1.1"/>
<line x1="377.10" y1="464.60" x2="380.70" y2="464.60" stroke="#f23b3b" stroke-width="1.1"/>
<line x1="387.30" y1="455.40" x2="387.30" y2="465.40" stroke="#f23b3b" stroke-width="1.1"/>
<line x1="385.50" y1="455.40" x2="389.10" y2="455.40" stroke="#f23b3b" stroke-width="1.1"/>
<line x1="385.50" y1="465.40" x2="389.10" y2="465.40" stroke="#f23b3b" stroke-width="1.1"/>
<line x1="395.10" y1="455.20" x2="395.10" y2="465.20" stroke="#f23b3b" stroke-width="1.1"/>
<line x1="393.30" y1="455.20" x2="396.90" y2="455.20" stroke="#f23b3b" stroke-width="1.1"/>
<line x1="393.30" y1="465.20" x2="396.90" y2="465.20" stroke="#f23b3b" stroke-width="1.1"/>
<line x1="403.00" y1="454.60" x2="403.00" y2="464.60" stroke="#f23b3b" stroke-width="1.1"/>
<line x1="401.20" y1="454.60" x2="404.80" y2="454.60" stroke="#f23b3b" stroke-width="1.1"/>
<line x1="401.20" y1="464.60" x2="404.80" y2="464.60" stroke="#f23b3b" stroke-width="1.1"/>
<line x1="410.90" y1="454.60" x2="410.90" y2="464.60" stroke="#f23b3b" stroke-width="1.1"/>
<line x1="409.10" y1="454.60" x2="412.70" y2="454.60" stroke="#f23b3b" stroke-width="1.1"/>
<line x1="409.10" y1="464.60" x2="412.70" y2="464.60" stroke="#f23b3b" stroke-width="1.1"/>
<line x1="418.40" y1="455.90" x2="418.40" y2="465.90" stroke="#f23b3b" stroke-width="1.1"/>
<line x1="416.60" y1="455.90" x2="420.20" y2="455.90" stroke="#f23b3b" stroke-width="1.1"/>
<line x1="416.60" y1="465.90" x2="420.20" y2="465.90" stroke="#f23b3b" stroke-width="1.1"/>
<line x1="426.20" y1="445.70" x2="426.20" y2="455.70" stroke="#f23b3b" stroke-width="1.1"/>
<line x1="424.40" y1="445.70" x2="428.00" y2="445.70" stroke="#f23b3b" stroke-width="1.1"/>
<line x1="424.40" y1="455.70" x2="428.00" y2="455.70" stroke="#f23b3b" stroke-width="1.1"/>
<line x1="434.20" y1="446.50" x2="434.20" y2="456.50" stroke="#f23b3b" stroke-width="1.1"/>
<line x1="432.40" y1="446.50" x2="436.00" y2="446.50" stroke="#f23b3b" stroke-width="1.1"/>
<line x1="432.40" y1="456.50" x2="436.00" y2="456.50" stroke="#f23b3b" stroke-width="1.1"/>
<line x1="441.90" y1="447.00" x2="441.90" y2="457.00" stroke="#f23b3b" stroke-width="1.1"/>
<line x1="440.10" y1="447.00" x2="443.70" y2="447.00" stroke="#f23b3b" stroke-width="1.1"/>
<line x1="440.10" y1="457.00" x2="443.70" y2="457.00" stroke="#f23b3b" stroke-width="1.1"/>
<line x1="450.00" y1="472.50" x2="450.00" y2="482.50" stroke="#f23b3b" stroke-width="1.1"/>
<line x1="448.20" y1="472.50" x2="451.80" y2="472.50" stroke="#f23b3b" stroke-width="1.1"/>
<line x1="448.20" y1="482.50" x2="451.80" y2="482.50" stroke="#f23b3b" stroke-width="1.1"/>
<line x1="457.70" y1="474.60" x2="457.70" y2="484.60" stroke="#f23b3b" stroke-width="1.1"/>
<line x1="455.90" y1="474.60" x2="459.50" y2="474.60" stroke="#f23b3b" stroke-width="1.1"/>
<line x1="455.90" y1="484.60" x2="459.50" y2="484.60" stroke="#f23b3b" stroke-width="1.1"/>
<line x1="465.20" y1="475.60" x2="465.20" y2="485.60" stroke="#f23b3b" stroke-width="1.1"/>
<line x1="463.40" y1="475.60" x2="467.00" y2="475.60" stroke="#f23b3b" stroke-width="1.1"/>
<line x1="463.40" y1="485.60" x2="467.00" y2="485.60" stroke="#f23b3b" stroke-width="1.1"/>
<polyline points="378.90,459.60 387.30,460.40 395.10,460.20 403.00,459.60 410.90,459.60 418.40,460.90 426.20,450.70 434.20,451.50 441.90,452.00 450.00,477.50 457.70,479.60 465.20,480.60" fill="none" stroke="#f23b3b" stroke-width="2" stroke-linejoin="round"/>
<circle cx="378.90" cy="459.60" r="1.85" fill="#f23b3b"/>
<circle cx="387.30" cy="460.40" r="1.85" fill="#f23b3b"/>
<circle cx="395.10" cy="460.20" r="1.85" fill="#f23b3b"/>
<circle cx="403.00" cy="459.60" r="1.85" fill="#f23b3b"/>
<circle cx="410.90" cy="459.60" r="1.85" fill="#f23b3b"/>
<circle cx="418.40" cy="460.90" r="1.85" fill="#f23b3b"/>
<circle cx="426.20" cy="450.70" r="1.85" fill="#f23b3b"/>
<circle cx="434.20" cy="451.50" r="1.85" fill="#f23b3b"/>
<circle cx="441.90" cy="452.00" r="1.85" fill="#f23b3b"/>
<circle cx="450.00" cy="477.50" r="1.85" fill="#f23b3b"/>
<circle cx="457.70" cy="479.60" r="1.85" fill="#f23b3b"/>
<circle cx="465.20" cy="480.60" r="1.85" fill="#f23b3b"/>
<line x1="378.90" y1="448.70" x2="378.90" y2="456.30" stroke="#7a7a7a" stroke-width="1.1"/>
<line x1="377.10" y1="448.70" x2="380.70" y2="448.70" stroke="#7a7a7a" stroke-width="1.1"/>
<line x1="377.10" y1="456.30" x2="380.70" y2="456.30" stroke="#7a7a7a" stroke-width="1.1"/>
<line x1="387.30" y1="446.90" x2="387.30" y2="454.50" stroke="#7a7a7a" stroke-width="1.1"/>
<line x1="385.50" y1="446.90" x2="389.10" y2="446.90" stroke="#7a7a7a" stroke-width="1.1"/>
<line x1="385.50" y1="454.50" x2="389.10" y2="454.50" stroke="#7a7a7a" stroke-width="1.1"/>
<line x1="395.10" y1="446.90" x2="395.10" y2="454.50" stroke="#7a7a7a" stroke-width="1.1"/>
<line x1="393.30" y1="446.90" x2="396.90" y2="446.90" stroke="#7a7a7a" stroke-width="1.1"/>
<line x1="393.30" y1="454.50" x2="396.90" y2="454.50" stroke="#7a7a7a" stroke-width="1.1"/>
<line x1="403.00" y1="440.50" x2="403.00" y2="448.10" stroke="#7a7a7a" stroke-width="1.1"/>
<line x1="401.20" y1="440.50" x2="404.80" y2="440.50" stroke="#7a7a7a" stroke-width="1.1"/>
<line x1="401.20" y1="448.10" x2="404.80" y2="448.10" stroke="#7a7a7a" stroke-width="1.1"/>
<line x1="410.90" y1="440.50" x2="410.90" y2="448.10" stroke="#7a7a7a" stroke-width="1.1"/>
<line x1="409.10" y1="440.50" x2="412.70" y2="440.50" stroke="#7a7a7a" stroke-width="1.1"/>
<line x1="409.10" y1="448.10" x2="412.70" y2="448.10" stroke="#7a7a7a" stroke-width="1.1"/>
<line x1="418.40" y1="441.00" x2="418.40" y2="448.60" stroke="#7a7a7a" stroke-width="1.1"/>
<line x1="416.60" y1="441.00" x2="420.20" y2="441.00" stroke="#7a7a7a" stroke-width="1.1"/>
<line x1="416.60" y1="448.60" x2="420.20" y2="448.60" stroke="#7a7a7a" stroke-width="1.1"/>
<line x1="426.20" y1="421.40" x2="426.20" y2="429.00" stroke="#7a7a7a" stroke-width="1.1"/>
<line x1="424.40" y1="421.40" x2="428.00" y2="421.40" stroke="#7a7a7a" stroke-width="1.1"/>
<line x1="424.40" y1="429.00" x2="428.00" y2="429.00" stroke="#7a7a7a" stroke-width="1.1"/>
<line x1="434.20" y1="422.10" x2="434.20" y2="429.70" stroke="#7a7a7a" stroke-width="1.1"/>
<line x1="432.40" y1="422.10" x2="436.00" y2="422.10" stroke="#7a7a7a" stroke-width="1.1"/>
<line x1="432.40" y1="429.70" x2="436.00" y2="429.70" stroke="#7a7a7a" stroke-width="1.1"/>
<line x1="441.90" y1="422.10" x2="441.90" y2="429.70" stroke="#7a7a7a" stroke-width="1.1"/>
<line x1="440.10" y1="422.10" x2="443.70" y2="422.10" stroke="#7a7a7a" stroke-width="1.1"/>
<line x1="440.10" y1="429.70" x2="443.70" y2="429.70" stroke="#7a7a7a" stroke-width="1.1"/>
<line x1="450.00" y1="472.40" x2="450.00" y2="480.00" stroke="#7a7a7a" stroke-width="1.1"/>
<line x1="448.20" y1="472.40" x2="451.80" y2="472.40" stroke="#7a7a7a" stroke-width="1.1"/>
<line x1="448.20" y1="480.00" x2="451.80" y2="480.00" stroke="#7a7a7a" stroke-width="1.1"/>
<line x1="457.70" y1="471.20" x2="457.70" y2="478.80" stroke="#7a7a7a" stroke-width="1.1"/>
<line x1="455.90" y1="471.20" x2="459.50" y2="471.20" stroke="#7a7a7a" stroke-width="1.1"/>
<line x1="455.90" y1="478.80" x2="459.50" y2="478.80" stroke="#7a7a7a" stroke-width="1.1"/>
<line x1="465.20" y1="471.70" x2="465.20" y2="479.30" stroke="#7a7a7a" stroke-width="1.1"/>
<line x1="463.40" y1="471.70" x2="467.00" y2="471.70" stroke="#7a7a7a" stroke-width="1.1"/>
<line x1="463.40" y1="479.30" x2="467.00" y2="479.30" stroke="#7a7a7a" stroke-width="1.1"/>
<polyline points="378.90,452.50 387.30,450.70 395.10,450.70 403.00,444.30 410.90,444.30 418.40,444.80 426.20,425.20 434.20,425.90 441.90,425.90 450.00,476.20 457.70,475.00 465.20,475.50" fill="none" stroke="#7a7a7a" stroke-width="2" stroke-linejoin="round"/>
<rect x="376.90" y="450.50" width="4.00" height="4.00" fill="#7a7a7a"/>
<rect x="385.30" y="448.70" width="4.00" height="4.00" fill="#7a7a7a"/>
<rect x="393.10" y="448.70" width="4.00" height="4.00" fill="#7a7a7a"/>
<rect x="401.00" y="442.30" width="4.00" height="4.00" fill="#7a7a7a"/>
<rect x="408.90" y="442.30" width="4.00" height="4.00" fill="#7a7a7a"/>
<rect x="416.40" y="442.80" width="4.00" height="4.00" fill="#7a7a7a"/>
<rect x="424.20" y="423.20" width="4.00" height="4.00" fill="#7a7a7a"/>
<rect x="432.20" y="423.90" width="4.00" height="4.00" fill="#7a7a7a"/>
<rect x="439.90" y="423.90" width="4.00" height="4.00" fill="#7a7a7a"/>
<rect x="448.00" y="474.20" width="4.00" height="4.00" fill="#7a7a7a"/>
<rect x="455.70" y="473.00" width="4.00" height="4.00" fill="#7a7a7a"/>
<rect x="463.20" y="473.50" width="4.00" height="4.00" fill="#7a7a7a"/>
<text x="512.40" y="277.40" font-size="15.5" font-weight="bold">H</text>
<rect x="545.30" y="308.70" width="4.00" height="4.00" fill="#7a7a7a"/>
<text x="557.30" y="313.45" font-size="8" stroke="#000" stroke-width="0.22">Vehicle</text>
<circle cx="547.30" cy="326.00" r="2.05" fill="#f23b3b"/>
<text x="557.30" y="328.75" font-size="8" stroke="#000" stroke-width="0.22">iMQT_020</text>
<rect x="545.30" y="339.40" width="4.00" height="4.00" fill="#9a0fe0"/>
<text x="557.30" y="344.15" font-size="8" stroke="#000" stroke-width="0.22">Vehicle</text>
<circle cx="547.30" cy="356.40" r="2.05" fill="#12bf7c"/>
<text x="557.30" y="359.15" font-size="8" stroke="#000" stroke-width="0.22">iMQT_020</text>
<line x1="609.60" y1="308.10" x2="609.60" y2="330.60" stroke="#000" stroke-width="2.1"/>
<text x="617.30" y="322.10" font-size="8" stroke="#000" stroke-width="0.22">WT</text>
<line x1="609.60" y1="338.00" x2="609.60" y2="360.30" stroke="#000" stroke-width="2.1"/>
<text x="617.30" y="351.90" font-size="8" stroke="#000" stroke-width="0.22">FIL/AAA</text>
<line x1="541.90" y1="379.90" x2="541.90" y2="495.10" stroke="#000" stroke-width="2"/>
<line x1="535.90" y1="380.70" x2="541.90" y2="380.70" stroke="#000" stroke-width="1.8"/>
<text x="533.70" y="383.00" font-size="6.4" text-anchor="end" fill="#a3a3a3">90</text>
<line x1="535.90" y1="418.30" x2="541.90" y2="418.30" stroke="#000" stroke-width="1.8"/>
<text x="533.70" y="420.60" font-size="6.4" text-anchor="end" fill="#a3a3a3">60</text>
<line x1="535.90" y1="455.80" x2="541.90" y2="455.80" stroke="#000" stroke-width="1.8"/>
<text x="533.70" y="458.10" font-size="6.4" text-anchor="end" fill="#a3a3a3">30</text>
<line x1="535.90" y1="494.10" x2="541.90" y2="494.10" stroke="#000" stroke-width="1.8"/>
<text x="533.70" y="496.40" font-size="6.4" text-anchor="end" fill="#a3a3a3">0</text>
<line x1="540.90" y1="494.10" x2="656.90" y2="494.10" stroke="#000" stroke-width="2"/>
<line x1="570.80" y1="494.10" x2="570.80" y2="499.90" stroke="#000" stroke-width="1.8"/>
<line x1="627.50" y1="494.10" x2="627.50" y2="499.90" stroke="#000" stroke-width="1.8"/>
<line x1="545.80" y1="502.60" x2="593.00" y2="502.60" stroke="#000" stroke-width="2"/>
<line x1="603.30" y1="502.60" x2="650.50" y2="502.60" stroke="#000" stroke-width="2"/>
<text x="570.80" y="518.21" font-size="10.5" font-weight="bold" text-anchor="middle">Basal</text>
<text x="627.50" y="518.21" font-size="10.5" font-weight="bold" text-anchor="middle">Rot/AA</text>
<text x="515.30" y="438.00" font-size="10.8" font-weight="bold" text-anchor="middle" transform="rotate(-90 515.30 438.00)">ECAR (mpH/min/10<tspan font-size="7.3" dy="-3.9">4</tspan><tspan dy="3.9">cells)</tspan></text>
<rect x="547.50" y="439.40" width="4.80" height="4.80" fill="#7a7a7a"/>
<rect x="550.50" y="441.40" width="4.80" height="4.80" fill="#7a7a7a"/>
<rect x="549.00" y="447.50" width="4.80" height="4.80" fill="#7a7a7a"/>
<line x1="563.70" y1="455.00" x2="563.70" y2="463.00" stroke="#f23b3b" stroke-width="1.2"/>
<line x1="561.20" y1="455.00" x2="566.20" y2="455.00" stroke="#f23b3b" stroke-width="1.2"/>
<line x1="561.20" y1="463.00" x2="566.20" y2="463.00" stroke="#f23b3b" stroke-width="1.2"/>
<line x1="560.20" y1="459.10" x2="567.20" y2="459.10" stroke="#f23b3b" stroke-width="1.3"/>
<circle cx="564.70" cy="455.80" r="2.40" fill="#f23b3b"/>
<circle cx="562.70" cy="459.10" r="2.40" fill="#f23b3b"/>
<circle cx="563.70" cy="466.00" r="2.40" fill="#f23b3b"/>
<rect x="574.00" y="461.80" width="4.80" height="4.80" fill="#9a0fe0"/>
<rect x="572.50" y="469.50" width="4.80" height="4.80" fill="#9a0fe0"/>
<rect x="575.50" y="471.30" width="4.80" height="4.80" fill="#9a0fe0"/>
<rect x="574.00" y="472.60" width="4.80" height="4.80" fill="#9a0fe0"/>
<circle cx="587.20" cy="469.40" r="2.40" fill="#12bf7c"/>
<circle cx="590.20" cy="469.90" r="2.40" fill="#12bf7c"/>
<circle cx="588.70" cy="471.10" r="2.40" fill="#12bf7c"/>
<rect x="606.00" y="418.40" width="4.80" height="4.80" fill="#7a7a7a"/>
<rect x="604.50" y="424.50" width="4.80" height="4.80" fill="#7a7a7a"/>
<rect x="607.50" y="426.10" width="4.80" height="4.80" fill="#7a7a7a"/>
<line x1="620.40" y1="446.50" x2="620.40" y2="455.00" stroke="#f23b3b" stroke-width="1.2"/>
<line x1="617.90" y1="446.50" x2="622.90" y2="446.50" stroke="#f23b3b" stroke-width="1.2"/>
<line x1="617.90" y1="455.00" x2="622.90" y2="455.00" stroke="#f23b3b" stroke-width="1.2"/>
<line x1="616.90" y1="450.70" x2="623.90" y2="450.70" stroke="#f23b3b" stroke-width="1.3"/>
<circle cx="620.40" cy="446.40" r="2.40" fill="#f23b3b"/>
<circle cx="620.40" cy="450.70" r="2.40" fill="#f23b3b"/>
<circle cx="620.40" cy="459.10" r="2.40" fill="#f23b3b"/>
<line x1="633.10" y1="444.30" x2="633.10" y2="468.60" stroke="#9a0fe0" stroke-width="1.2"/>
<line x1="630.60" y1="444.30" x2="635.60" y2="444.30" stroke="#9a0fe0" stroke-width="1.2"/>
<line x1="630.60" y1="468.60" x2="635.60" y2="468.60" stroke="#9a0fe0" stroke-width="1.2"/>
<line x1="629.60" y1="457.10" x2="636.60" y2="457.10" stroke="#9a0fe0" stroke-width="1.3"/>
<rect x="630.70" y="441.90" width="4.80" height="4.80" fill="#9a0fe0"/>
<rect x="630.70" y="454.70" width="4.80" height="4.80" fill="#9a0fe0"/>
<rect x="630.70" y="466.20" width="4.80" height="4.80" fill="#9a0fe0"/>
<line x1="645.40" y1="445.60" x2="645.40" y2="467.30" stroke="#12bf7c" stroke-width="1.2"/>
<line x1="642.90" y1="445.60" x2="647.90" y2="445.60" stroke="#12bf7c" stroke-width="1.2"/>
<line x1="642.90" y1="467.30" x2="647.90" y2="467.30" stroke="#12bf7c" stroke-width="1.2"/>
<line x1="641.90" y1="455.00" x2="648.90" y2="455.00" stroke="#12bf7c" stroke-width="1.3"/>
<circle cx="645.40" cy="445.60" r="2.40" fill="#12bf7c"/>
<circle cx="645.40" cy="455.00" r="2.40" fill="#12bf7c"/>
<circle cx="645.40" cy="467.30" r="2.40" fill="#12bf7c"/>
<circle cx="556.00" cy="427.00" r="1.3" fill="#000"/>
<circle cx="560.00" cy="427.00" r="1.3" fill="#000"/>
<line x1="551.40" y1="434.60" x2="564.90" y2="434.60" stroke="#000" stroke-width="1.15"/>
<circle cx="559.00" cy="453.50" r="0.9" fill="#000"/>
<text x="583.60" y="445.82" font-size="7.5" text-anchor="middle" fill="#8a8a8a" stroke="#8a8a8a" stroke-width="0.22">ns</text>
<line x1="577.00" y1="453.30" x2="590.50" y2="453.30" stroke="#000" stroke-width="1.15"/>
<circle cx="614.00" cy="404.70" r="1.3" fill="#000"/>
<circle cx="618.00" cy="404.70" r="1.3" fill="#000"/>
<line x1="609.10" y1="412.40" x2="622.40" y2="412.40" stroke="#000" stroke-width="1.15"/>
<circle cx="614.60" cy="434.10" r="1.3" fill="#000"/>
<circle cx="618.60" cy="434.10" r="1.3" fill="#000"/>
<circle cx="622.60" cy="434.10" r="1.3" fill="#000"/>
<text x="639.80" y="425.42" font-size="7.5" text-anchor="middle" fill="#8a8a8a" stroke="#8a8a8a" stroke-width="0.22">ns</text>
<line x1="633.90" y1="433.60" x2="646.70" y2="433.60" stroke="#000" stroke-width="1.15"/>
<text x="5.30" y="548.50" font-size="15.5" font-weight="bold">I</text>
<line x1="28.90" y1="537.80" x2="49.30" y2="537.80" stroke="#7a7a7a" stroke-width="2"/>
<rect x="37.10" y="535.80" width="4.00" height="4.00" fill="#7a7a7a"/>
<text x="58.80" y="540.55" font-size="8" stroke="#000" stroke-width="0.22">Vehicle</text>
<line x1="28.90" y1="553.10" x2="49.30" y2="553.10" stroke="#f23b3b" stroke-width="2"/>
<circle cx="39.10" cy="553.10" r="1.90" fill="#f23b3b"/>
<text x="58.80" y="555.85" font-size="8" stroke="#000" stroke-width="0.22">iMQT_020</text>
<line x1="28.90" y1="568.20" x2="49.30" y2="568.20" stroke="#9a0fe0" stroke-width="2"/>
<rect x="37.10" y="566.20" width="4.00" height="4.00" fill="#9a0fe0"/>
<text x="58.80" y="570.95" font-size="8" stroke="#000" stroke-width="0.22">Vehicle</text>
<line x1="28.90" y1="583.30" x2="49.30" y2="583.30" stroke="#12bf7c" stroke-width="2"/>
<circle cx="39.10" cy="583.30" r="1.90" fill="#12bf7c"/>
<text x="58.80" y="586.05" font-size="8" stroke="#000" stroke-width="0.22">iMQT_020</text>
<line x1="110.40" y1="534.50" x2="110.40" y2="556.20" stroke="#000" stroke-width="2.1"/>
<text x="117.50" y="548.10" font-size="8" stroke="#000" stroke-width="0.22">WT</text>
<line x1="110.40" y1="564.40" x2="110.40" y2="586.40" stroke="#000" stroke-width="2.1"/>
<text x="117.50" y="578.15" font-size="8" stroke="#000" stroke-width="0.22">FIL/AAA</text>
<line x1="38.40" y1="597.70" x2="38.40" y2="717.40" stroke="#000" stroke-width="2"/>
<line x1="32.40" y1="598.50" x2="38.40" y2="598.50" stroke="#000" stroke-width="1.8"/>
<text x="30.20" y="600.80" font-size="6.4" text-anchor="end" fill="#a3a3a3">300</text>
<line x1="32.40" y1="635.50" x2="38.40" y2="635.50" stroke="#000" stroke-width="1.8"/>
<text x="30.20" y="637.80" font-size="6.4" text-anchor="end" fill="#a3a3a3">200</text>
<line x1="32.40" y1="673.30" x2="38.40" y2="673.30" stroke="#000" stroke-width="1.8"/>
<text x="30.20" y="675.60" font-size="6.4" text-anchor="end" fill="#a3a3a3">100</text>
<line x1="32.40" y1="711.40" x2="38.40" y2="711.40" stroke="#000" stroke-width="1.8"/>
<text x="30.20" y="713.70" font-size="6.4" text-anchor="end" fill="#a3a3a3">0</text>
<line x1="37.40" y1="711.40" x2="152.80" y2="711.40" stroke="#000" stroke-width="2"/>
<line x1="38.40" y1="711.40" x2="38.40" y2="717.40" stroke="#000" stroke-width="1.8"/>
<text x="38.40" y="725.70" font-size="6.4" text-anchor="middle" fill="#a3a3a3">0</text>
<line x1="83.60" y1="711.40" x2="83.60" y2="717.40" stroke="#000" stroke-width="1.8"/>
<text x="83.60" y="725.70" font-size="6.4" text-anchor="middle" fill="#a3a3a3">50</text>
<line x1="129.00" y1="711.40" x2="129.00" y2="717.40" stroke="#000" stroke-width="1.8"/>
<text x="129.00" y="725.70" font-size="6.4" text-anchor="middle" fill="#a3a3a3">100</text>
<text x="95.80" y="739.11" font-size="10.2" font-weight="bold" text-anchor="middle">Time (min)</text>
<text x="8.40" y="651.00" font-size="10.8" font-weight="bold" text-anchor="middle" transform="rotate(-90 8.40 651.00)">OCR (pmol/min/10<tspan font-size="7.3" dy="-3.9">4</tspan><tspan dy="3.9">cells)</tspan></text>
<text x="55.70" y="612.65" font-size="8" text-anchor="middle" stroke="#000" stroke-width="0.22">Glc</text>
<line x1="55.70" y1="623.30" x2="55.70" y2="631.10" stroke="#555" stroke-width="1.0"/>
<path d="M51.50,630.60 L59.90,630.60 L55.70,638.00 Z" fill="#000"/>
<text x="82.30" y="630.55" font-size="8" text-anchor="middle" stroke="#000" stroke-width="0.22">Oligo</text>
<line x1="82.30" y1="640.40" x2="82.30" y2="647.50" stroke="#555" stroke-width="1.0"/>
<path d="M78.10,647.00 L86.50,647.00 L82.30,654.40 Z" fill="#000"/>
<text x="104.20" y="595.85" font-size="8" text-anchor="middle" stroke="#000" stroke-width="0.22">FCCP</text>
<line x1="104.20" y1="607.20" x2="104.20" y2="615.00" stroke="#555" stroke-width="1.0"/>
<path d="M100.00,614.50 L108.40,614.50 L104.20,621.90 Z" fill="#000"/>
<text x="130.80" y="610.15" font-size="8" text-anchor="middle" stroke="#000" stroke-width="0.22">Rot/AA</text>
<line x1="130.80" y1="620.70" x2="130.80" y2="627.80" stroke="#555" stroke-width="1.0"/>
<path d="M126.60,627.30 L135.00,627.30 L130.80,634.70 Z" fill="#000"/>
<line x1="38.90" y1="672.80" x2="38.90" y2="676.80" stroke="#12bf7c" stroke-width="1.1"/>
<line x1="37.10" y1="672.80" x2="40.70" y2="672.80" stroke="#12bf7c" stroke-width="1.1"/>
<line x1="37.10" y1="676.80" x2="40.70" y2="676.80" stroke="#12bf7c" stroke-width="1.1"/>
<line x1="47.30" y1="672.80" x2="47.30" y2="676.80" stroke="#12bf7c" stroke-width="1.1"/>
<line x1="45.50" y1="672.80" x2="49.10" y2="672.80" stroke="#12bf7c" stroke-width="1.1"/>
<line x1="45.50" y1="676.80" x2="49.10" y2="676.80" stroke="#12bf7c" stroke-width="1.1"/>
<line x1="55.10" y1="672.30" x2="55.10" y2="676.30" stroke="#12bf7c" stroke-width="1.1"/>
<line x1="53.30" y1="672.30" x2="56.90" y2="672.30" stroke="#12bf7c" stroke-width="1.1"/>
<line x1="53.30" y1="676.30" x2="56.90" y2="676.30" stroke="#12bf7c" stroke-width="1.1"/>
<line x1="63.00" y1="674.10" x2="63.00" y2="677.10" stroke="#12bf7c" stroke-width="1.1"/>
<line x1="61.20" y1="674.10" x2="64.80" y2="674.10" stroke="#12bf7c" stroke-width="1.1"/>
<line x1="61.20" y1="677.10" x2="64.80" y2="677.10" stroke="#12bf7c" stroke-width="1.1"/>
<line x1="70.90" y1="674.10" x2="70.90" y2="677.10" stroke="#12bf7c" stroke-width="1.1"/>
<line x1="69.10" y1="674.10" x2="72.70" y2="674.10" stroke="#12bf7c" stroke-width="1.1"/>
<line x1="69.10" y1="677.10" x2="72.70" y2="677.10" stroke="#12bf7c" stroke-width="1.1"/>
<line x1="78.40" y1="674.10" x2="78.40" y2="677.10" stroke="#12bf7c" stroke-width="1.1"/>
<line x1="76.60" y1="674.10" x2="80.20" y2="674.10" stroke="#12bf7c" stroke-width="1.1"/>
<line x1="76.60" y1="677.10" x2="80.20" y2="677.10" stroke="#12bf7c" stroke-width="1.1"/>
<line x1="86.20" y1="680.80" x2="86.20" y2="690.80" stroke="#12bf7c" stroke-width="1.1"/>
<line x1="84.40" y1="680.80" x2="88.00" y2="680.80" stroke="#12bf7c" stroke-width="1.1"/>
<line x1="84.40" y1="690.80" x2="88.00" y2="690.80" stroke="#12bf7c" stroke-width="1.1"/>
<line x1="94.20" y1="680.00" x2="94.20" y2="690.00" stroke="#12bf7c" stroke-width="1.1"/>
<line x1="92.40" y1="680.00" x2="96.00" y2="680.00" stroke="#12bf7c" stroke-width="1.1"/>
<line x1="92.40" y1="690.00" x2="96.00" y2="690.00" stroke="#12bf7c" stroke-width="1.1"/>
<line x1="101.90" y1="679.00" x2="101.90" y2="689.00" stroke="#12bf7c" stroke-width="1.1"/>
<line x1="100.10" y1="679.00" x2="103.70" y2="679.00" stroke="#12bf7c" stroke-width="1.1"/>
<line x1="100.10" y1="689.00" x2="103.70" y2="689.00" stroke="#12bf7c" stroke-width="1.1"/>
<line x1="110.00" y1="661.10" x2="110.00" y2="667.10" stroke="#12bf7c" stroke-width="1.1"/>
<line x1="108.20" y1="661.10" x2="111.80" y2="661.10" stroke="#12bf7c" stroke-width="1.1"/>
<line x1="108.20" y1="667.10" x2="111.80" y2="667.10" stroke="#12bf7c" stroke-width="1.1"/>
<line x1="117.70" y1="659.00" x2="117.70" y2="665.00" stroke="#12bf7c" stroke-width="1.1"/>
<line x1="115.90" y1="659.00" x2="119.50" y2="659.00" stroke="#12bf7c" stroke-width="1.1"/>
<line x1="115.90" y1="665.00" x2="119.50" y2="665.00" stroke="#12bf7c" stroke-width="1.1"/>
<line x1="125.20" y1="661.10" x2="125.20" y2="667.10" stroke="#12bf7c" stroke-width="1.1"/>
<line x1="123.40" y1="661.10" x2="127.00" y2="661.10" stroke="#12bf7c" stroke-width="1.1"/>
<line x1="123.40" y1="667.10" x2="127.00" y2="667.10" stroke="#12bf7c" stroke-width="1.1"/>
<line x1="133.10" y1="674.10" x2="133.10" y2="682.10" stroke="#12bf7c" stroke-width="1.1"/>
<line x1="131.30" y1="674.10" x2="134.90" y2="674.10" stroke="#12bf7c" stroke-width="1.1"/>
<line x1="131.30" y1="682.10" x2="134.90" y2="682.10" stroke="#12bf7c" stroke-width="1.1"/>
<line x1="141.00" y1="675.40" x2="141.00" y2="683.40" stroke="#12bf7c" stroke-width="1.1"/>
<line x1="139.20" y1="675.40" x2="142.80" y2="675.40" stroke="#12bf7c" stroke-width="1.1"/>
<line x1="139.20" y1="683.40" x2="142.80" y2="683.40" stroke="#12bf7c" stroke-width="1.1"/>
<line x1="148.90" y1="673.90" x2="148.90" y2="683.90" stroke="#12bf7c" stroke-width="1.1"/>
<line x1="147.10" y1="673.90" x2="150.70" y2="673.90" stroke="#12bf7c" stroke-width="1.1"/>
<line x1="147.10" y1="683.90" x2="150.70" y2="683.90" stroke="#12bf7c" stroke-width="1.1"/>
<polyline points="38.90,674.80 47.30,674.80 55.10,674.30 63.00,675.60 70.90,675.60 78.40,675.60 86.20,685.80 94.20,685.00 101.90,684.00 110.00,664.10 117.70,662.00 125.20,664.10 133.10,678.10 141.00,679.40 148.90,678.90" fill="none" stroke="#12bf7c" stroke-width="2" stroke-linejoin="round"/>
<circle cx="38.90" cy="674.80" r="1.85" fill="#12bf7c"/>
<circle cx="47.30" cy="674.80" r="1.85" fill="#12bf7c"/>
<circle cx="55.10" cy="674.30" r="1.85" fill="#12bf7c"/>
<circle cx="63.00" cy="675.60" r="1.85" fill="#12bf7c"/>
<circle cx="70.90" cy="675.60" r="1.85" fill="#12bf7c"/>
<circle cx="78.40" cy="675.60" r="1.85" fill="#12bf7c"/>
<circle cx="86.20" cy="685.80" r="1.85" fill="#12bf7c"/>
<circle cx="94.20" cy="685.00" r="1.85" fill="#12bf7c"/>
<circle cx="101.90" cy="684.00" r="1.85" fill="#12bf7c"/>
<circle cx="110.00" cy="664.10" r="1.85" fill="#12bf7c"/>
<circle cx="117.70" cy="662.00" r="1.85" fill="#12bf7c"/>
<circle cx="125.20" cy="664.10" r="1.85" fill="#12bf7c"/>
<circle cx="133.10" cy="678.10" r="1.85" fill="#12bf7c"/>
<circle cx="141.00" cy="679.40" r="1.85" fill="#12bf7c"/>
<circle cx="148.90" cy="678.90" r="1.85" fill="#12bf7c"/>
<line x1="38.90" y1="673.30" x2="38.90" y2="676.30" stroke="#9a0fe0" stroke-width="1.1"/>
<line x1="37.10" y1="673.30" x2="40.70" y2="673.30" stroke="#9a0fe0" stroke-width="1.1"/>
<line x1="37.10" y1="676.30" x2="40.70" y2="676.30" stroke="#9a0fe0" stroke-width="1.1"/>
<line x1="47.30" y1="673.30" x2="47.30" y2="676.30" stroke="#9a0fe0" stroke-width="1.1"/>
<line x1="45.50" y1="673.30" x2="49.10" y2="673.30" stroke="#9a0fe0" stroke-width="1.1"/>
<line x1="45.50" y1="676.30" x2="49.10" y2="676.30" stroke="#9a0fe0" stroke-width="1.1"/>
<line x1="55.10" y1="673.30" x2="55.10" y2="676.30" stroke="#9a0fe0" stroke-width="1.1"/>
<line x1="53.30" y1="673.30" x2="56.90" y2="673.30" stroke="#9a0fe0" stroke-width="1.1"/>
<line x1="53.30" y1="676.30" x2="56.90" y2="676.30" stroke="#9a0fe0" stroke-width="1.1"/>
<line x1="63.00" y1="674.10" x2="63.00" y2="677.10" stroke="#9a0fe0" stroke-width="1.1"/>
<line x1="61.20" y1="674.10" x2="64.80" y2="674.10" stroke="#9a0fe0" stroke-width="1.1"/>
<line x1="61.20" y1="677.10" x2="64.80" y2="677.10" stroke="#9a0fe0" stroke-width="1.1"/>
<line x1="70.90" y1="674.10" x2="70.90" y2="677.10" stroke="#9a0fe0" stroke-width="1.1"/>
<line x1="69.10" y1="674.10" x2="72.70" y2="674.10" stroke="#9a0fe0" stroke-width="1.1"/>
<line x1="69.10" y1="677.10" x2="72.70" y2="677.10" stroke="#9a0fe0" stroke-width="1.1"/>
<line x1="78.40" y1="674.10" x2="78.40" y2="677.10" stroke="#9a0fe0" stroke-width="1.1"/>
<line x1="76.60" y1="674.10" x2="80.20" y2="674.10" stroke="#9a0fe0" stroke-width="1.1"/>
<line x1="76.60" y1="677.10" x2="80.20" y2="677.10" stroke="#9a0fe0" stroke-width="1.1"/>
<line x1="86.20" y1="692.30" x2="86.20" y2="698.30" stroke="#9a0fe0" stroke-width="1.1"/>
<line x1="84.40" y1="692.30" x2="88.00" y2="692.30" stroke="#9a0fe0" stroke-width="1.1"/>
<line x1="84.40" y1="698.30" x2="88.00" y2="698.30" stroke="#9a0fe0" stroke-width="1.1"/>
<line x1="94.20" y1="686.50" x2="94.20" y2="700.50" stroke="#9a0fe0" stroke-width="1.1"/>
<line x1="92.40" y1="686.50" x2="96.00" y2="686.50" stroke="#9a0fe0" stroke-width="1.1"/>
<line x1="92.40" y1="700.50" x2="96.00" y2="700.50" stroke="#9a0fe0" stroke-width="1.1"/>
<line x1="101.90" y1="683.20" x2="101.90" y2="701.20" stroke="#9a0fe0" stroke-width="1.1"/>
<line x1="100.10" y1="683.20" x2="103.70" y2="683.20" stroke="#9a0fe0" stroke-width="1.1"/>
<line x1="100.10" y1="701.20" x2="103.70" y2="701.20" stroke="#9a0fe0" stroke-width="1.1"/>
<line x1="110.00" y1="659.80" x2="110.00" y2="665.80" stroke="#9a0fe0" stroke-width="1.1"/>
<line x1="108.20" y1="659.80" x2="111.80" y2="659.80" stroke="#9a0fe0" stroke-width="1.1"/>
<line x1="108.20" y1="665.80" x2="111.80" y2="665.80" stroke="#9a0fe0" stroke-width="1.1"/>
<line x1="117.70" y1="661.10" x2="117.70" y2="667.10" stroke="#9a0fe0" stroke-width="1.1"/>
<line x1="115.90" y1="661.10" x2="119.50" y2="661.10" stroke="#9a0fe0" stroke-width="1.1"/>
<line x1="115.90" y1="667.10" x2="119.50" y2="667.10" stroke="#9a0fe0" stroke-width="1.1"/>
<line x1="125.20" y1="659.80" x2="125.20" y2="665.80" stroke="#9a0fe0" stroke-width="1.1"/>
<line x1="123.40" y1="659.80" x2="127.00" y2="659.80" stroke="#9a0fe0" stroke-width="1.1"/>
<line x1="123.40" y1="665.80" x2="127.00" y2="665.80" stroke="#9a0fe0" stroke-width="1.1"/>
<line x1="133.10" y1="675.10" x2="133.10" y2="681.10" stroke="#9a0fe0" stroke-width="1.1"/>
<line x1="131.30" y1="675.10" x2="134.90" y2="675.10" stroke="#9a0fe0" stroke-width="1.1"/>
<line x1="131.30" y1="681.10" x2="134.90" y2="681.10" stroke="#9a0fe0" stroke-width="1.1"/>
<line x1="141.00" y1="672.90" x2="141.00" y2="680.90" stroke="#9a0fe0" stroke-width="1.1"/>
<line x1="139.20" y1="672.90" x2="142.80" y2="672.90" stroke="#9a0fe0" stroke-width="1.1"/>
<line x1="139.20" y1="680.90" x2="142.80" y2="680.90" stroke="#9a0fe0" stroke-width="1.1"/>
<line x1="148.90" y1="671.90" x2="148.90" y2="681.90" stroke="#9a0fe0" stroke-width="1.1"/>
<line x1="147.10" y1="671.90" x2="150.70" y2="671.90" stroke="#9a0fe0" stroke-width="1.1"/>
<line x1="147.10" y1="681.90" x2="150.70" y2="681.90" stroke="#9a0fe0" stroke-width="1.1"/>
<polyline points="38.90,674.80 47.30,674.80 55.10,674.80 63.00,675.60 70.90,675.60 78.40,675.60 86.20,695.30 94.20,693.50 101.90,692.20 110.00,662.80 117.70,664.10 125.20,662.80 133.10,678.10 141.00,676.90 148.90,676.90" fill="none" stroke="#9a0fe0" stroke-width="2" stroke-linejoin="round"/>
<rect x="36.90" y="672.80" width="4.00" height="4.00" fill="#9a0fe0"/>
<rect x="45.30" y="672.80" width="4.00" height="4.00" fill="#9a0fe0"/>
<rect x="53.10" y="672.80" width="4.00" height="4.00" fill="#9a0fe0"/>
<rect x="61.00" y="673.60" width="4.00" height="4.00" fill="#9a0fe0"/>
<rect x="68.90" y="673.60" width="4.00" height="4.00" fill="#9a0fe0"/>
<rect x="76.40" y="673.60" width="4.00" height="4.00" fill="#9a0fe0"/>
<rect x="84.20" y="693.30" width="4.00" height="4.00" fill="#9a0fe0"/>
<rect x="92.20" y="691.50" width="4.00" height="4.00" fill="#9a0fe0"/>
<rect x="99.90" y="690.20" width="4.00" height="4.00" fill="#9a0fe0"/>
<rect x="108.00" y="660.80" width="4.00" height="4.00" fill="#9a0fe0"/>
<rect x="115.70" y="662.10" width="4.00" height="4.00" fill="#9a0fe0"/>
<rect x="123.20" y="660.80" width="4.00" height="4.00" fill="#9a0fe0"/>
<rect x="131.10" y="676.10" width="4.00" height="4.00" fill="#9a0fe0"/>
<rect x="139.00" y="674.90" width="4.00" height="4.00" fill="#9a0fe0"/>
<rect x="146.90" y="674.90" width="4.00" height="4.00" fill="#9a0fe0"/>
<line x1="38.90" y1="669.80" x2="38.90" y2="673.80" stroke="#f23b3b" stroke-width="1.1"/>
<line x1="37.10" y1="669.80" x2="40.70" y2="669.80" stroke="#f23b3b" stroke-width="1.1"/>
<line x1="37.10" y1="673.80" x2="40.70" y2="673.80" stroke="#f23b3b" stroke-width="1.1"/>
<line x1="47.30" y1="668.50" x2="47.30" y2="672.50" stroke="#f23b3b" stroke-width="1.1"/>
<line x1="45.50" y1="668.50" x2="49.10" y2="668.50" stroke="#f23b3b" stroke-width="1.1"/>
<line x1="45.50" y1="672.50" x2="49.10" y2="672.50" stroke="#f23b3b" stroke-width="1.1"/>
<line x1="55.10" y1="668.20" x2="55.10" y2="674.20" stroke="#f23b3b" stroke-width="1.1"/>
<line x1="53.30" y1="668.20" x2="56.90" y2="668.20" stroke="#f23b3b" stroke-width="1.1"/>
<line x1="53.30" y1="674.20" x2="56.90" y2="674.20" stroke="#f23b3b" stroke-width="1.1"/>
<line x1="63.00" y1="668.20" x2="63.00" y2="674.20" stroke="#f23b3b" stroke-width="1.1"/>
<line x1="61.20" y1="668.20" x2="64.80" y2="668.20" stroke="#f23b3b" stroke-width="1.1"/>
<line x1="61.20" y1="674.20" x2="64.80" y2="674.20" stroke="#f23b3b" stroke-width="1.1"/>
<line x1="70.90" y1="666.70" x2="70.90" y2="670.70" stroke="#f23b3b" stroke-width="1.1"/>
<line x1="69.10" y1="666.70" x2="72.70" y2="666.70" stroke="#f23b3b" stroke-width="1.1"/>
<line x1="69.10" y1="670.70" x2="72.70" y2="670.70" stroke="#f23b3b" stroke-width="1.1"/>
<line x1="78.40" y1="666.70" x2="78.40" y2="670.70" stroke="#f23b3b" stroke-width="1.1"/>
<line x1="76.60" y1="666.70" x2="80.20" y2="666.70" stroke="#f23b3b" stroke-width="1.1"/>
<line x1="76.60" y1="670.70" x2="80.20" y2="670.70" stroke="#f23b3b" stroke-width="1.1"/>
<line x1="86.20" y1="676.60" x2="86.20" y2="679.60" stroke="#f23b3b" stroke-width="1.1"/>
<line x1="84.40" y1="676.60" x2="88.00" y2="676.60" stroke="#f23b3b" stroke-width="1.1"/>
<line x1="84.40" y1="679.60" x2="88.00" y2="679.60" stroke="#f23b3b" stroke-width="1.1"/>
<line x1="94.20" y1="676.60" x2="94.20" y2="679.60" stroke="#f23b3b" stroke-width="1.1"/>
<line x1="92.40" y1="676.60" x2="96.00" y2="676.60" stroke="#f23b3b" stroke-width="1.1"/>
<line x1="92.40" y1="679.60" x2="96.00" y2="679.60" stroke="#f23b3b" stroke-width="1.1"/>
<line x1="101.90" y1="676.60" x2="101.90" y2="679.60" stroke="#f23b3b" stroke-width="1.1"/>
<line x1="100.10" y1="676.60" x2="103.70" y2="676.60" stroke="#f23b3b" stroke-width="1.1"/>
<line x1="100.10" y1="679.60" x2="103.70" y2="679.60" stroke="#f23b3b" stroke-width="1.1"/>
<line x1="110.00" y1="646.80" x2="110.00" y2="650.80" stroke="#f23b3b" stroke-width="1.1"/>
<line x1="108.20" y1="646.80" x2="111.80" y2="646.80" stroke="#f23b3b" stroke-width="1.1"/>
<line x1="108.20" y1="650.80" x2="111.80" y2="650.80" stroke="#f23b3b" stroke-width="1.1"/>
<line x1="117.70" y1="646.80" x2="117.70" y2="650.80" stroke="#f23b3b" stroke-width="1.1"/>
<line x1="115.90" y1="646.80" x2="119.50" y2="646.80" stroke="#f23b3b" stroke-width="1.1"/>
<line x1="115.90" y1="650.80" x2="119.50" y2="650.80" stroke="#f23b3b" stroke-width="1.1"/>
<line x1="125.20" y1="646.80" x2="125.20" y2="650.80" stroke="#f23b3b" stroke-width="1.1"/>
<line x1="123.40" y1="646.80" x2="127.00" y2="646.80" stroke="#f23b3b" stroke-width="1.1"/>
<line x1="123.40" y1="650.80" x2="127.00" y2="650.80" stroke="#f23b3b" stroke-width="1.1"/>
<line x1="133.10" y1="675.90" x2="133.10" y2="683.90" stroke="#f23b3b" stroke-width="1.1"/>
<line x1="131.30" y1="675.90" x2="134.90" y2="675.90" stroke="#f23b3b" stroke-width="1.1"/>
<line x1="131.30" y1="683.90" x2="134.90" y2="683.90" stroke="#f23b3b" stroke-width="1.1"/>
<line x1="141.00" y1="675.90" x2="141.00" y2="681.90" stroke="#f23b3b" stroke-width="1.1"/>
<line x1="139.20" y1="675.90" x2="142.80" y2="675.90" stroke="#f23b3b" stroke-width="1.1"/>
<line x1="139.20" y1="681.90" x2="142.80" y2="681.90" stroke="#f23b3b" stroke-width="1.1"/>
<line x1="148.90" y1="674.10" x2="148.90" y2="682.10" stroke="#f23b3b" stroke-width="1.1"/>
<line x1="147.10" y1="674.10" x2="150.70" y2="674.10" stroke="#f23b3b" stroke-width="1.1"/>
<line x1="147.10" y1="682.10" x2="150.70" y2="682.10" stroke="#f23b3b" stroke-width="1.1"/>
<polyline points="38.90,671.80 47.30,670.50 55.10,671.20 63.00,671.20 70.90,668.70 78.40,668.70 86.20,678.10 94.20,678.10 101.90,678.10 110.00,648.80 117.70,648.80 125.20,648.80 133.10,679.90 141.00,678.90 148.90,678.10" fill="none" stroke="#f23b3b" stroke-width="2" stroke-linejoin="round"/>
<circle cx="38.90" cy="671.80" r="1.85" fill="#f23b3b"/>
<circle cx="47.30" cy="670.50" r="1.85" fill="#f23b3b"/>
<circle cx="55.10" cy="671.20" r="1.85" fill="#f23b3b"/>
<circle cx="63.00" cy="671.20" r="1.85" fill="#f23b3b"/>
<circle cx="70.90" cy="668.70" r="1.85" fill="#f23b3b"/>
<circle cx="78.40" cy="668.70" r="1.85" fill="#f23b3b"/>
<circle cx="86.20" cy="678.10" r="1.85" fill="#f23b3b"/>
<circle cx="94.20" cy="678.10" r="1.85" fill="#f23b3b"/>
<circle cx="101.90" cy="678.10" r="1.85" fill="#f23b3b"/>
<circle cx="110.00" cy="648.80" r="1.85" fill="#f23b3b"/>
<circle cx="117.70" cy="648.80" r="1.85" fill="#f23b3b"/>
<circle cx="125.20" cy="648.80" r="1.85" fill="#f23b3b"/>
<circle cx="133.10" cy="679.90" r="1.85" fill="#f23b3b"/>
<circle cx="141.00" cy="678.90" r="1.85" fill="#f23b3b"/>
<circle cx="148.90" cy="678.10" r="1.85" fill="#f23b3b"/>
<line x1="38.90" y1="657.50" x2="38.90" y2="661.50" stroke="#7a7a7a" stroke-width="1.1"/>
<line x1="37.10" y1="657.50" x2="40.70" y2="657.50" stroke="#7a7a7a" stroke-width="1.1"/>
<line x1="37.10" y1="661.50" x2="40.70" y2="661.50" stroke="#7a7a7a" stroke-width="1.1"/>
<line x1="47.30" y1="657.00" x2="47.30" y2="661.00" stroke="#7a7a7a" stroke-width="1.1"/>
<line x1="45.50" y1="657.00" x2="49.10" y2="657.00" stroke="#7a7a7a" stroke-width="1.1"/>
<line x1="45.50" y1="661.00" x2="49.10" y2="661.00" stroke="#7a7a7a" stroke-width="1.1"/>
<line x1="55.10" y1="656.20" x2="55.10" y2="659.20" stroke="#7a7a7a" stroke-width="1.1"/>
<line x1="53.30" y1="656.20" x2="56.90" y2="656.20" stroke="#7a7a7a" stroke-width="1.1"/>
<line x1="53.30" y1="659.20" x2="56.90" y2="659.20" stroke="#7a7a7a" stroke-width="1.1"/>
<line x1="63.00" y1="649.60" x2="63.00" y2="655.60" stroke="#7a7a7a" stroke-width="1.1"/>
<line x1="61.20" y1="649.60" x2="64.80" y2="649.60" stroke="#7a7a7a" stroke-width="1.1"/>
<line x1="61.20" y1="655.60" x2="64.80" y2="655.60" stroke="#7a7a7a" stroke-width="1.1"/>
<line x1="70.90" y1="649.60" x2="70.90" y2="655.60" stroke="#7a7a7a" stroke-width="1.1"/>
<line x1="69.10" y1="649.60" x2="72.70" y2="649.60" stroke="#7a7a7a" stroke-width="1.1"/>
<line x1="69.10" y1="655.60" x2="72.70" y2="655.60" stroke="#7a7a7a" stroke-width="1.1"/>
<line x1="78.40" y1="648.00" x2="78.40" y2="652.00" stroke="#7a7a7a" stroke-width="1.1"/>
<line x1="76.60" y1="648.00" x2="80.20" y2="648.00" stroke="#7a7a7a" stroke-width="1.1"/>
<line x1="76.60" y1="652.00" x2="80.20" y2="652.00" stroke="#7a7a7a" stroke-width="1.1"/>
<line x1="86.20" y1="663.10" x2="86.20" y2="665.10" stroke="#7a7a7a" stroke-width="1.1"/>
<line x1="84.40" y1="663.10" x2="88.00" y2="663.10" stroke="#7a7a7a" stroke-width="1.1"/>
<line x1="84.40" y1="665.10" x2="88.00" y2="665.10" stroke="#7a7a7a" stroke-width="1.1"/>
<line x1="94.20" y1="663.60" x2="94.20" y2="665.60" stroke="#7a7a7a" stroke-width="1.1"/>
<line x1="92.40" y1="663.60" x2="96.00" y2="663.60" stroke="#7a7a7a" stroke-width="1.1"/>
<line x1="92.40" y1="665.60" x2="96.00" y2="665.60" stroke="#7a7a7a" stroke-width="1.1"/>
<line x1="101.90" y1="663.10" x2="101.90" y2="665.10" stroke="#7a7a7a" stroke-width="1.1"/>
<line x1="100.10" y1="663.10" x2="103.70" y2="663.10" stroke="#7a7a7a" stroke-width="1.1"/>
<line x1="100.10" y1="665.10" x2="103.70" y2="665.10" stroke="#7a7a7a" stroke-width="1.1"/>
<line x1="110.00" y1="616.20" x2="110.00" y2="630.20" stroke="#7a7a7a" stroke-width="1.1"/>
<line x1="108.20" y1="616.20" x2="111.80" y2="616.20" stroke="#7a7a7a" stroke-width="1.1"/>
<line x1="108.20" y1="630.20" x2="111.80" y2="630.20" stroke="#7a7a7a" stroke-width="1.1"/>
<line x1="117.70" y1="616.20" x2="117.70" y2="630.20" stroke="#7a7a7a" stroke-width="1.1"/>
<line x1="115.90" y1="616.20" x2="119.50" y2="616.20" stroke="#7a7a7a" stroke-width="1.1"/>
<line x1="115.90" y1="630.20" x2="119.50" y2="630.20" stroke="#7a7a7a" stroke-width="1.1"/>
<line x1="125.20" y1="613.20" x2="125.20" y2="629.20" stroke="#7a7a7a" stroke-width="1.1"/>
<line x1="123.40" y1="613.20" x2="127.00" y2="613.20" stroke="#7a7a7a" stroke-width="1.1"/>
<line x1="123.40" y1="629.20" x2="127.00" y2="629.20" stroke="#7a7a7a" stroke-width="1.1"/>
<line x1="133.10" y1="667.30" x2="133.10" y2="681.30" stroke="#7a7a7a" stroke-width="1.1"/>
<line x1="131.30" y1="667.30" x2="134.90" y2="667.30" stroke="#7a7a7a" stroke-width="1.1"/>
<line x1="131.30" y1="681.30" x2="134.90" y2="681.30" stroke="#7a7a7a" stroke-width="1.1"/>
<line x1="141.00" y1="675.10" x2="141.00" y2="681.10" stroke="#7a7a7a" stroke-width="1.1"/>
<line x1="139.20" y1="675.10" x2="142.80" y2="675.10" stroke="#7a7a7a" stroke-width="1.1"/>
<line x1="139.20" y1="681.10" x2="142.80" y2="681.10" stroke="#7a7a7a" stroke-width="1.1"/>
<line x1="148.90" y1="675.10" x2="148.90" y2="681.10" stroke="#7a7a7a" stroke-width="1.1"/>
<line x1="147.10" y1="675.10" x2="150.70" y2="675.10" stroke="#7a7a7a" stroke-width="1.1"/>
<line x1="147.10" y1="681.10" x2="150.70" y2="681.10" stroke="#7a7a7a" stroke-width="1.1"/>
<polyline points="38.90,659.50 47.30,659.00 55.10,657.70 63.00,652.60 70.90,652.60 78.40,650.00 86.20,664.10 94.20,664.60 101.90,664.10 110.00,623.20 117.70,623.20 125.20,621.20 133.10,674.30 141.00,678.10 148.90,678.10" fill="none" stroke="#7a7a7a" stroke-width="2" stroke-linejoin="round"/>
<rect x="36.90" y="657.50" width="4.00" height="4.00" fill="#7a7a7a"/>
<rect x="45.30" y="657.00" width="4.00" height="4.00" fill="#7a7a7a"/>
<rect x="53.10" y="655.70" width="4.00" height="4.00" fill="#7a7a7a"/>
<rect x="61.00" y="650.60" width="4.00" height="4.00" fill="#7a7a7a"/>
<rect x="68.90" y="650.60" width="4.00" height="4.00" fill="#7a7a7a"/>
<rect x="76.40" y="648.00" width="4.00" height="4.00" fill="#7a7a7a"/>
<rect x="84.20" y="662.10" width="4.00" height="4.00" fill="#7a7a7a"/>
<rect x="92.20" y="662.60" width="4.00" height="4.00" fill="#7a7a7a"/>
<rect x="99.90" y="662.10" width="4.00" height="4.00" fill="#7a7a7a"/>
<rect x="108.00" y="621.20" width="4.00" height="4.00" fill="#7a7a7a"/>
<rect x="115.70" y="621.20" width="4.00" height="4.00" fill="#7a7a7a"/>
<rect x="123.20" y="619.20" width="4.00" height="4.00" fill="#7a7a7a"/>
<rect x="131.10" y="672.30" width="4.00" height="4.00" fill="#7a7a7a"/>
<rect x="139.00" y="676.10" width="4.00" height="4.00" fill="#7a7a7a"/>
<rect x="146.90" y="676.10" width="4.00" height="4.00" fill="#7a7a7a"/>
<text x="173.20" y="548.50" font-size="15.5" font-weight="bold">J</text>
<rect x="204.30" y="536.30" width="4.00" height="4.00" fill="#7a7a7a"/>
<text x="216.50" y="541.05" font-size="8" stroke="#000" stroke-width="0.22">Vehicle</text>
<circle cx="206.30" cy="553.70" r="2.05" fill="#f23b3b"/>
<text x="216.50" y="556.45" font-size="8" stroke="#000" stroke-width="0.22">iMQT_020</text>
<rect x="204.30" y="566.50" width="4.00" height="4.00" fill="#9a0fe0"/>
<text x="216.50" y="571.25" font-size="8" stroke="#000" stroke-width="0.22">Vehicle</text>
<circle cx="206.30" cy="583.80" r="2.05" fill="#12bf7c"/>
<text x="216.50" y="586.55" font-size="8" stroke="#000" stroke-width="0.22">iMQT_020</text>
<line x1="268.90" y1="535.80" x2="268.90" y2="558.30" stroke="#000" stroke-width="2.1"/>
<text x="276.80" y="549.80" font-size="8" stroke="#000" stroke-width="0.22">WT</text>
<line x1="268.90" y1="565.20" x2="268.90" y2="587.60" stroke="#000" stroke-width="2.1"/>
<text x="276.80" y="579.15" font-size="8" stroke="#000" stroke-width="0.22">FIL/AAA</text>
<line x1="201.90" y1="597.20" x2="201.90" y2="711.60" stroke="#000" stroke-width="2"/>
<line x1="195.90" y1="598.00" x2="201.90" y2="598.00" stroke="#000" stroke-width="1.8"/>
<text x="193.70" y="600.30" font-size="6.4" text-anchor="end" fill="#707070">300</text>
<line x1="195.90" y1="634.90" x2="201.90" y2="634.90" stroke="#000" stroke-width="1.8"/>
<text x="193.70" y="637.20" font-size="6.4" text-anchor="end" fill="#707070">200</text>
<line x1="195.90" y1="672.70" x2="201.90" y2="672.70" stroke="#000" stroke-width="1.8"/>
<text x="193.70" y="675.00" font-size="6.4" text-anchor="end" fill="#707070">100</text>
<line x1="195.90" y1="710.60" x2="201.90" y2="710.60" stroke="#000" stroke-width="1.8"/>
<text x="193.70" y="712.90" font-size="6.4" text-anchor="end" fill="#707070">0</text>
<line x1="200.90" y1="710.60" x2="316.90" y2="710.60" stroke="#000" stroke-width="2"/>
<line x1="230.80" y1="710.60" x2="230.80" y2="716.40" stroke="#000" stroke-width="1.8"/>
<line x1="287.50" y1="710.60" x2="287.50" y2="716.40" stroke="#000" stroke-width="1.8"/>
<line x1="206.30" y1="720.30" x2="253.00" y2="720.30" stroke="#000" stroke-width="2"/>
<line x1="263.30" y1="720.30" x2="310.50" y2="720.30" stroke="#000" stroke-width="2"/>
<text x="230.80" y="735.41" font-size="10.5" font-weight="bold" text-anchor="middle">Basal</text>
<text x="287.50" y="735.41" font-size="10.5" font-weight="bold" text-anchor="middle">FCCP</text>
<text x="175.10" y="651.80" font-size="10.8" font-weight="bold" text-anchor="middle" transform="rotate(-90 175.10 651.80)">OCR (pmol/min/10<tspan font-size="7.3" dy="-3.9">4</tspan><tspan dy="3.9">cells)</tspan></text>
<rect x="210.50" y="653.50" width="4.80" height="4.80" fill="#7a7a7a"/>
<rect x="208.00" y="657.10" width="4.80" height="4.80" fill="#7a7a7a"/>
<rect x="209.00" y="659.60" width="4.80" height="4.80" fill="#7a7a7a"/>
<circle cx="221.40" cy="671.20" r="2.40" fill="#f23b3b"/>
<circle cx="226.00" cy="670.50" r="2.40" fill="#f23b3b"/>
<circle cx="223.70" cy="672.30" r="2.40" fill="#f23b3b"/>
<rect x="231.20" y="672.40" width="4.80" height="4.80" fill="#9a0fe0"/>
<rect x="235.80" y="671.40" width="4.80" height="4.80" fill="#9a0fe0"/>
<rect x="233.50" y="673.20" width="4.80" height="4.80" fill="#9a0fe0"/>
<circle cx="246.40" cy="674.80" r="2.40" fill="#12bf7c"/>
<circle cx="251.00" cy="673.00" r="2.40" fill="#12bf7c"/>
<circle cx="248.70" cy="675.60" r="2.40" fill="#12bf7c"/>
<line x1="268.40" y1="613.00" x2="268.40" y2="630.50" stroke="#7a7a7a" stroke-width="1.2"/>
<line x1="265.90" y1="613.00" x2="270.90" y2="613.00" stroke="#7a7a7a" stroke-width="1.2"/>
<line x1="265.90" y1="630.50" x2="270.90" y2="630.50" stroke="#7a7a7a" stroke-width="1.2"/>
<line x1="264.90" y1="622.70" x2="271.90" y2="622.70" stroke="#7a7a7a" stroke-width="1.3"/>
<rect x="266.00" y="609.30" width="4.80" height="4.80" fill="#7a7a7a"/>
<rect x="265.00" y="623.40" width="4.80" height="4.80" fill="#7a7a7a"/>
<rect x="267.50" y="625.90" width="4.80" height="4.80" fill="#7a7a7a"/>
<circle cx="278.10" cy="648.80" r="2.40" fill="#f23b3b"/>
<circle cx="282.70" cy="647.50" r="2.40" fill="#f23b3b"/>
<circle cx="280.40" cy="650.00" r="2.40" fill="#f23b3b"/>
<rect x="287.90" y="662.20" width="4.80" height="4.80" fill="#9a0fe0"/>
<rect x="292.50" y="660.40" width="4.80" height="4.80" fill="#9a0fe0"/>
<rect x="290.20" y="664.20" width="4.80" height="4.80" fill="#9a0fe0"/>
<circle cx="303.10" cy="662.80" r="2.40" fill="#12bf7c"/>
<circle cx="307.70" cy="661.50" r="2.40" fill="#12bf7c"/>
<circle cx="305.40" cy="664.10" r="2.40" fill="#12bf7c"/>
<circle cx="217.30" cy="629.60" r="1.3" fill="#000"/>
<line x1="211.40" y1="637.30" x2="224.20" y2="637.30" stroke="#000" stroke-width="1.15"/>
<circle cx="218.00" cy="680.00" r="0.9" fill="#000"/>
<text x="242.80" y="648.86" font-size="8" text-anchor="middle" fill="#222" stroke="#222" stroke-width="0.22">ns</text>
<line x1="237.70" y1="656.90" x2="248.70" y2="656.90" stroke="#000" stroke-width="1.15"/>
<circle cx="271.70" cy="595.10" r="1.0" fill="#000"/>
<circle cx="275.30" cy="595.10" r="1.0" fill="#000"/>
<circle cx="278.90" cy="595.10" r="1.0" fill="#000"/>
<line x1="269.10" y1="602.30" x2="281.90" y2="602.30" stroke="#000" stroke-width="1.15"/>
<circle cx="273.70" cy="661.00" r="1.0" fill="#000"/>
<circle cx="277.30" cy="661.00" r="1.0" fill="#000"/>
<circle cx="280.90" cy="661.00" r="1.0" fill="#000"/>
<text x="299.80" y="645.86" font-size="8" text-anchor="middle" fill="#222" stroke="#222" stroke-width="0.22">ns</text>
<line x1="293.10" y1="652.60" x2="306.70" y2="652.60" stroke="#000" stroke-width="1.15"/>
<text x="342.30" y="548.50" font-size="15.5" font-weight="bold">K</text>
<line x1="383.90" y1="539.10" x2="404.40" y2="539.10" stroke="#7a7a7a" stroke-width="2"/>
<rect x="392.15" y="537.10" width="4.00" height="4.00" fill="#7a7a7a"/>
<text x="414.10" y="541.85" font-size="8" stroke="#000" stroke-width="0.22">Vehicle</text>
<line x1="383.90" y1="554.20" x2="404.40" y2="554.20" stroke="#f23b3b" stroke-width="2"/>
<circle cx="394.15" cy="554.20" r="1.90" fill="#f23b3b"/>
<text x="414.10" y="556.95" font-size="8" stroke="#000" stroke-width="0.22">iMQT_020</text>
<line x1="383.90" y1="569.50" x2="404.40" y2="569.50" stroke="#9a0fe0" stroke-width="2"/>
<rect x="392.15" y="567.50" width="4.00" height="4.00" fill="#9a0fe0"/>
<text x="414.10" y="572.25" font-size="8" stroke="#000" stroke-width="0.22">Vehicle</text>
<line x1="383.90" y1="584.60" x2="404.40" y2="584.60" stroke="#12bf7c" stroke-width="2"/>
<circle cx="394.15" cy="584.60" r="1.90" fill="#12bf7c"/>
<text x="414.10" y="587.35" font-size="8" stroke="#000" stroke-width="0.22">iMQT_020</text>
<line x1="465.20" y1="535.80" x2="465.20" y2="558.30" stroke="#000" stroke-width="2.1"/>
<text x="472.90" y="549.80" font-size="8" stroke="#000" stroke-width="0.22">WT</text>
<line x1="465.20" y1="565.70" x2="465.20" y2="588.10" stroke="#000" stroke-width="2.1"/>
<text x="472.90" y="579.65" font-size="8" stroke="#000" stroke-width="0.22">FIL/AAA</text>
<line x1="378.80" y1="597.20" x2="378.80" y2="716.60" stroke="#000" stroke-width="2"/>
<line x1="372.80" y1="598.00" x2="378.80" y2="598.00" stroke="#000" stroke-width="1.8"/>
<text x="370.60" y="600.30" font-size="6.4" text-anchor="end" fill="#a3a3a3">90</text>
<line x1="372.80" y1="634.70" x2="378.80" y2="634.70" stroke="#000" stroke-width="1.8"/>
<text x="370.60" y="637.00" font-size="6.4" text-anchor="end" fill="#a3a3a3">60</text>
<line x1="372.80" y1="673.00" x2="378.80" y2="673.00" stroke="#000" stroke-width="1.8"/>
<text x="370.60" y="675.30" font-size="6.4" text-anchor="end" fill="#a3a3a3">30</text>
<line x1="372.80" y1="710.60" x2="378.80" y2="710.60" stroke="#000" stroke-width="1.8"/>
<text x="370.60" y="712.90" font-size="6.4" text-anchor="end" fill="#a3a3a3">0</text>
<line x1="377.80" y1="710.60" x2="492.80" y2="710.60" stroke="#000" stroke-width="2"/>
<line x1="378.80" y1="710.60" x2="378.80" y2="716.60" stroke="#000" stroke-width="1.8"/>
<text x="378.80" y="725.70" font-size="6.4" text-anchor="middle" fill="#a3a3a3">0</text>
<line x1="423.80" y1="710.60" x2="423.80" y2="716.60" stroke="#000" stroke-width="1.8"/>
<text x="423.80" y="725.70" font-size="6.4" text-anchor="middle" fill="#a3a3a3">50</text>
<line x1="469.00" y1="710.60" x2="469.00" y2="716.60" stroke="#000" stroke-width="1.8"/>
<text x="469.00" y="725.70" font-size="6.4" text-anchor="middle" fill="#a3a3a3">100</text>
<text x="434.50" y="739.23" font-size="10.55" font-weight="bold" text-anchor="middle">Time (min)</text>
<text x="350.10" y="652.50" font-size="10.8" font-weight="bold" text-anchor="middle" transform="rotate(-90 350.10 652.50)">ECAR (mpH/min/10<tspan font-size="7.3" dy="-3.9">4</tspan><tspan dy="3.9">cells)</tspan></text>
<text x="396.70" y="625.95" font-size="8" text-anchor="middle" stroke="#000" stroke-width="0.22">Glc</text>
<line x1="396.70" y1="636.60" x2="396.70" y2="643.10" stroke="#555" stroke-width="1.0"/>
<path d="M392.50,642.60 L400.90,642.60 L396.70,650.00 Z" fill="#000"/>
<text x="419.70" y="606.75" font-size="8" text-anchor="middle" stroke="#000" stroke-width="0.22">Rot/AA</text>
<line x1="419.70" y1="617.40" x2="419.70" y2="624.00" stroke="#555" stroke-width="1.0"/>
<path d="M415.50,623.50 L423.90,623.50 L419.70,630.90 Z" fill="#000"/>
<text x="446.00" y="618.85" font-size="8" text-anchor="middle" stroke="#000" stroke-width="0.22">2-DG</text>
<line x1="446.00" y1="630.20" x2="446.00" y2="637.30" stroke="#555" stroke-width="1.0"/>
<path d="M441.80,636.80 L450.20,636.80 L446.00,644.20 Z" fill="#000"/>
<line x1="378.90" y1="686.10" x2="378.90" y2="692.10" stroke="#12bf7c" stroke-width="1.1"/>
<line x1="377.10" y1="686.10" x2="380.70" y2="686.10" stroke="#12bf7c" stroke-width="1.1"/>
<line x1="377.10" y1="692.10" x2="380.70" y2="692.10" stroke="#12bf7c" stroke-width="1.1"/>
<line x1="387.30" y1="686.60" x2="387.30" y2="692.60" stroke="#12bf7c" stroke-width="1.1"/>
<line x1="385.50" y1="686.60" x2="389.10" y2="686.60" stroke="#12bf7c" stroke-width="1.1"/>
<line x1="385.50" y1="692.60" x2="389.10" y2="692.60" stroke="#12bf7c" stroke-width="1.1"/>
<line x1="395.10" y1="686.60" x2="395.10" y2="692.60" stroke="#12bf7c" stroke-width="1.1"/>
<line x1="393.30" y1="686.60" x2="396.90" y2="686.60" stroke="#12bf7c" stroke-width="1.1"/>
<line x1="393.30" y1="692.60" x2="396.90" y2="692.60" stroke="#12bf7c" stroke-width="1.1"/>
<line x1="403.00" y1="673.90" x2="403.00" y2="679.90" stroke="#12bf7c" stroke-width="1.1"/>
<line x1="401.20" y1="673.90" x2="404.80" y2="673.90" stroke="#12bf7c" stroke-width="1.1"/>
<line x1="401.20" y1="679.90" x2="404.80" y2="679.90" stroke="#12bf7c" stroke-width="1.1"/>
<line x1="410.90" y1="674.40" x2="410.90" y2="680.40" stroke="#12bf7c" stroke-width="1.1"/>
<line x1="409.10" y1="674.40" x2="412.70" y2="674.40" stroke="#12bf7c" stroke-width="1.1"/>
<line x1="409.10" y1="680.40" x2="412.70" y2="680.40" stroke="#12bf7c" stroke-width="1.1"/>
<line x1="418.40" y1="675.10" x2="418.40" y2="681.10" stroke="#12bf7c" stroke-width="1.1"/>
<line x1="416.60" y1="675.10" x2="420.20" y2="675.10" stroke="#12bf7c" stroke-width="1.1"/>
<line x1="416.60" y1="681.10" x2="420.20" y2="681.10" stroke="#12bf7c" stroke-width="1.1"/>
<line x1="426.20" y1="654.00" x2="426.20" y2="665.00" stroke="#12bf7c" stroke-width="1.1"/>
<line x1="424.40" y1="654.00" x2="428.00" y2="654.00" stroke="#12bf7c" stroke-width="1.1"/>
<line x1="424.40" y1="665.00" x2="428.00" y2="665.00" stroke="#12bf7c" stroke-width="1.1"/>
<line x1="434.20" y1="654.80" x2="434.20" y2="665.80" stroke="#12bf7c" stroke-width="1.1"/>
<line x1="432.40" y1="654.80" x2="436.00" y2="654.80" stroke="#12bf7c" stroke-width="1.1"/>
<line x1="432.40" y1="665.80" x2="436.00" y2="665.80" stroke="#12bf7c" stroke-width="1.1"/>
<line x1="441.90" y1="654.80" x2="441.90" y2="665.80" stroke="#12bf7c" stroke-width="1.1"/>
<line x1="440.10" y1="654.80" x2="443.70" y2="654.80" stroke="#12bf7c" stroke-width="1.1"/>
<line x1="440.10" y1="665.80" x2="443.70" y2="665.80" stroke="#12bf7c" stroke-width="1.1"/>
<line x1="450.00" y1="692.20" x2="450.00" y2="696.20" stroke="#12bf7c" stroke-width="1.1"/>
<line x1="448.20" y1="692.20" x2="451.80" y2="692.20" stroke="#12bf7c" stroke-width="1.1"/>
<line x1="448.20" y1="696.20" x2="451.80" y2="696.20" stroke="#12bf7c" stroke-width="1.1"/>
<line x1="457.70" y1="692.80" x2="457.70" y2="696.80" stroke="#12bf7c" stroke-width="1.1"/>
<line x1="455.90" y1="692.80" x2="459.50" y2="692.80" stroke="#12bf7c" stroke-width="1.1"/>
<line x1="455.90" y1="696.80" x2="459.50" y2="696.80" stroke="#12bf7c" stroke-width="1.1"/>
<line x1="465.20" y1="693.30" x2="465.20" y2="697.30" stroke="#12bf7c" stroke-width="1.1"/>
<line x1="463.40" y1="693.30" x2="467.00" y2="693.30" stroke="#12bf7c" stroke-width="1.1"/>
<line x1="463.40" y1="697.30" x2="467.00" y2="697.30" stroke="#12bf7c" stroke-width="1.1"/>
<polyline points="378.90,689.10 387.30,689.60 395.10,689.60 403.00,676.90 410.90,677.40 418.40,678.10 426.20,659.50 434.20,660.30 441.90,660.30 450.00,694.20 457.70,694.80 465.20,695.30" fill="none" stroke="#12bf7c" stroke-width="2" stroke-linejoin="round"/>
<circle cx="378.90" cy="689.10" r="1.85" fill="#12bf7c"/>
<circle cx="387.30" cy="689.60" r="1.85" fill="#12bf7c"/>
<circle cx="395.10" cy="689.60" r="1.85" fill="#12bf7c"/>
<circle cx="403.00" cy="676.90" r="1.85" fill="#12bf7c"/>
<circle cx="410.90" cy="677.40" r="1.85" fill="#12bf7c"/>
<circle cx="418.40" cy="678.10" r="1.85" fill="#12bf7c"/>
<circle cx="426.20" cy="659.50" r="1.85" fill="#12bf7c"/>
<circle cx="434.20" cy="660.30" r="1.85" fill="#12bf7c"/>
<circle cx="441.90" cy="660.30" r="1.85" fill="#12bf7c"/>
<circle cx="450.00" cy="694.20" r="1.85" fill="#12bf7c"/>
<circle cx="457.70" cy="694.80" r="1.85" fill="#12bf7c"/>
<circle cx="465.20" cy="695.30" r="1.85" fill="#12bf7c"/>
<line x1="378.90" y1="690.80" x2="378.90" y2="698.80" stroke="#9a0fe0" stroke-width="1.1"/>
<line x1="377.10" y1="690.80" x2="380.70" y2="690.80" stroke="#9a0fe0" stroke-width="1.1"/>
<line x1="377.10" y1="698.80" x2="380.70" y2="698.80" stroke="#9a0fe0" stroke-width="1.1"/>
<line x1="387.30" y1="690.80" x2="387.30" y2="698.80" stroke="#9a0fe0" stroke-width="1.1"/>
<line x1="385.50" y1="690.80" x2="389.10" y2="690.80" stroke="#9a0fe0" stroke-width="1.1"/>
<line x1="385.50" y1="698.80" x2="389.10" y2="698.80" stroke="#9a0fe0" stroke-width="1.1"/>
<line x1="395.10" y1="690.80" x2="395.10" y2="698.80" stroke="#9a0fe0" stroke-width="1.1"/>
<line x1="393.30" y1="690.80" x2="396.90" y2="690.80" stroke="#9a0fe0" stroke-width="1.1"/>
<line x1="393.30" y1="698.80" x2="396.90" y2="698.80" stroke="#9a0fe0" stroke-width="1.1"/>
<line x1="403.00" y1="674.40" x2="403.00" y2="683.40" stroke="#9a0fe0" stroke-width="1.1"/>
<line x1="401.20" y1="674.40" x2="404.80" y2="674.40" stroke="#9a0fe0" stroke-width="1.1"/>
<line x1="401.20" y1="683.40" x2="404.80" y2="683.40" stroke="#9a0fe0" stroke-width="1.1"/>
<line x1="410.90" y1="675.40" x2="410.90" y2="684.40" stroke="#9a0fe0" stroke-width="1.1"/>
<line x1="409.10" y1="675.40" x2="412.70" y2="675.40" stroke="#9a0fe0" stroke-width="1.1"/>
<line x1="409.10" y1="684.40" x2="412.70" y2="684.40" stroke="#9a0fe0" stroke-width="1.1"/>
<line x1="418.40" y1="676.20" x2="418.40" y2="685.20" stroke="#9a0fe0" stroke-width="1.1"/>
<line x1="416.60" y1="676.20" x2="420.20" y2="676.20" stroke="#9a0fe0" stroke-width="1.1"/>
<line x1="416.60" y1="685.20" x2="420.20" y2="685.20" stroke="#9a0fe0" stroke-width="1.1"/>
<line x1="426.20" y1="658.10" x2="426.20" y2="670.10" stroke="#9a0fe0" stroke-width="1.1"/>
<line x1="424.40" y1="658.10" x2="428.00" y2="658.10" stroke="#9a0fe0" stroke-width="1.1"/>
<line x1="424.40" y1="670.10" x2="428.00" y2="670.10" stroke="#9a0fe0" stroke-width="1.1"/>
<line x1="434.20" y1="658.60" x2="434.20" y2="670.60" stroke="#9a0fe0" stroke-width="1.1"/>
<line x1="432.40" y1="658.60" x2="436.00" y2="658.60" stroke="#9a0fe0" stroke-width="1.1"/>
<line x1="432.40" y1="670.60" x2="436.00" y2="670.60" stroke="#9a0fe0" stroke-width="1.1"/>
<line x1="441.90" y1="658.60" x2="441.90" y2="670.60" stroke="#9a0fe0" stroke-width="1.1"/>
<line x1="440.10" y1="658.60" x2="443.70" y2="658.60" stroke="#9a0fe0" stroke-width="1.1"/>
<line x1="440.10" y1="670.60" x2="443.70" y2="670.60" stroke="#9a0fe0" stroke-width="1.1"/>
<line x1="450.00" y1="691.20" x2="450.00" y2="697.20" stroke="#9a0fe0" stroke-width="1.1"/>
<line x1="448.20" y1="691.20" x2="451.80" y2="691.20" stroke="#9a0fe0" stroke-width="1.1"/>
<line x1="448.20" y1="697.20" x2="451.80" y2="697.20" stroke="#9a0fe0" stroke-width="1.1"/>
<line x1="457.70" y1="691.80" x2="457.70" y2="697.80" stroke="#9a0fe0" stroke-width="1.1"/>
<line x1="455.90" y1="691.80" x2="459.50" y2="691.80" stroke="#9a0fe0" stroke-width="1.1"/>
<line x1="455.90" y1="697.80" x2="459.50" y2="697.80" stroke="#9a0fe0" stroke-width="1.1"/>
<line x1="465.20" y1="691.80" x2="465.20" y2="697.80" stroke="#9a0fe0" stroke-width="1.1"/>
<line x1="463.40" y1="691.80" x2="467.00" y2="691.80" stroke="#9a0fe0" stroke-width="1.1"/>
<line x1="463.40" y1="697.80" x2="467.00" y2="697.80" stroke="#9a0fe0" stroke-width="1.1"/>
<polyline points="378.90,694.80 387.30,694.80 395.10,694.80 403.00,678.90 410.90,679.90 418.40,680.70 426.20,664.10 434.20,664.60 441.90,664.60 450.00,694.20 457.70,694.80 465.20,694.80" fill="none" stroke="#9a0fe0" stroke-width="2" stroke-linejoin="round"/>
<rect x="376.90" y="692.80" width="4.00" height="4.00" fill="#9a0fe0"/>
<rect x="385.30" y="692.80" width="4.00" height="4.00" fill="#9a0fe0"/>
<rect x="393.10" y="692.80" width="4.00" height="4.00" fill="#9a0fe0"/>
<rect x="401.00" y="676.90" width="4.00" height="4.00" fill="#9a0fe0"/>
<rect x="408.90" y="677.90" width="4.00" height="4.00" fill="#9a0fe0"/>
<rect x="416.40" y="678.70" width="4.00" height="4.00" fill="#9a0fe0"/>
<rect x="424.20" y="662.10" width="4.00" height="4.00" fill="#9a0fe0"/>
<rect x="432.20" y="662.60" width="4.00" height="4.00" fill="#9a0fe0"/>
<rect x="439.90" y="662.60" width="4.00" height="4.00" fill="#9a0fe0"/>
<rect x="448.00" y="692.20" width="4.00" height="4.00" fill="#9a0fe0"/>
<rect x="455.70" y="692.80" width="4.00" height="4.00" fill="#9a0fe0"/>
<rect x="463.20" y="692.80" width="4.00" height="4.00" fill="#9a0fe0"/>
<line x1="378.90" y1="685.10" x2="378.90" y2="689.10" stroke="#f23b3b" stroke-width="1.1"/>
<line x1="377.10" y1="685.10" x2="380.70" y2="685.10" stroke="#f23b3b" stroke-width="1.1"/>
<line x1="377.10" y1="689.10" x2="380.70" y2="689.10" stroke="#f23b3b" stroke-width="1.1"/>
<line x1="387.30" y1="685.60" x2="387.30" y2="689.60" stroke="#f23b3b" stroke-width="1.1"/>
<line x1="385.50" y1="685.60" x2="389.10" y2="685.60" stroke="#f23b3b" stroke-width="1.1"/>
<line x1="385.50" y1="689.60" x2="389.10" y2="689.60" stroke="#f23b3b" stroke-width="1.1"/>
<line x1="395.10" y1="685.60" x2="395.10" y2="689.60" stroke="#f23b3b" stroke-width="1.1"/>
<line x1="393.30" y1="685.60" x2="396.90" y2="685.60" stroke="#f23b3b" stroke-width="1.1"/>
<line x1="393.30" y1="689.60" x2="396.90" y2="689.60" stroke="#f23b3b" stroke-width="1.1"/>
<line x1="403.00" y1="666.20" x2="403.00" y2="676.20" stroke="#f23b3b" stroke-width="1.1"/>
<line x1="401.20" y1="666.20" x2="404.80" y2="666.20" stroke="#f23b3b" stroke-width="1.1"/>
<line x1="401.20" y1="676.20" x2="404.80" y2="676.20" stroke="#f23b3b" stroke-width="1.1"/>
<line x1="410.90" y1="656.60" x2="410.90" y2="676.60" stroke="#f23b3b" stroke-width="1.1"/>
<line x1="409.10" y1="656.60" x2="412.70" y2="656.60" stroke="#f23b3b" stroke-width="1.1"/>
<line x1="409.10" y1="676.60" x2="412.70" y2="676.60" stroke="#f23b3b" stroke-width="1.1"/>
<line x1="418.40" y1="654.60" x2="418.40" y2="674.60" stroke="#f23b3b" stroke-width="1.1"/>
<line x1="416.60" y1="654.60" x2="420.20" y2="654.60" stroke="#f23b3b" stroke-width="1.1"/>
<line x1="416.60" y1="674.60" x2="420.20" y2="674.60" stroke="#f23b3b" stroke-width="1.1"/>
<line x1="426.20" y1="640.90" x2="426.20" y2="648.90" stroke="#f23b3b" stroke-width="1.1"/>
<line x1="424.40" y1="640.90" x2="428.00" y2="640.90" stroke="#f23b3b" stroke-width="1.1"/>
<line x1="424.40" y1="648.90" x2="428.00" y2="648.90" stroke="#f23b3b" stroke-width="1.1"/>
<line x1="434.20" y1="642.70" x2="434.20" y2="650.70" stroke="#f23b3b" stroke-width="1.1"/>
<line x1="432.40" y1="642.70" x2="436.00" y2="642.70" stroke="#f23b3b" stroke-width="1.1"/>
<line x1="432.40" y1="650.70" x2="436.00" y2="650.70" stroke="#f23b3b" stroke-width="1.1"/>
<line x1="441.90" y1="642.70" x2="441.90" y2="650.70" stroke="#f23b3b" stroke-width="1.1"/>
<line x1="440.10" y1="642.70" x2="443.70" y2="642.70" stroke="#f23b3b" stroke-width="1.1"/>
<line x1="440.10" y1="650.70" x2="443.70" y2="650.70" stroke="#f23b3b" stroke-width="1.1"/>
<line x1="450.00" y1="681.50" x2="450.00" y2="687.50" stroke="#f23b3b" stroke-width="1.1"/>
<line x1="448.20" y1="681.50" x2="451.80" y2="681.50" stroke="#f23b3b" stroke-width="1.1"/>
<line x1="448.20" y1="687.50" x2="451.80" y2="687.50" stroke="#f23b3b" stroke-width="1.1"/>
<line x1="457.70" y1="682.80" x2="457.70" y2="688.80" stroke="#f23b3b" stroke-width="1.1"/>
<line x1="455.90" y1="682.80" x2="459.50" y2="682.80" stroke="#f23b3b" stroke-width="1.1"/>
<line x1="455.90" y1="688.80" x2="459.50" y2="688.80" stroke="#f23b3b" stroke-width="1.1"/>
<line x1="465.20" y1="684.10" x2="465.20" y2="690.10" stroke="#f23b3b" stroke-width="1.1"/>
<line x1="463.40" y1="684.10" x2="467.00" y2="684.10" stroke="#f23b3b" stroke-width="1.1"/>
<line x1="463.40" y1="690.10" x2="467.00" y2="690.10" stroke="#f23b3b" stroke-width="1.1"/>
<polyline points="378.90,687.10 387.30,687.60 395.10,687.60 403.00,671.20 410.90,666.60 418.40,664.60 426.20,644.90 434.20,646.70 441.90,646.70 450.00,684.50 457.70,685.80 465.20,687.10" fill="none" stroke="#f23b3b" stroke-width="2" stroke-linejoin="round"/>
<circle cx="378.90" cy="687.10" r="1.85" fill="#f23b3b"/>
<circle cx="387.30" cy="687.60" r="1.85" fill="#f23b3b"/>
<circle cx="395.10" cy="687.60" r="1.85" fill="#f23b3b"/>
<circle cx="403.00" cy="671.20" r="1.85" fill="#f23b3b"/>
<circle cx="410.90" cy="666.60" r="1.85" fill="#f23b3b"/>
<circle cx="418.40" cy="664.60" r="1.85" fill="#f23b3b"/>
<circle cx="426.20" cy="644.90" r="1.85" fill="#f23b3b"/>
<circle cx="434.20" cy="646.70" r="1.85" fill="#f23b3b"/>
<circle cx="441.90" cy="646.70" r="1.85" fill="#f23b3b"/>
<circle cx="450.00" cy="684.50" r="1.85" fill="#f23b3b"/>
<circle cx="457.70" cy="685.80" r="1.85" fill="#f23b3b"/>
<circle cx="465.20" cy="687.10" r="1.85" fill="#f23b3b"/>
<line x1="378.90" y1="679.00" x2="378.90" y2="684.00" stroke="#7a7a7a" stroke-width="1.1"/>
<line x1="377.10" y1="679.00" x2="380.70" y2="679.00" stroke="#7a7a7a" stroke-width="1.1"/>
<line x1="377.10" y1="684.00" x2="380.70" y2="684.00" stroke="#7a7a7a" stroke-width="1.1"/>
<line x1="387.30" y1="679.00" x2="387.30" y2="684.00" stroke="#7a7a7a" stroke-width="1.1"/>
<line x1="385.50" y1="679.00" x2="389.10" y2="679.00" stroke="#7a7a7a" stroke-width="1.1"/>
<line x1="385.50" y1="684.00" x2="389.10" y2="684.00" stroke="#7a7a7a" stroke-width="1.1"/>
<line x1="395.10" y1="679.00" x2="395.10" y2="684.00" stroke="#7a7a7a" stroke-width="1.1"/>
<line x1="393.30" y1="679.00" x2="396.90" y2="679.00" stroke="#7a7a7a" stroke-width="1.1"/>
<line x1="393.30" y1="684.00" x2="396.90" y2="684.00" stroke="#7a7a7a" stroke-width="1.1"/>
<line x1="403.00" y1="649.40" x2="403.00" y2="658.40" stroke="#7a7a7a" stroke-width="1.1"/>
<line x1="401.20" y1="649.40" x2="404.80" y2="649.40" stroke="#7a7a7a" stroke-width="1.1"/>
<line x1="401.20" y1="658.40" x2="404.80" y2="658.40" stroke="#7a7a7a" stroke-width="1.1"/>
<line x1="410.90" y1="650.30" x2="410.90" y2="653.30" stroke="#7a7a7a" stroke-width="1.1"/>
<line x1="409.10" y1="650.30" x2="412.70" y2="650.30" stroke="#7a7a7a" stroke-width="1.1"/>
<line x1="409.10" y1="653.30" x2="412.70" y2="653.30" stroke="#7a7a7a" stroke-width="1.1"/>
<line x1="418.40" y1="649.30" x2="418.40" y2="652.30" stroke="#7a7a7a" stroke-width="1.1"/>
<line x1="416.60" y1="649.30" x2="420.20" y2="649.30" stroke="#7a7a7a" stroke-width="1.1"/>
<line x1="416.60" y1="652.30" x2="420.20" y2="652.30" stroke="#7a7a7a" stroke-width="1.1"/>
<line x1="426.20" y1="629.40" x2="426.20" y2="638.40" stroke="#7a7a7a" stroke-width="1.1"/>
<line x1="424.40" y1="629.40" x2="428.00" y2="629.40" stroke="#7a7a7a" stroke-width="1.1"/>
<line x1="424.40" y1="638.40" x2="428.00" y2="638.40" stroke="#7a7a7a" stroke-width="1.1"/>
<line x1="434.20" y1="629.40" x2="434.20" y2="638.40" stroke="#7a7a7a" stroke-width="1.1"/>
<line x1="432.40" y1="629.40" x2="436.00" y2="629.40" stroke="#7a7a7a" stroke-width="1.1"/>
<line x1="432.40" y1="638.40" x2="436.00" y2="638.40" stroke="#7a7a7a" stroke-width="1.1"/>
<line x1="441.90" y1="629.40" x2="441.90" y2="638.40" stroke="#7a7a7a" stroke-width="1.1"/>
<line x1="440.10" y1="629.40" x2="443.70" y2="629.40" stroke="#7a7a7a" stroke-width="1.1"/>
<line x1="440.10" y1="638.40" x2="443.70" y2="638.40" stroke="#7a7a7a" stroke-width="1.1"/>
<line x1="450.00" y1="697.40" x2="450.00" y2="701.40" stroke="#7a7a7a" stroke-width="1.1"/>
<line x1="448.20" y1="697.40" x2="451.80" y2="697.40" stroke="#7a7a7a" stroke-width="1.1"/>
<line x1="448.20" y1="701.40" x2="451.80" y2="701.40" stroke="#7a7a7a" stroke-width="1.1"/>
<line x1="457.70" y1="698.40" x2="457.70" y2="702.40" stroke="#7a7a7a" stroke-width="1.1"/>
<line x1="455.90" y1="698.40" x2="459.50" y2="698.40" stroke="#7a7a7a" stroke-width="1.1"/>
<line x1="455.90" y1="702.40" x2="459.50" y2="702.40" stroke="#7a7a7a" stroke-width="1.1"/>
<line x1="465.20" y1="699.10" x2="465.20" y2="703.10" stroke="#7a7a7a" stroke-width="1.1"/>
<line x1="463.40" y1="699.10" x2="467.00" y2="699.10" stroke="#7a7a7a" stroke-width="1.1"/>
<line x1="463.40" y1="703.10" x2="467.00" y2="703.10" stroke="#7a7a7a" stroke-width="1.1"/>
<polyline points="378.90,681.50 387.30,681.50 395.10,681.50 403.00,653.90 410.90,651.80 418.40,650.80 426.20,633.90 434.20,633.90 441.90,633.90 450.00,699.40 457.70,700.40 465.20,701.10" fill="none" stroke="#7a7a7a" stroke-width="2" stroke-linejoin="round"/>
<rect x="376.90" y="679.50" width="4.00" height="4.00" fill="#7a7a7a"/>
<rect x="385.30" y="679.50" width="4.00" height="4.00" fill="#7a7a7a"/>
<rect x="393.10" y="679.50" width="4.00" height="4.00" fill="#7a7a7a"/>
<rect x="401.00" y="651.90" width="4.00" height="4.00" fill="#7a7a7a"/>
<rect x="408.90" y="649.80" width="4.00" height="4.00" fill="#7a7a7a"/>
<rect x="416.40" y="648.80" width="4.00" height="4.00" fill="#7a7a7a"/>
<rect x="424.20" y="631.90" width="4.00" height="4.00" fill="#7a7a7a"/>
<rect x="432.20" y="631.90" width="4.00" height="4.00" fill="#7a7a7a"/>
<rect x="439.90" y="631.90" width="4.00" height="4.00" fill="#7a7a7a"/>
<rect x="448.00" y="697.40" width="4.00" height="4.00" fill="#7a7a7a"/>
<rect x="455.70" y="698.40" width="4.00" height="4.00" fill="#7a7a7a"/>
<rect x="463.20" y="699.10" width="4.00" height="4.00" fill="#7a7a7a"/>
<text x="513.40" y="548.50" font-size="15.5" font-weight="bold">L</text>
<rect x="545.30" y="537.60" width="4.00" height="4.00" fill="#7a7a7a"/>
<text x="557.30" y="542.35" font-size="8" stroke="#000" stroke-width="0.22">Vehicle</text>
<circle cx="547.30" cy="554.70" r="2.05" fill="#f23b3b"/>
<text x="557.30" y="557.45" font-size="8" stroke="#000" stroke-width="0.22">iMQT_020</text>
<rect x="545.30" y="567.70" width="4.00" height="4.00" fill="#9a0fe0"/>
<text x="557.30" y="572.45" font-size="8" stroke="#000" stroke-width="0.22">Vehicle</text>
<circle cx="547.30" cy="585.10" r="2.05" fill="#12bf7c"/>
<text x="557.30" y="587.85" font-size="8" stroke="#000" stroke-width="0.22">iMQT_020</text>
<line x1="609.60" y1="537.00" x2="609.60" y2="559.50" stroke="#000" stroke-width="2.1"/>
<text x="617.30" y="551.00" font-size="8" stroke="#000" stroke-width="0.22">WT</text>
<line x1="609.60" y1="566.90" x2="609.60" y2="589.40" stroke="#000" stroke-width="2.1"/>
<text x="617.30" y="580.90" font-size="8" stroke="#000" stroke-width="0.22">FIL/AAA</text>
<line x1="542.50" y1="597.20" x2="542.50" y2="711.60" stroke="#000" stroke-width="2"/>
<line x1="536.50" y1="598.00" x2="542.50" y2="598.00" stroke="#000" stroke-width="1.8"/>
<text x="534.30" y="600.30" font-size="6.4" text-anchor="end" fill="#a3a3a3">90</text>
<line x1="536.50" y1="634.70" x2="542.50" y2="634.70" stroke="#000" stroke-width="1.8"/>
<text x="534.30" y="637.00" font-size="6.4" text-anchor="end" fill="#a3a3a3">60</text>
<line x1="536.50" y1="672.50" x2="542.50" y2="672.50" stroke="#000" stroke-width="1.8"/>
<text x="534.30" y="674.80" font-size="6.4" text-anchor="end" fill="#a3a3a3">30</text>
<line x1="536.50" y1="710.60" x2="542.50" y2="710.60" stroke="#000" stroke-width="1.8"/>
<text x="534.30" y="712.90" font-size="6.4" text-anchor="end" fill="#a3a3a3">0</text>
<line x1="541.50" y1="710.60" x2="656.90" y2="710.60" stroke="#000" stroke-width="2"/>
<line x1="570.80" y1="710.60" x2="570.80" y2="716.40" stroke="#000" stroke-width="1.8"/>
<line x1="628.00" y1="710.60" x2="628.00" y2="716.40" stroke="#000" stroke-width="1.8"/>
<line x1="547.00" y1="720.30" x2="594.30" y2="720.30" stroke="#000" stroke-width="2"/>
<line x1="604.00" y1="720.30" x2="651.80" y2="720.30" stroke="#000" stroke-width="2"/>
<text x="570.80" y="735.41" font-size="10.5" font-weight="bold" text-anchor="middle">Basal</text>
<text x="628.00" y="735.41" font-size="10.5" font-weight="bold" text-anchor="middle">Rot/AA</text>
<text x="515.30" y="651.00" font-size="10.8" font-weight="bold" text-anchor="middle" transform="rotate(-90 515.30 651.00)">ECAR (mpH/min/10<tspan font-size="7.3" dy="-3.9">4</tspan><tspan dy="3.9">cells)</tspan></text>
<rect x="548.30" y="648.40" width="4.80" height="4.80" fill="#7a7a7a"/>
<rect x="551.30" y="650.20" width="4.80" height="4.80" fill="#7a7a7a"/>
<rect x="549.80" y="652.00" width="4.80" height="4.80" fill="#7a7a7a"/>
<line x1="564.90" y1="663.00" x2="564.90" y2="680.00" stroke="#f23b3b" stroke-width="1.2"/>
<line x1="562.40" y1="663.00" x2="567.40" y2="663.00" stroke="#f23b3b" stroke-width="1.2"/>
<line x1="562.40" y1="680.00" x2="567.40" y2="680.00" stroke="#f23b3b" stroke-width="1.2"/>
<line x1="561.40" y1="671.20" x2="568.40" y2="671.20" stroke="#f23b3b" stroke-width="1.3"/>
<circle cx="563.40" cy="665.40" r="2.40" fill="#f23b3b"/>
<circle cx="566.40" cy="666.60" r="2.40" fill="#f23b3b"/>
<circle cx="564.90" cy="681.50" r="2.40" fill="#f23b3b"/>
<rect x="573.00" y="689.30" width="4.80" height="4.80" fill="#9a0fe0"/>
<rect x="576.00" y="691.10" width="4.80" height="4.80" fill="#9a0fe0"/>
<rect x="574.50" y="698.00" width="4.80" height="4.80" fill="#9a0fe0"/>
<circle cx="587.70" cy="687.10" r="2.40" fill="#12bf7c"/>
<circle cx="590.70" cy="689.10" r="2.40" fill="#12bf7c"/>
<circle cx="589.20" cy="692.70" r="2.40" fill="#12bf7c"/>
<line x1="609.10" y1="628.30" x2="609.10" y2="639.80" stroke="#7a7a7a" stroke-width="1.2"/>
<line x1="606.60" y1="628.30" x2="611.60" y2="628.30" stroke="#7a7a7a" stroke-width="1.2"/>
<line x1="606.60" y1="639.80" x2="611.60" y2="639.80" stroke="#7a7a7a" stroke-width="1.2"/>
<line x1="605.60" y1="633.90" x2="612.60" y2="633.90" stroke="#7a7a7a" stroke-width="1.3"/>
<rect x="606.70" y="625.90" width="4.80" height="4.80" fill="#7a7a7a"/>
<rect x="605.70" y="631.50" width="4.80" height="4.80" fill="#7a7a7a"/>
<rect x="606.70" y="637.40" width="4.80" height="4.80" fill="#7a7a7a"/>
<circle cx="621.10" cy="642.40" r="2.40" fill="#f23b3b"/>
<circle cx="619.60" cy="648.30" r="2.40" fill="#f23b3b"/>
<circle cx="622.60" cy="650.00" r="2.40" fill="#f23b3b"/>
<line x1="633.90" y1="659.00" x2="633.90" y2="673.00" stroke="#9a0fe0" stroke-width="1.2"/>
<line x1="631.40" y1="659.00" x2="636.40" y2="659.00" stroke="#9a0fe0" stroke-width="1.2"/>
<line x1="631.40" y1="673.00" x2="636.40" y2="673.00" stroke="#9a0fe0" stroke-width="1.2"/>
<line x1="630.40" y1="665.40" x2="637.40" y2="665.40" stroke="#9a0fe0" stroke-width="1.3"/>
<rect x="631.50" y="656.60" width="4.80" height="4.80" fill="#9a0fe0"/>
<rect x="631.50" y="663.00" width="4.80" height="4.80" fill="#9a0fe0"/>
<rect x="631.50" y="670.60" width="4.80" height="4.80" fill="#9a0fe0"/>
<circle cx="646.70" cy="658.50" r="2.40" fill="#12bf7c"/>
<circle cx="645.20" cy="661.50" r="2.40" fill="#12bf7c"/>
<circle cx="648.20" cy="663.60" r="2.40" fill="#12bf7c"/>
<circle cx="558.00" cy="635.50" r="1.3" fill="#000"/>
<line x1="552.20" y1="643.10" x2="564.90" y2="643.10" stroke="#000" stroke-width="1.15"/>
<circle cx="559.00" cy="682.50" r="0.9" fill="#000"/>
<text x="582.80" y="669.92" font-size="7.5" text-anchor="middle" fill="#8a8a8a" stroke="#8a8a8a" stroke-width="0.22">ns</text>
<line x1="576.90" y1="678.10" x2="589.20" y2="678.10" stroke="#000" stroke-width="1.15"/>
<circle cx="614.00" cy="608.40" r="1.3" fill="#000"/>
<circle cx="618.00" cy="608.40" r="1.3" fill="#000"/>
<line x1="609.60" y1="616.10" x2="622.40" y2="616.10" stroke="#000" stroke-width="1.15"/>
<circle cx="614.60" cy="662.30" r="1.3" fill="#000"/>
<circle cx="618.60" cy="662.30" r="1.3" fill="#000"/>
<circle cx="622.60" cy="662.30" r="1.3" fill="#000"/>
<text x="640.30" y="634.92" font-size="7.5" text-anchor="middle" fill="#8a8a8a" stroke="#8a8a8a" stroke-width="0.22">ns</text>
<line x1="633.90" y1="642.40" x2="646.70" y2="642.40" stroke="#000" stroke-width="1.15"/>
<text x="0.70" y="781.50" font-size="15.5" font-weight="bold">M</text>
<text x="29.00" y="779.60" font-size="8.2" stroke="#000" stroke-width="0.22" transform="rotate(-45 29.00 779.60)">Vehicle</text>
<text x="53.30" y="778.60" font-size="8.2" stroke="#000" stroke-width="0.22" transform="rotate(-45 53.30 778.60)">iMQT_020</text>
<line x1="20.20" y1="785.00" x2="40.80" y2="785.00" stroke="#c8146e" stroke-width="2"/>
<rect x="28.50" y="783.00" width="4.00" height="4.00" fill="#c8146e"/>
<line x1="44.40" y1="785.00" x2="64.90" y2="785.00" stroke="#333333" stroke-width="2"/>
<circle cx="54.70" cy="785.00" r="1.85" fill="#333333"/>
<text x="76.10" y="787.75" font-size="8" stroke="#000" stroke-width="0.22">siCon</text>
<line x1="20.20" y1="799.00" x2="40.80" y2="799.00" stroke="#7a7a7a" stroke-width="2"/>
<rect x="28.50" y="797.00" width="4.00" height="4.00" fill="#7a7a7a"/>
<line x1="44.40" y1="799.00" x2="64.90" y2="799.00" stroke="#f23b3b" stroke-width="2"/>
<circle cx="54.70" cy="799.00" r="1.85" fill="#f23b3b"/>
<text x="76.10" y="801.75" font-size="8" stroke="#000" stroke-width="0.22">siSLC1A5_var + Con</text>
<line x1="20.20" y1="812.80" x2="40.80" y2="812.80" stroke="#9a0fe0" stroke-width="2"/>
<rect x="28.50" y="810.80" width="4.00" height="4.00" fill="#9a0fe0"/>
<line x1="44.40" y1="812.80" x2="64.90" y2="812.80" stroke="#12bf7c" stroke-width="2"/>
<circle cx="54.70" cy="812.80" r="1.85" fill="#12bf7c"/>
<text x="76.10" y="815.55" font-size="8" stroke="#000" stroke-width="0.22">siSLC1A5_var + WT</text>
<line x1="20.20" y1="826.90" x2="40.80" y2="826.90" stroke="#c4925a" stroke-width="2"/>
<rect x="28.50" y="824.90" width="4.00" height="4.00" fill="#c4925a"/>
<line x1="44.40" y1="826.90" x2="64.90" y2="826.90" stroke="#ff5c0a" stroke-width="2"/>
<circle cx="54.70" cy="826.90" r="1.85" fill="#ff5c0a"/>
<text x="76.10" y="829.65" font-size="8" stroke="#000" stroke-width="0.22">siSLC1A5_var + FIL/AAA</text>
<line x1="38.60" y1="846.60" x2="38.60" y2="966.30" stroke="#000" stroke-width="2"/>
<line x1="32.60" y1="847.40" x2="38.60" y2="847.40" stroke="#000" stroke-width="1.8"/>
<text x="30.40" y="849.70" font-size="6.4" text-anchor="end" fill="#a3a3a3">150</text>
<line x1="32.60" y1="884.40" x2="38.60" y2="884.40" stroke="#000" stroke-width="1.8"/>
<text x="30.40" y="886.70" font-size="6.4" text-anchor="end" fill="#a3a3a3">100</text>
<line x1="32.60" y1="922.50" x2="38.60" y2="922.50" stroke="#000" stroke-width="1.8"/>
<text x="30.40" y="924.80" font-size="6.4" text-anchor="end" fill="#a3a3a3">50</text>
<line x1="32.60" y1="960.30" x2="38.60" y2="960.30" stroke="#000" stroke-width="1.8"/>
<text x="30.40" y="962.60" font-size="6.4" text-anchor="end" fill="#a3a3a3">0</text>
<line x1="37.60" y1="960.30" x2="152.80" y2="960.30" stroke="#000" stroke-width="2"/>
<line x1="38.60" y1="960.30" x2="38.60" y2="966.30" stroke="#000" stroke-width="1.8"/>
<text x="38.60" y="975.90" font-size="6.4" text-anchor="middle" fill="#a3a3a3">0</text>
<line x1="83.80" y1="960.30" x2="83.80" y2="966.30" stroke="#000" stroke-width="1.8"/>
<text x="83.80" y="975.90" font-size="6.4" text-anchor="middle" fill="#a3a3a3">50</text>
<line x1="129.00" y1="960.30" x2="129.00" y2="966.30" stroke="#000" stroke-width="1.8"/>
<text x="129.00" y="975.90" font-size="6.4" text-anchor="middle" fill="#a3a3a3">100</text>
<text x="97.00" y="987.00" font-size="10.75" font-weight="bold" text-anchor="middle">Time (min)</text>
<text x="8.40" y="899.00" font-size="10.8" font-weight="bold" text-anchor="middle" transform="rotate(-90 8.40 899.00)">OCR (pmol/min/<tspan font-family="Liberation Serif">&#956;</tspan>g protein)</text>
<text x="56.70" y="879.55" font-size="8" text-anchor="middle" stroke="#000" stroke-width="0.22">Gln</text>
<line x1="56.70" y1="889.90" x2="56.70" y2="896.70" stroke="#555" stroke-width="1.0"/>
<path d="M52.50,896.20 L60.90,896.20 L56.70,903.60 Z" fill="#000"/>
<text x="83.80" y="874.95" font-size="8" text-anchor="middle" stroke="#000" stroke-width="0.22">Oligo</text>
<line x1="83.80" y1="885.50" x2="83.80" y2="892.60" stroke="#555" stroke-width="1.0"/>
<path d="M79.60,892.10 L88.00,892.10 L83.80,899.50 Z" fill="#000"/>
<text x="104.20" y="852.65" font-size="8" text-anchor="middle" stroke="#000" stroke-width="0.22">FCCP</text>
<line x1="104.20" y1="865.10" x2="104.20" y2="872.20" stroke="#555" stroke-width="1.0"/>
<path d="M100.00,871.70 L108.40,871.70 L104.20,879.10 Z" fill="#000"/>
<text x="132.90" y="851.15" font-size="8" text-anchor="middle" stroke="#000" stroke-width="0.22">Rot/AA</text>
<line x1="132.90" y1="861.80" x2="132.90" y2="868.60" stroke="#555" stroke-width="1.0"/>
<path d="M128.70,868.10 L137.10,868.10 L132.90,875.50 Z" fill="#000"/>
<line x1="38.90" y1="951.10" x2="38.90" y2="953.10" stroke="#ff5c0a" stroke-width="1.1"/>
<line x1="37.10" y1="951.10" x2="40.70" y2="951.10" stroke="#ff5c0a" stroke-width="1.1"/>
<line x1="37.10" y1="953.10" x2="40.70" y2="953.10" stroke="#ff5c0a" stroke-width="1.1"/>
<line x1="47.30" y1="949.10" x2="47.30" y2="951.10" stroke="#ff5c0a" stroke-width="1.1"/>
<line x1="45.50" y1="949.10" x2="49.10" y2="949.10" stroke="#ff5c0a" stroke-width="1.1"/>
<line x1="45.50" y1="951.10" x2="49.10" y2="951.10" stroke="#ff5c0a" stroke-width="1.1"/>
<line x1="55.10" y1="948.60" x2="55.10" y2="950.60" stroke="#ff5c0a" stroke-width="1.1"/>
<line x1="53.30" y1="948.60" x2="56.90" y2="948.60" stroke="#ff5c0a" stroke-width="1.1"/>
<line x1="53.30" y1="950.60" x2="56.90" y2="950.60" stroke="#ff5c0a" stroke-width="1.1"/>
<line x1="63.00" y1="947.00" x2="63.00" y2="949.00" stroke="#ff5c0a" stroke-width="1.1"/>
<line x1="61.20" y1="947.00" x2="64.80" y2="947.00" stroke="#ff5c0a" stroke-width="1.1"/>
<line x1="61.20" y1="949.00" x2="64.80" y2="949.00" stroke="#ff5c0a" stroke-width="1.1"/>
<line x1="70.90" y1="947.00" x2="70.90" y2="949.00" stroke="#ff5c0a" stroke-width="1.1"/>
<line x1="69.10" y1="947.00" x2="72.70" y2="947.00" stroke="#ff5c0a" stroke-width="1.1"/>
<line x1="69.10" y1="949.00" x2="72.70" y2="949.00" stroke="#ff5c0a" stroke-width="1.1"/>
<line x1="78.40" y1="947.00" x2="78.40" y2="949.00" stroke="#ff5c0a" stroke-width="1.1"/>
<line x1="76.60" y1="947.00" x2="80.20" y2="947.00" stroke="#ff5c0a" stroke-width="1.1"/>
<line x1="76.60" y1="949.00" x2="80.20" y2="949.00" stroke="#ff5c0a" stroke-width="1.1"/>
<line x1="86.20" y1="952.10" x2="86.20" y2="954.10" stroke="#ff5c0a" stroke-width="1.1"/>
<line x1="84.40" y1="952.10" x2="88.00" y2="952.10" stroke="#ff5c0a" stroke-width="1.1"/>
<line x1="84.40" y1="954.10" x2="88.00" y2="954.10" stroke="#ff5c0a" stroke-width="1.1"/>
<line x1="94.20" y1="951.10" x2="94.20" y2="953.10" stroke="#ff5c0a" stroke-width="1.1"/>
<line x1="92.40" y1="951.10" x2="96.00" y2="951.10" stroke="#ff5c0a" stroke-width="1.1"/>
<line x1="92.40" y1="953.10" x2="96.00" y2="953.10" stroke="#ff5c0a" stroke-width="1.1"/>
<line x1="101.90" y1="951.10" x2="101.90" y2="953.10" stroke="#ff5c0a" stroke-width="1.1"/>
<line x1="100.10" y1="951.10" x2="103.70" y2="951.10" stroke="#ff5c0a" stroke-width="1.1"/>
<line x1="100.10" y1="953.10" x2="103.70" y2="953.10" stroke="#ff5c0a" stroke-width="1.1"/>
<line x1="110.00" y1="945.20" x2="110.00" y2="947.20" stroke="#ff5c0a" stroke-width="1.1"/>
<line x1="108.20" y1="945.20" x2="111.80" y2="945.20" stroke="#ff5c0a" stroke-width="1.1"/>
<line x1="108.20" y1="947.20" x2="111.80" y2="947.20" stroke="#ff5c0a" stroke-width="1.1"/>
<line x1="117.70" y1="945.20" x2="117.70" y2="947.20" stroke="#ff5c0a" stroke-width="1.1"/>
<line x1="115.90" y1="945.20" x2="119.50" y2="945.20" stroke="#ff5c0a" stroke-width="1.1"/>
<line x1="115.90" y1="947.20" x2="119.50" y2="947.20" stroke="#ff5c0a" stroke-width="1.1"/>
<line x1="125.20" y1="946.00" x2="125.20" y2="948.00" stroke="#ff5c0a" stroke-width="1.1"/>
<line x1="123.40" y1="946.00" x2="127.00" y2="946.00" stroke="#ff5c0a" stroke-width="1.1"/>
<line x1="123.40" y1="948.00" x2="127.00" y2="948.00" stroke="#ff5c0a" stroke-width="1.1"/>
<line x1="133.10" y1="949.10" x2="133.10" y2="951.10" stroke="#ff5c0a" stroke-width="1.1"/>
<line x1="131.30" y1="949.10" x2="134.90" y2="949.10" stroke="#ff5c0a" stroke-width="1.1"/>
<line x1="131.30" y1="951.10" x2="134.90" y2="951.10" stroke="#ff5c0a" stroke-width="1.1"/>
<line x1="141.00" y1="949.10" x2="141.00" y2="951.10" stroke="#ff5c0a" stroke-width="1.1"/>
<line x1="139.20" y1="949.10" x2="142.80" y2="949.10" stroke="#ff5c0a" stroke-width="1.1"/>
<line x1="139.20" y1="951.10" x2="142.80" y2="951.10" stroke="#ff5c0a" stroke-width="1.1"/>
<line x1="148.90" y1="949.10" x2="148.90" y2="951.10" stroke="#ff5c0a" stroke-width="1.1"/>
<line x1="147.10" y1="949.10" x2="150.70" y2="949.10" stroke="#ff5c0a" stroke-width="1.1"/>
<line x1="147.10" y1="951.10" x2="150.70" y2="951.10" stroke="#ff5c0a" stroke-width="1.1"/>
<polyline points="38.90,952.10 47.30,950.10 55.10,949.60 63.00,948.00 70.90,948.00 78.40,948.00 86.20,953.10 94.20,952.10 101.90,952.10 110.00,946.20 117.70,946.20 125.20,947.00 133.10,950.10 141.00,950.10 148.90,950.10" fill="none" stroke="#ff5c0a" stroke-width="2" stroke-linejoin="round"/>
<circle cx="38.90" cy="952.10" r="1.85" fill="#ff5c0a"/>
<circle cx="47.30" cy="950.10" r="1.85" fill="#ff5c0a"/>
<circle cx="55.10" cy="949.60" r="1.85" fill="#ff5c0a"/>
<circle cx="63.00" cy="948.00" r="1.85" fill="#ff5c0a"/>
<circle cx="70.90" cy="948.00" r="1.85" fill="#ff5c0a"/>
<circle cx="78.40" cy="948.00" r="1.85" fill="#ff5c0a"/>
<circle cx="86.20" cy="953.10" r="1.85" fill="#ff5c0a"/>
<circle cx="94.20" cy="952.10" r="1.85" fill="#ff5c0a"/>
<circle cx="101.90" cy="952.10" r="1.85" fill="#ff5c0a"/>
<circle cx="110.00" cy="946.20" r="1.85" fill="#ff5c0a"/>
<circle cx="117.70" cy="946.20" r="1.85" fill="#ff5c0a"/>
<circle cx="125.20" cy="947.00" r="1.85" fill="#ff5c0a"/>
<circle cx="133.10" cy="950.10" r="1.85" fill="#ff5c0a"/>
<circle cx="141.00" cy="950.10" r="1.85" fill="#ff5c0a"/>
<circle cx="148.90" cy="950.10" r="1.85" fill="#ff5c0a"/>
<line x1="38.90" y1="950.40" x2="38.90" y2="952.40" stroke="#f23b3b" stroke-width="1.1"/>
<line x1="37.10" y1="950.40" x2="40.70" y2="950.40" stroke="#f23b3b" stroke-width="1.1"/>
<line x1="37.10" y1="952.40" x2="40.70" y2="952.40" stroke="#f23b3b" stroke-width="1.1"/>
<line x1="47.30" y1="947.80" x2="47.30" y2="949.80" stroke="#f23b3b" stroke-width="1.1"/>
<line x1="45.50" y1="947.80" x2="49.10" y2="947.80" stroke="#f23b3b" stroke-width="1.1"/>
<line x1="45.50" y1="949.80" x2="49.10" y2="949.80" stroke="#f23b3b" stroke-width="1.1"/>
<line x1="55.10" y1="947.00" x2="55.10" y2="949.00" stroke="#f23b3b" stroke-width="1.1"/>
<line x1="53.30" y1="947.00" x2="56.90" y2="947.00" stroke="#f23b3b" stroke-width="1.1"/>
<line x1="53.30" y1="949.00" x2="56.90" y2="949.00" stroke="#f23b3b" stroke-width="1.1"/>
<line x1="63.00" y1="946.00" x2="63.00" y2="948.00" stroke="#f23b3b" stroke-width="1.1"/>
<line x1="61.20" y1="946.00" x2="64.80" y2="946.00" stroke="#f23b3b" stroke-width="1.1"/>
<line x1="61.20" y1="948.00" x2="64.80" y2="948.00" stroke="#f23b3b" stroke-width="1.1"/>
<line x1="70.90" y1="946.00" x2="70.90" y2="948.00" stroke="#f23b3b" stroke-width="1.1"/>
<line x1="69.10" y1="946.00" x2="72.70" y2="946.00" stroke="#f23b3b" stroke-width="1.1"/>
<line x1="69.10" y1="948.00" x2="72.70" y2="948.00" stroke="#f23b3b" stroke-width="1.1"/>
<line x1="78.40" y1="946.50" x2="78.40" y2="948.50" stroke="#f23b3b" stroke-width="1.1"/>
<line x1="76.60" y1="946.50" x2="80.20" y2="946.50" stroke="#f23b3b" stroke-width="1.1"/>
<line x1="76.60" y1="948.50" x2="80.20" y2="948.50" stroke="#f23b3b" stroke-width="1.1"/>
<line x1="86.20" y1="950.40" x2="86.20" y2="952.40" stroke="#f23b3b" stroke-width="1.1"/>
<line x1="84.40" y1="950.40" x2="88.00" y2="950.40" stroke="#f23b3b" stroke-width="1.1"/>
<line x1="84.40" y1="952.40" x2="88.00" y2="952.40" stroke="#f23b3b" stroke-width="1.1"/>
<line x1="94.20" y1="950.40" x2="94.20" y2="952.40" stroke="#f23b3b" stroke-width="1.1"/>
<line x1="92.40" y1="950.40" x2="96.00" y2="950.40" stroke="#f23b3b" stroke-width="1.1"/>
<line x1="92.40" y1="952.40" x2="96.00" y2="952.40" stroke="#f23b3b" stroke-width="1.1"/>
<line x1="101.90" y1="950.40" x2="101.90" y2="952.40" stroke="#f23b3b" stroke-width="1.1"/>
<line x1="100.10" y1="950.40" x2="103.70" y2="950.40" stroke="#f23b3b" stroke-width="1.1"/>
<line x1="100.10" y1="952.40" x2="103.70" y2="952.40" stroke="#f23b3b" stroke-width="1.1"/>
<line x1="110.00" y1="947.00" x2="110.00" y2="949.00" stroke="#f23b3b" stroke-width="1.1"/>
<line x1="108.20" y1="947.00" x2="111.80" y2="947.00" stroke="#f23b3b" stroke-width="1.1"/>
<line x1="108.20" y1="949.00" x2="111.80" y2="949.00" stroke="#f23b3b" stroke-width="1.1"/>
<line x1="117.70" y1="947.00" x2="117.70" y2="949.00" stroke="#f23b3b" stroke-width="1.1"/>
<line x1="115.90" y1="947.00" x2="119.50" y2="947.00" stroke="#f23b3b" stroke-width="1.1"/>
<line x1="115.90" y1="949.00" x2="119.50" y2="949.00" stroke="#f23b3b" stroke-width="1.1"/>
<line x1="125.20" y1="947.00" x2="125.20" y2="949.00" stroke="#f23b3b" stroke-width="1.1"/>
<line x1="123.40" y1="947.00" x2="127.00" y2="947.00" stroke="#f23b3b" stroke-width="1.1"/>
<line x1="123.40" y1="949.00" x2="127.00" y2="949.00" stroke="#f23b3b" stroke-width="1.1"/>
<line x1="133.10" y1="951.60" x2="133.10" y2="953.60" stroke="#f23b3b" stroke-width="1.1"/>
<line x1="131.30" y1="951.60" x2="134.90" y2="951.60" stroke="#f23b3b" stroke-width="1.1"/>
<line x1="131.30" y1="953.60" x2="134.90" y2="953.60" stroke="#f23b3b" stroke-width="1.1"/>
<line x1="141.00" y1="952.10" x2="141.00" y2="954.10" stroke="#f23b3b" stroke-width="1.1"/>
<line x1="139.20" y1="952.10" x2="142.80" y2="952.10" stroke="#f23b3b" stroke-width="1.1"/>
<line x1="139.20" y1="954.10" x2="142.80" y2="954.10" stroke="#f23b3b" stroke-width="1.1"/>
<line x1="148.90" y1="952.10" x2="148.90" y2="954.10" stroke="#f23b3b" stroke-width="1.1"/>
<line x1="147.10" y1="952.10" x2="150.70" y2="952.10" stroke="#f23b3b" stroke-width="1.1"/>
<line x1="147.10" y1="954.10" x2="150.70" y2="954.10" stroke="#f23b3b" stroke-width="1.1"/>
<polyline points="38.90,951.40 47.30,948.80 55.10,948.00 63.00,947.00 70.90,947.00 78.40,947.50 86.20,951.40 94.20,951.40 101.90,951.40 110.00,948.00 117.70,948.00 125.20,948.00 133.10,952.60 141.00,953.10 148.90,953.10" fill="none" stroke="#f23b3b" stroke-width="2" stroke-linejoin="round"/>
<circle cx="38.90" cy="951.40" r="1.85" fill="#f23b3b"/>
<circle cx="47.30" cy="948.80" r="1.85" fill="#f23b3b"/>
<circle cx="55.10" cy="948.00" r="1.85" fill="#f23b3b"/>
<circle cx="63.00" cy="947.00" r="1.85" fill="#f23b3b"/>
<circle cx="70.90" cy="947.00" r="1.85" fill="#f23b3b"/>
<circle cx="78.40" cy="947.50" r="1.85" fill="#f23b3b"/>
<circle cx="86.20" cy="951.40" r="1.85" fill="#f23b3b"/>
<circle cx="94.20" cy="951.40" r="1.85" fill="#f23b3b"/>
<circle cx="101.90" cy="951.40" r="1.85" fill="#f23b3b"/>
<circle cx="110.00" cy="948.00" r="1.85" fill="#f23b3b"/>
<circle cx="117.70" cy="948.00" r="1.85" fill="#f23b3b"/>
<circle cx="125.20" cy="948.00" r="1.85" fill="#f23b3b"/>
<circle cx="133.10" cy="952.60" r="1.85" fill="#f23b3b"/>
<circle cx="141.00" cy="953.10" r="1.85" fill="#f23b3b"/>
<circle cx="148.90" cy="953.10" r="1.85" fill="#f23b3b"/>
<line x1="38.90" y1="945.00" x2="38.90" y2="947.40" stroke="#c4925a" stroke-width="1.1"/>
<line x1="37.10" y1="945.00" x2="40.70" y2="945.00" stroke="#c4925a" stroke-width="1.1"/>
<line x1="37.10" y1="947.40" x2="40.70" y2="947.40" stroke="#c4925a" stroke-width="1.1"/>
<line x1="47.30" y1="944.30" x2="47.30" y2="946.70" stroke="#c4925a" stroke-width="1.1"/>
<line x1="45.50" y1="944.30" x2="49.10" y2="944.30" stroke="#c4925a" stroke-width="1.1"/>
<line x1="45.50" y1="946.70" x2="49.10" y2="946.70" stroke="#c4925a" stroke-width="1.1"/>
<line x1="55.10" y1="943.80" x2="55.10" y2="946.20" stroke="#c4925a" stroke-width="1.1"/>
<line x1="53.30" y1="943.80" x2="56.90" y2="943.80" stroke="#c4925a" stroke-width="1.1"/>
<line x1="53.30" y1="946.20" x2="56.90" y2="946.20" stroke="#c4925a" stroke-width="1.1"/>
<line x1="63.00" y1="939.20" x2="63.00" y2="941.60" stroke="#c4925a" stroke-width="1.1"/>
<line x1="61.20" y1="939.20" x2="64.80" y2="939.20" stroke="#c4925a" stroke-width="1.1"/>
<line x1="61.20" y1="941.60" x2="64.80" y2="941.60" stroke="#c4925a" stroke-width="1.1"/>
<line x1="70.90" y1="939.20" x2="70.90" y2="941.60" stroke="#c4925a" stroke-width="1.1"/>
<line x1="69.10" y1="939.20" x2="72.70" y2="939.20" stroke="#c4925a" stroke-width="1.1"/>
<line x1="69.10" y1="941.60" x2="72.70" y2="941.60" stroke="#c4925a" stroke-width="1.1"/>
<line x1="78.40" y1="939.20" x2="78.40" y2="941.60" stroke="#c4925a" stroke-width="1.1"/>
<line x1="76.60" y1="939.20" x2="80.20" y2="939.20" stroke="#c4925a" stroke-width="1.1"/>
<line x1="76.60" y1="941.60" x2="80.20" y2="941.60" stroke="#c4925a" stroke-width="1.1"/>
<line x1="86.20" y1="943.30" x2="86.20" y2="945.70" stroke="#c4925a" stroke-width="1.1"/>
<line x1="84.40" y1="943.30" x2="88.00" y2="943.30" stroke="#c4925a" stroke-width="1.1"/>
<line x1="84.40" y1="945.70" x2="88.00" y2="945.70" stroke="#c4925a" stroke-width="1.1"/>
<line x1="94.20" y1="943.30" x2="94.20" y2="945.70" stroke="#c4925a" stroke-width="1.1"/>
<line x1="92.40" y1="943.30" x2="96.00" y2="943.30" stroke="#c4925a" stroke-width="1.1"/>
<line x1="92.40" y1="945.70" x2="96.00" y2="945.70" stroke="#c4925a" stroke-width="1.1"/>
<line x1="101.90" y1="943.30" x2="101.90" y2="945.70" stroke="#c4925a" stroke-width="1.1"/>
<line x1="100.10" y1="943.30" x2="103.70" y2="943.30" stroke="#c4925a" stroke-width="1.1"/>
<line x1="100.10" y1="945.70" x2="103.70" y2="945.70" stroke="#c4925a" stroke-width="1.1"/>
<line x1="110.00" y1="938.20" x2="110.00" y2="940.60" stroke="#c4925a" stroke-width="1.1"/>
<line x1="108.20" y1="938.20" x2="111.80" y2="938.20" stroke="#c4925a" stroke-width="1.1"/>
<line x1="108.20" y1="940.60" x2="111.80" y2="940.60" stroke="#c4925a" stroke-width="1.1"/>
<line x1="117.70" y1="938.20" x2="117.70" y2="940.60" stroke="#c4925a" stroke-width="1.1"/>
<line x1="115.90" y1="938.20" x2="119.50" y2="938.20" stroke="#c4925a" stroke-width="1.1"/>
<line x1="115.90" y1="940.60" x2="119.50" y2="940.60" stroke="#c4925a" stroke-width="1.1"/>
<line x1="125.20" y1="938.20" x2="125.20" y2="940.60" stroke="#c4925a" stroke-width="1.1"/>
<line x1="123.40" y1="938.20" x2="127.00" y2="938.20" stroke="#c4925a" stroke-width="1.1"/>
<line x1="123.40" y1="940.60" x2="127.00" y2="940.60" stroke="#c4925a" stroke-width="1.1"/>
<line x1="133.10" y1="942.50" x2="133.10" y2="944.90" stroke="#c4925a" stroke-width="1.1"/>
<line x1="131.30" y1="942.50" x2="134.90" y2="942.50" stroke="#c4925a" stroke-width="1.1"/>
<line x1="131.30" y1="944.90" x2="134.90" y2="944.90" stroke="#c4925a" stroke-width="1.1"/>
<line x1="141.00" y1="943.30" x2="141.00" y2="945.70" stroke="#c4925a" stroke-width="1.1"/>
<line x1="139.20" y1="943.30" x2="142.80" y2="943.30" stroke="#c4925a" stroke-width="1.1"/>
<line x1="139.20" y1="945.70" x2="142.80" y2="945.70" stroke="#c4925a" stroke-width="1.1"/>
<line x1="148.90" y1="943.80" x2="148.90" y2="946.20" stroke="#c4925a" stroke-width="1.1"/>
<line x1="147.10" y1="943.80" x2="150.70" y2="943.80" stroke="#c4925a" stroke-width="1.1"/>
<line x1="147.10" y1="946.20" x2="150.70" y2="946.20" stroke="#c4925a" stroke-width="1.1"/>
<polyline points="38.90,946.20 47.30,945.50 55.10,945.00 63.00,940.40 70.90,940.40 78.40,940.40 86.20,944.50 94.20,944.50 101.90,944.50 110.00,939.40 117.70,939.40 125.20,939.40 133.10,943.70 141.00,944.50 148.90,945.00" fill="none" stroke="#c4925a" stroke-width="2" stroke-linejoin="round"/>
<rect x="36.90" y="944.20" width="4.00" height="4.00" fill="#c4925a"/>
<rect x="45.30" y="943.50" width="4.00" height="4.00" fill="#c4925a"/>
<rect x="53.10" y="943.00" width="4.00" height="4.00" fill="#c4925a"/>
<rect x="61.00" y="938.40" width="4.00" height="4.00" fill="#c4925a"/>
<rect x="68.90" y="938.40" width="4.00" height="4.00" fill="#c4925a"/>
<rect x="76.40" y="938.40" width="4.00" height="4.00" fill="#c4925a"/>
<rect x="84.20" y="942.50" width="4.00" height="4.00" fill="#c4925a"/>
<rect x="92.20" y="942.50" width="4.00" height="4.00" fill="#c4925a"/>
<rect x="99.90" y="942.50" width="4.00" height="4.00" fill="#c4925a"/>
<rect x="108.00" y="937.40" width="4.00" height="4.00" fill="#c4925a"/>
<rect x="115.70" y="937.40" width="4.00" height="4.00" fill="#c4925a"/>
<rect x="123.20" y="937.40" width="4.00" height="4.00" fill="#c4925a"/>
<rect x="131.10" y="941.70" width="4.00" height="4.00" fill="#c4925a"/>
<rect x="139.00" y="942.50" width="4.00" height="4.00" fill="#c4925a"/>
<rect x="146.90" y="943.00" width="4.00" height="4.00" fill="#c4925a"/>
<line x1="38.90" y1="945.80" x2="38.90" y2="948.20" stroke="#7a7a7a" stroke-width="1.1"/>
<line x1="37.10" y1="945.80" x2="40.70" y2="945.80" stroke="#7a7a7a" stroke-width="1.1"/>
<line x1="37.10" y1="948.20" x2="40.70" y2="948.20" stroke="#7a7a7a" stroke-width="1.1"/>
<line x1="47.30" y1="945.00" x2="47.30" y2="947.40" stroke="#7a7a7a" stroke-width="1.1"/>
<line x1="45.50" y1="945.00" x2="49.10" y2="945.00" stroke="#7a7a7a" stroke-width="1.1"/>
<line x1="45.50" y1="947.40" x2="49.10" y2="947.40" stroke="#7a7a7a" stroke-width="1.1"/>
<line x1="55.10" y1="944.30" x2="55.10" y2="946.70" stroke="#7a7a7a" stroke-width="1.1"/>
<line x1="53.30" y1="944.30" x2="56.90" y2="944.30" stroke="#7a7a7a" stroke-width="1.1"/>
<line x1="53.30" y1="946.70" x2="56.90" y2="946.70" stroke="#7a7a7a" stroke-width="1.1"/>
<line x1="63.00" y1="940.70" x2="63.00" y2="943.10" stroke="#7a7a7a" stroke-width="1.1"/>
<line x1="61.20" y1="940.70" x2="64.80" y2="940.70" stroke="#7a7a7a" stroke-width="1.1"/>
<line x1="61.20" y1="943.10" x2="64.80" y2="943.10" stroke="#7a7a7a" stroke-width="1.1"/>
<line x1="70.90" y1="940.70" x2="70.90" y2="943.10" stroke="#7a7a7a" stroke-width="1.1"/>
<line x1="69.10" y1="940.70" x2="72.70" y2="940.70" stroke="#7a7a7a" stroke-width="1.1"/>
<line x1="69.10" y1="943.10" x2="72.70" y2="943.10" stroke="#7a7a7a" stroke-width="1.1"/>
<line x1="78.40" y1="940.70" x2="78.40" y2="943.10" stroke="#7a7a7a" stroke-width="1.1"/>
<line x1="76.60" y1="940.70" x2="80.20" y2="940.70" stroke="#7a7a7a" stroke-width="1.1"/>
<line x1="76.60" y1="943.10" x2="80.20" y2="943.10" stroke="#7a7a7a" stroke-width="1.1"/>
<line x1="86.20" y1="944.30" x2="86.20" y2="946.70" stroke="#7a7a7a" stroke-width="1.1"/>
<line x1="84.40" y1="944.30" x2="88.00" y2="944.30" stroke="#7a7a7a" stroke-width="1.1"/>
<line x1="84.40" y1="946.70" x2="88.00" y2="946.70" stroke="#7a7a7a" stroke-width="1.1"/>
<line x1="94.20" y1="943.80" x2="94.20" y2="946.20" stroke="#7a7a7a" stroke-width="1.1"/>
<line x1="92.40" y1="943.80" x2="96.00" y2="943.80" stroke="#7a7a7a" stroke-width="1.1"/>
<line x1="92.40" y1="946.20" x2="96.00" y2="946.20" stroke="#7a7a7a" stroke-width="1.1"/>
<line x1="101.90" y1="943.80" x2="101.90" y2="946.20" stroke="#7a7a7a" stroke-width="1.1"/>
<line x1="100.10" y1="943.80" x2="103.70" y2="943.80" stroke="#7a7a7a" stroke-width="1.1"/>
<line x1="100.10" y1="946.20" x2="103.70" y2="946.20" stroke="#7a7a7a" stroke-width="1.1"/>
<line x1="110.00" y1="938.20" x2="110.00" y2="940.60" stroke="#7a7a7a" stroke-width="1.1"/>
<line x1="108.20" y1="938.20" x2="111.80" y2="938.20" stroke="#7a7a7a" stroke-width="1.1"/>
<line x1="108.20" y1="940.60" x2="111.80" y2="940.60" stroke="#7a7a7a" stroke-width="1.1"/>
<line x1="117.70" y1="938.20" x2="117.70" y2="940.60" stroke="#7a7a7a" stroke-width="1.1"/>
<line x1="115.90" y1="938.20" x2="119.50" y2="938.20" stroke="#7a7a7a" stroke-width="1.1"/>
<line x1="115.90" y1="940.60" x2="119.50" y2="940.60" stroke="#7a7a7a" stroke-width="1.1"/>
<line x1="125.20" y1="938.20" x2="125.20" y2="940.60" stroke="#7a7a7a" stroke-width="1.1"/>
<line x1="123.40" y1="938.20" x2="127.00" y2="938.20" stroke="#7a7a7a" stroke-width="1.1"/>
<line x1="123.40" y1="940.60" x2="127.00" y2="940.60" stroke="#7a7a7a" stroke-width="1.1"/>
<line x1="133.10" y1="945.00" x2="133.10" y2="947.40" stroke="#7a7a7a" stroke-width="1.1"/>
<line x1="131.30" y1="945.00" x2="134.90" y2="945.00" stroke="#7a7a7a" stroke-width="1.1"/>
<line x1="131.30" y1="947.40" x2="134.90" y2="947.40" stroke="#7a7a7a" stroke-width="1.1"/>
<line x1="141.00" y1="945.00" x2="141.00" y2="947.40" stroke="#7a7a7a" stroke-width="1.1"/>
<line x1="139.20" y1="945.00" x2="142.80" y2="945.00" stroke="#7a7a7a" stroke-width="1.1"/>
<line x1="139.20" y1="947.40" x2="142.80" y2="947.40" stroke="#7a7a7a" stroke-width="1.1"/>
<line x1="148.90" y1="945.80" x2="148.90" y2="948.20" stroke="#7a7a7a" stroke-width="1.1"/>
<line x1="147.10" y1="945.80" x2="150.70" y2="945.80" stroke="#7a7a7a" stroke-width="1.1"/>
<line x1="147.10" y1="948.20" x2="150.70" y2="948.20" stroke="#7a7a7a" stroke-width="1.1"/>
<polyline points="38.90,947.00 47.30,946.20 55.10,945.50 63.00,941.90 70.90,941.90 78.40,941.90 86.20,945.50 94.20,945.00 101.90,945.00 110.00,939.40 117.70,939.40 125.20,939.40 133.10,946.20 141.00,946.20 148.90,947.00" fill="none" stroke="#7a7a7a" stroke-width="2" stroke-linejoin="round"/>
<rect x="36.90" y="945.00" width="4.00" height="4.00" fill="#7a7a7a"/>
<rect x="45.30" y="944.20" width="4.00" height="4.00" fill="#7a7a7a"/>
<rect x="53.10" y="943.50" width="4.00" height="4.00" fill="#7a7a7a"/>
<rect x="61.00" y="939.90" width="4.00" height="4.00" fill="#7a7a7a"/>
<rect x="68.90" y="939.90" width="4.00" height="4.00" fill="#7a7a7a"/>
<rect x="76.40" y="939.90" width="4.00" height="4.00" fill="#7a7a7a"/>
<rect x="84.20" y="943.50" width="4.00" height="4.00" fill="#7a7a7a"/>
<rect x="92.20" y="943.00" width="4.00" height="4.00" fill="#7a7a7a"/>
<rect x="99.90" y="943.00" width="4.00" height="4.00" fill="#7a7a7a"/>
<rect x="108.00" y="937.40" width="4.00" height="4.00" fill="#7a7a7a"/>
<rect x="115.70" y="937.40" width="4.00" height="4.00" fill="#7a7a7a"/>
<rect x="123.20" y="937.40" width="4.00" height="4.00" fill="#7a7a7a"/>
<rect x="131.10" y="944.20" width="4.00" height="4.00" fill="#7a7a7a"/>
<rect x="139.00" y="944.20" width="4.00" height="4.00" fill="#7a7a7a"/>
<rect x="146.90" y="945.00" width="4.00" height="4.00" fill="#7a7a7a"/>
<line x1="38.90" y1="935.80" x2="38.90" y2="938.80" stroke="#12bf7c" stroke-width="1.1"/>
<line x1="37.10" y1="935.80" x2="40.70" y2="935.80" stroke="#12bf7c" stroke-width="1.1"/>
<line x1="37.10" y1="938.80" x2="40.70" y2="938.80" stroke="#12bf7c" stroke-width="1.1"/>
<line x1="47.30" y1="935.80" x2="47.30" y2="938.80" stroke="#12bf7c" stroke-width="1.1"/>
<line x1="45.50" y1="935.80" x2="49.10" y2="935.80" stroke="#12bf7c" stroke-width="1.1"/>
<line x1="45.50" y1="938.80" x2="49.10" y2="938.80" stroke="#12bf7c" stroke-width="1.1"/>
<line x1="55.10" y1="935.30" x2="55.10" y2="938.30" stroke="#12bf7c" stroke-width="1.1"/>
<line x1="53.30" y1="935.30" x2="56.90" y2="935.30" stroke="#12bf7c" stroke-width="1.1"/>
<line x1="53.30" y1="938.30" x2="56.90" y2="938.30" stroke="#12bf7c" stroke-width="1.1"/>
<line x1="63.00" y1="932.70" x2="63.00" y2="935.70" stroke="#12bf7c" stroke-width="1.1"/>
<line x1="61.20" y1="932.70" x2="64.80" y2="932.70" stroke="#12bf7c" stroke-width="1.1"/>
<line x1="61.20" y1="935.70" x2="64.80" y2="935.70" stroke="#12bf7c" stroke-width="1.1"/>
<line x1="70.90" y1="932.70" x2="70.90" y2="935.70" stroke="#12bf7c" stroke-width="1.1"/>
<line x1="69.10" y1="932.70" x2="72.70" y2="932.70" stroke="#12bf7c" stroke-width="1.1"/>
<line x1="69.10" y1="935.70" x2="72.70" y2="935.70" stroke="#12bf7c" stroke-width="1.1"/>
<line x1="78.40" y1="932.70" x2="78.40" y2="935.70" stroke="#12bf7c" stroke-width="1.1"/>
<line x1="76.60" y1="932.70" x2="80.20" y2="932.70" stroke="#12bf7c" stroke-width="1.1"/>
<line x1="76.60" y1="935.70" x2="80.20" y2="935.70" stroke="#12bf7c" stroke-width="1.1"/>
<line x1="86.20" y1="940.90" x2="86.20" y2="942.90" stroke="#12bf7c" stroke-width="1.1"/>
<line x1="84.40" y1="940.90" x2="88.00" y2="940.90" stroke="#12bf7c" stroke-width="1.1"/>
<line x1="84.40" y1="942.90" x2="88.00" y2="942.90" stroke="#12bf7c" stroke-width="1.1"/>
<line x1="94.20" y1="941.40" x2="94.20" y2="943.40" stroke="#12bf7c" stroke-width="1.1"/>
<line x1="92.40" y1="941.40" x2="96.00" y2="941.40" stroke="#12bf7c" stroke-width="1.1"/>
<line x1="92.40" y1="943.40" x2="96.00" y2="943.40" stroke="#12bf7c" stroke-width="1.1"/>
<line x1="101.90" y1="941.40" x2="101.90" y2="943.40" stroke="#12bf7c" stroke-width="1.1"/>
<line x1="100.10" y1="941.40" x2="103.70" y2="941.40" stroke="#12bf7c" stroke-width="1.1"/>
<line x1="100.10" y1="943.40" x2="103.70" y2="943.40" stroke="#12bf7c" stroke-width="1.1"/>
<line x1="110.00" y1="929.70" x2="110.00" y2="934.70" stroke="#12bf7c" stroke-width="1.1"/>
<line x1="108.20" y1="929.70" x2="111.80" y2="929.70" stroke="#12bf7c" stroke-width="1.1"/>
<line x1="108.20" y1="934.70" x2="111.80" y2="934.70" stroke="#12bf7c" stroke-width="1.1"/>
<line x1="117.70" y1="930.20" x2="117.70" y2="935.20" stroke="#12bf7c" stroke-width="1.1"/>
<line x1="115.90" y1="930.20" x2="119.50" y2="930.20" stroke="#12bf7c" stroke-width="1.1"/>
<line x1="115.90" y1="935.20" x2="119.50" y2="935.20" stroke="#12bf7c" stroke-width="1.1"/>
<line x1="125.20" y1="931.00" x2="125.20" y2="936.00" stroke="#12bf7c" stroke-width="1.1"/>
<line x1="123.40" y1="931.00" x2="127.00" y2="931.00" stroke="#12bf7c" stroke-width="1.1"/>
<line x1="123.40" y1="936.00" x2="127.00" y2="936.00" stroke="#12bf7c" stroke-width="1.1"/>
<line x1="133.10" y1="939.40" x2="133.10" y2="941.40" stroke="#12bf7c" stroke-width="1.1"/>
<line x1="131.30" y1="939.40" x2="134.90" y2="939.40" stroke="#12bf7c" stroke-width="1.1"/>
<line x1="131.30" y1="941.40" x2="134.90" y2="941.40" stroke="#12bf7c" stroke-width="1.1"/>
<line x1="141.00" y1="940.10" x2="141.00" y2="942.10" stroke="#12bf7c" stroke-width="1.1"/>
<line x1="139.20" y1="940.10" x2="142.80" y2="940.10" stroke="#12bf7c" stroke-width="1.1"/>
<line x1="139.20" y1="942.10" x2="142.80" y2="942.10" stroke="#12bf7c" stroke-width="1.1"/>
<line x1="148.90" y1="941.40" x2="148.90" y2="943.40" stroke="#12bf7c" stroke-width="1.1"/>
<line x1="147.10" y1="941.40" x2="150.70" y2="941.40" stroke="#12bf7c" stroke-width="1.1"/>
<line x1="147.10" y1="943.40" x2="150.70" y2="943.40" stroke="#12bf7c" stroke-width="1.1"/>
<polyline points="38.90,937.30 47.30,937.30 55.10,936.80 63.00,934.20 70.90,934.20 78.40,934.20 86.20,941.90 94.20,942.40 101.90,942.40 110.00,932.20 117.70,932.70 125.20,933.50 133.10,940.40 141.00,941.10 148.90,942.40" fill="none" stroke="#12bf7c" stroke-width="2" stroke-linejoin="round"/>
<circle cx="38.90" cy="937.30" r="1.85" fill="#12bf7c"/>
<circle cx="47.30" cy="937.30" r="1.85" fill="#12bf7c"/>
<circle cx="55.10" cy="936.80" r="1.85" fill="#12bf7c"/>
<circle cx="63.00" cy="934.20" r="1.85" fill="#12bf7c"/>
<circle cx="70.90" cy="934.20" r="1.85" fill="#12bf7c"/>
<circle cx="78.40" cy="934.20" r="1.85" fill="#12bf7c"/>
<circle cx="86.20" cy="941.90" r="1.85" fill="#12bf7c"/>
<circle cx="94.20" cy="942.40" r="1.85" fill="#12bf7c"/>
<circle cx="101.90" cy="942.40" r="1.85" fill="#12bf7c"/>
<circle cx="110.00" cy="932.20" r="1.85" fill="#12bf7c"/>
<circle cx="117.70" cy="932.70" r="1.85" fill="#12bf7c"/>
<circle cx="125.20" cy="933.50" r="1.85" fill="#12bf7c"/>
<circle cx="133.10" cy="940.40" r="1.85" fill="#12bf7c"/>
<circle cx="141.00" cy="941.10" r="1.85" fill="#12bf7c"/>
<circle cx="148.90" cy="942.40" r="1.85" fill="#12bf7c"/>
<line x1="38.90" y1="930.50" x2="38.90" y2="936.50" stroke="#333333" stroke-width="1.1"/>
<line x1="37.10" y1="930.50" x2="40.70" y2="930.50" stroke="#333333" stroke-width="1.1"/>
<line x1="37.10" y1="936.50" x2="40.70" y2="936.50" stroke="#333333" stroke-width="1.1"/>
<line x1="47.30" y1="922.90" x2="47.30" y2="933.90" stroke="#333333" stroke-width="1.1"/>
<line x1="45.50" y1="922.90" x2="49.10" y2="922.90" stroke="#333333" stroke-width="1.1"/>
<line x1="45.50" y1="933.90" x2="49.10" y2="933.90" stroke="#333333" stroke-width="1.1"/>
<line x1="55.10" y1="924.70" x2="55.10" y2="935.70" stroke="#333333" stroke-width="1.1"/>
<line x1="53.30" y1="924.70" x2="56.90" y2="924.70" stroke="#333333" stroke-width="1.1"/>
<line x1="53.30" y1="935.70" x2="56.90" y2="935.70" stroke="#333333" stroke-width="1.1"/>
<line x1="63.00" y1="921.10" x2="63.00" y2="932.10" stroke="#333333" stroke-width="1.1"/>
<line x1="61.20" y1="921.10" x2="64.80" y2="921.10" stroke="#333333" stroke-width="1.1"/>
<line x1="61.20" y1="932.10" x2="64.80" y2="932.10" stroke="#333333" stroke-width="1.1"/>
<line x1="70.90" y1="921.10" x2="70.90" y2="932.10" stroke="#333333" stroke-width="1.1"/>
<line x1="69.10" y1="921.10" x2="72.70" y2="921.10" stroke="#333333" stroke-width="1.1"/>
<line x1="69.10" y1="932.10" x2="72.70" y2="932.10" stroke="#333333" stroke-width="1.1"/>
<line x1="78.40" y1="921.10" x2="78.40" y2="932.10" stroke="#333333" stroke-width="1.1"/>
<line x1="76.60" y1="921.10" x2="80.20" y2="921.10" stroke="#333333" stroke-width="1.1"/>
<line x1="76.60" y1="932.10" x2="80.20" y2="932.10" stroke="#333333" stroke-width="1.1"/>
<line x1="86.20" y1="940.10" x2="86.20" y2="942.10" stroke="#333333" stroke-width="1.1"/>
<line x1="84.40" y1="940.10" x2="88.00" y2="940.10" stroke="#333333" stroke-width="1.1"/>
<line x1="84.40" y1="942.10" x2="88.00" y2="942.10" stroke="#333333" stroke-width="1.1"/>
<line x1="94.20" y1="940.90" x2="94.20" y2="942.90" stroke="#333333" stroke-width="1.1"/>
<line x1="92.40" y1="940.90" x2="96.00" y2="940.90" stroke="#333333" stroke-width="1.1"/>
<line x1="92.40" y1="942.90" x2="96.00" y2="942.90" stroke="#333333" stroke-width="1.1"/>
<line x1="101.90" y1="940.90" x2="101.90" y2="942.90" stroke="#333333" stroke-width="1.1"/>
<line x1="100.10" y1="940.90" x2="103.70" y2="940.90" stroke="#333333" stroke-width="1.1"/>
<line x1="100.10" y1="942.90" x2="103.70" y2="942.90" stroke="#333333" stroke-width="1.1"/>
<line x1="110.00" y1="896.70" x2="110.00" y2="898.70" stroke="#333333" stroke-width="1.1"/>
<line x1="108.20" y1="896.70" x2="111.80" y2="896.70" stroke="#333333" stroke-width="1.1"/>
<line x1="108.20" y1="898.70" x2="111.80" y2="898.70" stroke="#333333" stroke-width="1.1"/>
<line x1="117.70" y1="913.30" x2="117.70" y2="916.30" stroke="#333333" stroke-width="1.1"/>
<line x1="115.90" y1="913.30" x2="119.50" y2="913.30" stroke="#333333" stroke-width="1.1"/>
<line x1="115.90" y1="916.30" x2="119.50" y2="916.30" stroke="#333333" stroke-width="1.1"/>
<line x1="125.20" y1="914.40" x2="125.20" y2="919.40" stroke="#333333" stroke-width="1.1"/>
<line x1="123.40" y1="914.40" x2="127.00" y2="914.40" stroke="#333333" stroke-width="1.1"/>
<line x1="123.40" y1="919.40" x2="127.00" y2="919.40" stroke="#333333" stroke-width="1.1"/>
<line x1="133.10" y1="940.90" x2="133.10" y2="942.90" stroke="#333333" stroke-width="1.1"/>
<line x1="131.30" y1="940.90" x2="134.90" y2="940.90" stroke="#333333" stroke-width="1.1"/>
<line x1="131.30" y1="942.90" x2="134.90" y2="942.90" stroke="#333333" stroke-width="1.1"/>
<line x1="141.00" y1="941.90" x2="141.00" y2="943.90" stroke="#333333" stroke-width="1.1"/>
<line x1="139.20" y1="941.90" x2="142.80" y2="941.90" stroke="#333333" stroke-width="1.1"/>
<line x1="139.20" y1="943.90" x2="142.80" y2="943.90" stroke="#333333" stroke-width="1.1"/>
<line x1="148.90" y1="942.70" x2="148.90" y2="944.70" stroke="#333333" stroke-width="1.1"/>
<line x1="147.10" y1="942.70" x2="150.70" y2="942.70" stroke="#333333" stroke-width="1.1"/>
<line x1="147.10" y1="944.70" x2="150.70" y2="944.70" stroke="#333333" stroke-width="1.1"/>
<polyline points="38.90,933.50 47.30,928.40 55.10,930.20 63.00,926.60 70.90,926.60 78.40,926.60 86.20,941.10 94.20,941.90 101.90,941.90 110.00,897.70 117.70,914.80 125.20,916.90 133.10,941.90 141.00,942.90 148.90,943.70" fill="none" stroke="#333333" stroke-width="2" stroke-linejoin="round"/>
<circle cx="38.90" cy="933.50" r="1.85" fill="#333333"/>
<circle cx="47.30" cy="928.40" r="1.85" fill="#333333"/>
<circle cx="55.10" cy="930.20" r="1.85" fill="#333333"/>
<circle cx="63.00" cy="926.60" r="1.85" fill="#333333"/>
<circle cx="70.90" cy="926.60" r="1.85" fill="#333333"/>
<circle cx="78.40" cy="926.60" r="1.85" fill="#333333"/>
<circle cx="86.20" cy="941.10" r="1.85" fill="#333333"/>
<circle cx="94.20" cy="941.90" r="1.85" fill="#333333"/>
<circle cx="101.90" cy="941.90" r="1.85" fill="#333333"/>
<circle cx="110.00" cy="897.70" r="1.85" fill="#333333"/>
<circle cx="117.70" cy="914.80" r="1.85" fill="#333333"/>
<circle cx="125.20" cy="916.90" r="1.85" fill="#333333"/>
<circle cx="133.10" cy="941.90" r="1.85" fill="#333333"/>
<circle cx="141.00" cy="942.90" r="1.85" fill="#333333"/>
<circle cx="148.90" cy="943.70" r="1.85" fill="#333333"/>
<line x1="38.90" y1="908.50" x2="38.90" y2="910.90" stroke="#9a0fe0" stroke-width="1.1"/>
<line x1="37.10" y1="908.50" x2="40.70" y2="908.50" stroke="#9a0fe0" stroke-width="1.1"/>
<line x1="37.10" y1="910.90" x2="40.70" y2="910.90" stroke="#9a0fe0" stroke-width="1.1"/>
<line x1="47.30" y1="909.30" x2="47.30" y2="911.70" stroke="#9a0fe0" stroke-width="1.1"/>
<line x1="45.50" y1="909.30" x2="49.10" y2="909.30" stroke="#9a0fe0" stroke-width="1.1"/>
<line x1="45.50" y1="911.70" x2="49.10" y2="911.70" stroke="#9a0fe0" stroke-width="1.1"/>
<line x1="55.10" y1="910.00" x2="55.10" y2="912.40" stroke="#9a0fe0" stroke-width="1.1"/>
<line x1="53.30" y1="910.00" x2="56.90" y2="910.00" stroke="#9a0fe0" stroke-width="1.1"/>
<line x1="53.30" y1="912.40" x2="56.90" y2="912.40" stroke="#9a0fe0" stroke-width="1.1"/>
<line x1="63.00" y1="902.90" x2="63.00" y2="905.30" stroke="#9a0fe0" stroke-width="1.1"/>
<line x1="61.20" y1="902.90" x2="64.80" y2="902.90" stroke="#9a0fe0" stroke-width="1.1"/>
<line x1="61.20" y1="905.30" x2="64.80" y2="905.30" stroke="#9a0fe0" stroke-width="1.1"/>
<line x1="70.90" y1="904.20" x2="70.90" y2="906.60" stroke="#9a0fe0" stroke-width="1.1"/>
<line x1="69.10" y1="904.20" x2="72.70" y2="904.20" stroke="#9a0fe0" stroke-width="1.1"/>
<line x1="69.10" y1="906.60" x2="72.70" y2="906.60" stroke="#9a0fe0" stroke-width="1.1"/>
<line x1="78.40" y1="908.00" x2="78.40" y2="910.40" stroke="#9a0fe0" stroke-width="1.1"/>
<line x1="76.60" y1="908.00" x2="80.20" y2="908.00" stroke="#9a0fe0" stroke-width="1.1"/>
<line x1="76.60" y1="910.40" x2="80.20" y2="910.40" stroke="#9a0fe0" stroke-width="1.1"/>
<line x1="86.20" y1="931.00" x2="86.20" y2="933.40" stroke="#9a0fe0" stroke-width="1.1"/>
<line x1="84.40" y1="931.00" x2="88.00" y2="931.00" stroke="#9a0fe0" stroke-width="1.1"/>
<line x1="84.40" y1="933.40" x2="88.00" y2="933.40" stroke="#9a0fe0" stroke-width="1.1"/>
<line x1="94.20" y1="930.50" x2="94.20" y2="932.90" stroke="#9a0fe0" stroke-width="1.1"/>
<line x1="92.40" y1="930.50" x2="96.00" y2="930.50" stroke="#9a0fe0" stroke-width="1.1"/>
<line x1="92.40" y1="932.90" x2="96.00" y2="932.90" stroke="#9a0fe0" stroke-width="1.1"/>
<line x1="101.90" y1="931.00" x2="101.90" y2="933.40" stroke="#9a0fe0" stroke-width="1.1"/>
<line x1="100.10" y1="931.00" x2="103.70" y2="931.00" stroke="#9a0fe0" stroke-width="1.1"/>
<line x1="100.10" y1="933.40" x2="103.70" y2="933.40" stroke="#9a0fe0" stroke-width="1.1"/>
<line x1="110.00" y1="876.10" x2="110.00" y2="878.50" stroke="#9a0fe0" stroke-width="1.1"/>
<line x1="108.20" y1="876.10" x2="111.80" y2="876.10" stroke="#9a0fe0" stroke-width="1.1"/>
<line x1="108.20" y1="878.50" x2="111.80" y2="878.50" stroke="#9a0fe0" stroke-width="1.1"/>
<line x1="117.70" y1="875.30" x2="117.70" y2="877.70" stroke="#9a0fe0" stroke-width="1.1"/>
<line x1="115.90" y1="875.30" x2="119.50" y2="875.30" stroke="#9a0fe0" stroke-width="1.1"/>
<line x1="115.90" y1="877.70" x2="119.50" y2="877.70" stroke="#9a0fe0" stroke-width="1.1"/>
<line x1="125.20" y1="875.30" x2="125.20" y2="877.70" stroke="#9a0fe0" stroke-width="1.1"/>
<line x1="123.40" y1="875.30" x2="127.00" y2="875.30" stroke="#9a0fe0" stroke-width="1.1"/>
<line x1="123.40" y1="877.70" x2="127.00" y2="877.70" stroke="#9a0fe0" stroke-width="1.1"/>
<line x1="133.10" y1="932.30" x2="133.10" y2="934.70" stroke="#9a0fe0" stroke-width="1.1"/>
<line x1="131.30" y1="932.30" x2="134.90" y2="932.30" stroke="#9a0fe0" stroke-width="1.1"/>
<line x1="131.30" y1="934.70" x2="134.90" y2="934.70" stroke="#9a0fe0" stroke-width="1.1"/>
<line x1="141.00" y1="934.10" x2="141.00" y2="936.50" stroke="#9a0fe0" stroke-width="1.1"/>
<line x1="139.20" y1="934.10" x2="142.80" y2="934.10" stroke="#9a0fe0" stroke-width="1.1"/>
<line x1="139.20" y1="936.50" x2="142.80" y2="936.50" stroke="#9a0fe0" stroke-width="1.1"/>
<line x1="148.90" y1="934.10" x2="148.90" y2="936.50" stroke="#9a0fe0" stroke-width="1.1"/>
<line x1="147.10" y1="934.10" x2="150.70" y2="934.10" stroke="#9a0fe0" stroke-width="1.1"/>
<line x1="147.10" y1="936.50" x2="150.70" y2="936.50" stroke="#9a0fe0" stroke-width="1.1"/>
<polyline points="38.90,909.70 47.30,910.50 55.10,911.20 63.00,904.10 70.90,905.40 78.40,909.20 86.20,932.20 94.20,931.70 101.90,932.20 110.00,877.30 117.70,876.50 125.20,876.50 133.10,933.50 141.00,935.30 148.90,935.30" fill="none" stroke="#9a0fe0" stroke-width="2" stroke-linejoin="round"/>
<rect x="36.90" y="907.70" width="4.00" height="4.00" fill="#9a0fe0"/>
<rect x="45.30" y="908.50" width="4.00" height="4.00" fill="#9a0fe0"/>
<rect x="53.10" y="909.20" width="4.00" height="4.00" fill="#9a0fe0"/>
<rect x="61.00" y="902.10" width="4.00" height="4.00" fill="#9a0fe0"/>
<rect x="68.90" y="903.40" width="4.00" height="4.00" fill="#9a0fe0"/>
<rect x="76.40" y="907.20" width="4.00" height="4.00" fill="#9a0fe0"/>
<rect x="84.20" y="930.20" width="4.00" height="4.00" fill="#9a0fe0"/>
<rect x="92.20" y="929.70" width="4.00" height="4.00" fill="#9a0fe0"/>
<rect x="99.90" y="930.20" width="4.00" height="4.00" fill="#9a0fe0"/>
<rect x="108.00" y="875.30" width="4.00" height="4.00" fill="#9a0fe0"/>
<rect x="115.70" y="874.50" width="4.00" height="4.00" fill="#9a0fe0"/>
<rect x="123.20" y="874.50" width="4.00" height="4.00" fill="#9a0fe0"/>
<rect x="131.10" y="931.50" width="4.00" height="4.00" fill="#9a0fe0"/>
<rect x="139.00" y="933.30" width="4.00" height="4.00" fill="#9a0fe0"/>
<rect x="146.90" y="933.30" width="4.00" height="4.00" fill="#9a0fe0"/>
<line x1="38.90" y1="913.30" x2="38.90" y2="916.30" stroke="#c8146e" stroke-width="1.1"/>
<line x1="37.10" y1="913.30" x2="40.70" y2="913.30" stroke="#c8146e" stroke-width="1.1"/>
<line x1="37.10" y1="916.30" x2="40.70" y2="916.30" stroke="#c8146e" stroke-width="1.1"/>
<line x1="47.30" y1="911.50" x2="47.30" y2="914.50" stroke="#c8146e" stroke-width="1.1"/>
<line x1="45.50" y1="911.50" x2="49.10" y2="911.50" stroke="#c8146e" stroke-width="1.1"/>
<line x1="45.50" y1="914.50" x2="49.10" y2="914.50" stroke="#c8146e" stroke-width="1.1"/>
<line x1="55.10" y1="911.80" x2="55.10" y2="915.80" stroke="#c8146e" stroke-width="1.1"/>
<line x1="53.30" y1="911.80" x2="56.90" y2="911.80" stroke="#c8146e" stroke-width="1.1"/>
<line x1="53.30" y1="915.80" x2="56.90" y2="915.80" stroke="#c8146e" stroke-width="1.1"/>
<line x1="63.00" y1="900.80" x2="63.00" y2="904.80" stroke="#c8146e" stroke-width="1.1"/>
<line x1="61.20" y1="900.80" x2="64.80" y2="900.80" stroke="#c8146e" stroke-width="1.1"/>
<line x1="61.20" y1="904.80" x2="64.80" y2="904.80" stroke="#c8146e" stroke-width="1.1"/>
<line x1="70.90" y1="899.00" x2="70.90" y2="903.00" stroke="#c8146e" stroke-width="1.1"/>
<line x1="69.10" y1="899.00" x2="72.70" y2="899.00" stroke="#c8146e" stroke-width="1.1"/>
<line x1="69.10" y1="903.00" x2="72.70" y2="903.00" stroke="#c8146e" stroke-width="1.1"/>
<line x1="78.40" y1="899.00" x2="78.40" y2="903.00" stroke="#c8146e" stroke-width="1.1"/>
<line x1="76.60" y1="899.00" x2="80.20" y2="899.00" stroke="#c8146e" stroke-width="1.1"/>
<line x1="76.60" y1="903.00" x2="80.20" y2="903.00" stroke="#c8146e" stroke-width="1.1"/>
<line x1="86.20" y1="933.20" x2="86.20" y2="935.20" stroke="#c8146e" stroke-width="1.1"/>
<line x1="84.40" y1="933.20" x2="88.00" y2="933.20" stroke="#c8146e" stroke-width="1.1"/>
<line x1="84.40" y1="935.20" x2="88.00" y2="935.20" stroke="#c8146e" stroke-width="1.1"/>
<line x1="94.20" y1="932.50" x2="94.20" y2="934.50" stroke="#c8146e" stroke-width="1.1"/>
<line x1="92.40" y1="932.50" x2="96.00" y2="932.50" stroke="#c8146e" stroke-width="1.1"/>
<line x1="92.40" y1="934.50" x2="96.00" y2="934.50" stroke="#c8146e" stroke-width="1.1"/>
<line x1="101.90" y1="933.20" x2="101.90" y2="935.20" stroke="#c8146e" stroke-width="1.1"/>
<line x1="100.10" y1="933.20" x2="103.70" y2="933.20" stroke="#c8146e" stroke-width="1.1"/>
<line x1="100.10" y1="935.20" x2="103.70" y2="935.20" stroke="#c8146e" stroke-width="1.1"/>
<line x1="110.00" y1="859.20" x2="110.00" y2="863.20" stroke="#c8146e" stroke-width="1.1"/>
<line x1="108.20" y1="859.20" x2="111.80" y2="859.20" stroke="#c8146e" stroke-width="1.1"/>
<line x1="108.20" y1="863.20" x2="111.80" y2="863.20" stroke="#c8146e" stroke-width="1.1"/>
<line x1="117.70" y1="857.10" x2="117.70" y2="860.10" stroke="#c8146e" stroke-width="1.1"/>
<line x1="115.90" y1="857.10" x2="119.50" y2="857.10" stroke="#c8146e" stroke-width="1.1"/>
<line x1="115.90" y1="860.10" x2="119.50" y2="860.10" stroke="#c8146e" stroke-width="1.1"/>
<line x1="125.20" y1="857.10" x2="125.20" y2="860.10" stroke="#c8146e" stroke-width="1.1"/>
<line x1="123.40" y1="857.10" x2="127.00" y2="857.10" stroke="#c8146e" stroke-width="1.1"/>
<line x1="123.40" y1="860.10" x2="127.00" y2="860.10" stroke="#c8146e" stroke-width="1.1"/>
<line x1="133.10" y1="935.00" x2="133.10" y2="937.00" stroke="#c8146e" stroke-width="1.1"/>
<line x1="131.30" y1="935.00" x2="134.90" y2="935.00" stroke="#c8146e" stroke-width="1.1"/>
<line x1="131.30" y1="937.00" x2="134.90" y2="937.00" stroke="#c8146e" stroke-width="1.1"/>
<line x1="141.00" y1="938.90" x2="141.00" y2="940.90" stroke="#c8146e" stroke-width="1.1"/>
<line x1="139.20" y1="938.90" x2="142.80" y2="938.90" stroke="#c8146e" stroke-width="1.1"/>
<line x1="139.20" y1="940.90" x2="142.80" y2="940.90" stroke="#c8146e" stroke-width="1.1"/>
<line x1="148.90" y1="939.40" x2="148.90" y2="941.40" stroke="#c8146e" stroke-width="1.1"/>
<line x1="147.10" y1="939.40" x2="150.70" y2="939.40" stroke="#c8146e" stroke-width="1.1"/>
<line x1="147.10" y1="941.40" x2="150.70" y2="941.40" stroke="#c8146e" stroke-width="1.1"/>
<polyline points="38.90,914.80 47.30,913.00 55.10,913.80 63.00,902.80 70.90,901.00 78.40,901.00 86.20,934.20 94.20,933.50 101.90,934.20 110.00,861.20 117.70,858.60 125.20,858.60 133.10,936.00 141.00,939.90 148.90,940.40" fill="none" stroke="#c8146e" stroke-width="2" stroke-linejoin="round"/>
<rect x="36.90" y="912.80" width="4.00" height="4.00" fill="#c8146e"/>
<rect x="45.30" y="911.00" width="4.00" height="4.00" fill="#c8146e"/>
<rect x="53.10" y="911.80" width="4.00" height="4.00" fill="#c8146e"/>
<rect x="61.00" y="900.80" width="4.00" height="4.00" fill="#c8146e"/>
<rect x="68.90" y="899.00" width="4.00" height="4.00" fill="#c8146e"/>
<rect x="76.40" y="899.00" width="4.00" height="4.00" fill="#c8146e"/>
<rect x="84.20" y="932.20" width="4.00" height="4.00" fill="#c8146e"/>
<rect x="92.20" y="931.50" width="4.00" height="4.00" fill="#c8146e"/>
<rect x="99.90" y="932.20" width="4.00" height="4.00" fill="#c8146e"/>
<rect x="108.00" y="859.20" width="4.00" height="4.00" fill="#c8146e"/>
<rect x="115.70" y="856.60" width="4.00" height="4.00" fill="#c8146e"/>
<rect x="123.20" y="856.60" width="4.00" height="4.00" fill="#c8146e"/>
<rect x="131.10" y="934.00" width="4.00" height="4.00" fill="#c8146e"/>
<rect x="139.00" y="937.90" width="4.00" height="4.00" fill="#c8146e"/>
<rect x="146.90" y="938.40" width="4.00" height="4.00" fill="#c8146e"/>
<text x="172.00" y="781.50" font-size="15.5" font-weight="bold">N</text>
<text x="197.30" y="779.60" font-size="8.2" stroke="#000" stroke-width="0.22" transform="rotate(-45 197.30 779.60)">Vehicle</text>
<text x="222.10" y="778.60" font-size="8.2" stroke="#000" stroke-width="0.22" transform="rotate(-45 222.10 778.60)">iMQT_020</text>
<rect x="196.95" y="785.35" width="3.90" height="3.90" fill="#c8146e"/>
<circle cx="223.10" cy="787.30" r="2.05" fill="#333333"/>
<text x="244.60" y="788.05" font-size="8" stroke="#000" stroke-width="0.22">siCon</text>
<rect x="196.95" y="798.85" width="3.90" height="3.90" fill="#7a7a7a"/>
<circle cx="223.10" cy="800.80" r="2.05" fill="#f23b3b"/>
<text x="244.60" y="801.55" font-size="8" stroke="#000" stroke-width="0.22">siSLC1A5_var + Con</text>
<rect x="196.95" y="812.95" width="3.90" height="3.90" fill="#9a0fe0"/>
<circle cx="223.10" cy="814.90" r="2.05" fill="#12bf7c"/>
<text x="244.60" y="815.65" font-size="8" stroke="#000" stroke-width="0.22">siSLC1A5_var + WT</text>
<rect x="196.95" y="826.95" width="3.90" height="3.90" fill="#c4925a"/>
<circle cx="223.10" cy="828.90" r="2.05" fill="#ff5c0a"/>
<text x="244.60" y="829.65" font-size="8" stroke="#000" stroke-width="0.22">siSLC1A5_var + FIL/AAA</text>
<line x1="201.90" y1="845.80" x2="201.90" y2="961.30" stroke="#000" stroke-width="2"/>
<line x1="195.90" y1="846.60" x2="201.90" y2="846.60" stroke="#000" stroke-width="1.8"/>
<text x="193.70" y="848.90" font-size="6.4" text-anchor="end" fill="#a3a3a3">150</text>
<line x1="195.90" y1="884.20" x2="201.90" y2="884.20" stroke="#000" stroke-width="1.8"/>
<text x="193.70" y="886.50" font-size="6.4" text-anchor="end" fill="#a3a3a3">100</text>
<line x1="195.90" y1="922.00" x2="201.90" y2="922.00" stroke="#000" stroke-width="1.8"/>
<text x="193.70" y="924.30" font-size="6.4" text-anchor="end" fill="#a3a3a3">50</text>
<line x1="195.90" y1="960.30" x2="201.90" y2="960.30" stroke="#000" stroke-width="1.8"/>
<text x="193.70" y="962.60" font-size="6.4" text-anchor="end" fill="#a3a3a3">0</text>
<line x1="200.90" y1="960.30" x2="316.10" y2="960.30" stroke="#000" stroke-width="2"/>
<line x1="229.30" y1="960.30" x2="229.30" y2="966.10" stroke="#000" stroke-width="1.8"/>
<line x1="288.00" y1="960.30" x2="288.00" y2="966.10" stroke="#000" stroke-width="1.8"/>
<line x1="205.30" y1="969.20" x2="252.30" y2="969.20" stroke="#000" stroke-width="2"/>
<line x1="264.00" y1="969.20" x2="311.80" y2="969.20" stroke="#000" stroke-width="2"/>
<text x="229.30" y="983.81" font-size="10.5" font-weight="bold" text-anchor="middle">Basal</text>
<text x="288.00" y="983.81" font-size="10.5" font-weight="bold" text-anchor="middle">FCCP</text>
<text x="175.10" y="899.00" font-size="10.8" font-weight="bold" text-anchor="middle" transform="rotate(-90 175.10 899.00)">OCR (pmol/min/<tspan font-family="Liberation Serif">&#956;</tspan>g protein)</text>
<rect x="202.85" y="898.05" width="4.50" height="4.50" fill="#c8146e"/>
<rect x="201.65" y="899.75" width="4.50" height="4.50" fill="#c8146e"/>
<rect x="202.55" y="901.85" width="4.50" height="4.50" fill="#c8146e"/>
<circle cx="212.00" cy="920.70" r="2.25" fill="#333333"/>
<circle cx="210.80" cy="924.50" r="2.25" fill="#333333"/>
<circle cx="211.70" cy="929.60" r="2.25" fill="#333333"/>
<rect x="216.85" y="935.05" width="4.50" height="4.50" fill="#7a7a7a"/>
<rect x="215.65" y="938.15" width="4.50" height="4.50" fill="#7a7a7a"/>
<rect x="216.55" y="941.45" width="4.50" height="4.50" fill="#7a7a7a"/>
<circle cx="226.00" cy="945.00" r="2.25" fill="#f23b3b"/>
<circle cx="224.80" cy="946.20" r="2.25" fill="#f23b3b"/>
<circle cx="225.70" cy="947.50" r="2.25" fill="#f23b3b"/>
<rect x="230.15" y="898.05" width="4.50" height="4.50" fill="#9a0fe0"/>
<rect x="228.95" y="901.35" width="4.50" height="4.50" fill="#9a0fe0"/>
<rect x="229.85" y="904.35" width="4.50" height="4.50" fill="#9a0fe0"/>
<circle cx="239.60" cy="932.20" r="2.25" fill="#12bf7c"/>
<circle cx="238.40" cy="933.50" r="2.25" fill="#12bf7c"/>
<circle cx="239.30" cy="934.20" r="2.25" fill="#12bf7c"/>
<rect x="244.25" y="937.15" width="4.50" height="4.50" fill="#c4925a"/>
<rect x="243.05" y="938.15" width="4.50" height="4.50" fill="#c4925a"/>
<rect x="243.95" y="938.85" width="4.50" height="4.50" fill="#c4925a"/>
<circle cx="253.10" cy="938.60" r="2.25" fill="#ff5c0a"/>
<circle cx="251.90" cy="942.40" r="2.25" fill="#ff5c0a"/>
<circle cx="252.80" cy="947.00" r="2.25" fill="#ff5c0a"/>
<rect x="262.35" y="853.85" width="4.50" height="4.50" fill="#c8146e"/>
<rect x="261.15" y="858.45" width="4.50" height="4.50" fill="#c8146e"/>
<rect x="262.05" y="863.55" width="4.50" height="4.50" fill="#c8146e"/>
<circle cx="271.50" cy="897.00" r="2.25" fill="#333333"/>
<circle cx="270.30" cy="897.70" r="2.25" fill="#333333"/>
<circle cx="271.20" cy="898.50" r="2.25" fill="#333333"/>
<rect x="276.15" y="934.55" width="4.50" height="4.50" fill="#7a7a7a"/>
<rect x="274.95" y="936.35" width="4.50" height="4.50" fill="#7a7a7a"/>
<rect x="275.85" y="938.15" width="4.50" height="4.50" fill="#7a7a7a"/>
<circle cx="285.10" cy="947.50" r="2.25" fill="#f23b3b"/>
<circle cx="283.90" cy="948.00" r="2.25" fill="#f23b3b"/>
<circle cx="284.80" cy="948.80" r="2.25" fill="#f23b3b"/>
<rect x="289.75" y="871.65" width="4.50" height="4.50" fill="#9a0fe0"/>
<rect x="288.55" y="875.05" width="4.50" height="4.50" fill="#9a0fe0"/>
<rect x="289.45" y="878.85" width="4.50" height="4.50" fill="#9a0fe0"/>
<circle cx="298.90" cy="928.40" r="2.25" fill="#12bf7c"/>
<circle cx="297.70" cy="932.70" r="2.25" fill="#12bf7c"/>
<circle cx="298.60" cy="936.80" r="2.25" fill="#12bf7c"/>
<rect x="303.75" y="934.55" width="4.50" height="4.50" fill="#c4925a"/>
<rect x="302.55" y="935.55" width="4.50" height="4.50" fill="#c4925a"/>
<rect x="303.45" y="936.35" width="4.50" height="4.50" fill="#c4925a"/>
<circle cx="312.40" cy="943.70" r="2.25" fill="#ff5c0a"/>
<circle cx="311.20" cy="945.00" r="2.25" fill="#ff5c0a"/>
<circle cx="312.10" cy="946.20" r="2.25" fill="#ff5c0a"/>
<circle cx="208.00" cy="882.40" r="0.95" fill="#000"/>
<circle cx="211.40" cy="882.40" r="0.95" fill="#000"/>
<circle cx="214.80" cy="882.40" r="0.95" fill="#000"/>
<line x1="205.80" y1="888.80" x2="216.50" y2="888.80" stroke="#000" stroke-width="1.15"/>
<text x="224.20" y="922.06" font-size="8" text-anchor="middle" fill="#222" stroke="#222" stroke-width="0.22">ns</text>
<line x1="218.00" y1="925.30" x2="230.80" y2="925.30" stroke="#000" stroke-width="1.15"/>
<circle cx="234.30" cy="886.70" r="0.95" fill="#000"/>
<circle cx="237.70" cy="886.70" r="0.95" fill="#000"/>
<circle cx="241.10" cy="886.70" r="0.95" fill="#000"/>
<line x1="231.80" y1="893.40" x2="242.80" y2="893.40" stroke="#000" stroke-width="1.15"/>
<text x="251.20" y="922.06" font-size="8" text-anchor="middle" fill="#222" stroke="#222" stroke-width="0.22">ns</text>
<line x1="244.60" y1="925.80" x2="258.10" y2="925.80" stroke="#000" stroke-width="1.15"/>
<circle cx="265.70" cy="845.30" r="0.95" fill="#000"/>
<circle cx="269.10" cy="845.30" r="0.95" fill="#000"/>
<circle cx="272.50" cy="845.30" r="0.95" fill="#000"/>
<line x1="263.30" y1="851.70" x2="274.20" y2="851.70" stroke="#000" stroke-width="1.15"/>
<circle cx="291.80" cy="862.70" r="0.95" fill="#000"/>
<circle cx="295.20" cy="862.70" r="0.95" fill="#000"/>
<circle cx="298.60" cy="862.70" r="0.95" fill="#000"/>
<line x1="289.60" y1="868.80" x2="300.30" y2="868.80" stroke="#000" stroke-width="1.15"/>
<circle cx="282.40" cy="924.50" r="0.8" fill="#000"/>
<line x1="276.00" y1="931.40" x2="288.80" y2="931.40" stroke="#000" stroke-width="1.15"/>
<circle cx="311.00" cy="920.70" r="0.8" fill="#000"/>
<line x1="304.10" y1="928.40" x2="317.70" y2="928.40" stroke="#000" stroke-width="1.15"/>
<text x="341.80" y="781.50" font-size="15.5" font-weight="bold">O</text>
<rect x="389.10" y="779.60" width="4.00" height="4.00" fill="#7a7a7a"/>
<text x="411.00" y="784.35" font-size="8" stroke="#000" stroke-width="0.22">Vehicle</text>
<circle cx="391.10" cy="797.50" r="2.05" fill="#f23b3b"/>
<text x="411.00" y="800.25" font-size="8" stroke="#000" stroke-width="0.22">iMQT_020</text>
<circle cx="391.10" cy="813.30" r="2.05" fill="#12bf7c"/>
<text x="411.00" y="816.05" font-size="8" stroke="#000" stroke-width="0.22">iMQT_020 + DM-<tspan font-family="Liberation Serif">&#945;</tspan>KG</text>
<line x1="378.40" y1="847.00" x2="378.40" y2="961.90" stroke="#000" stroke-width="2"/>
<line x1="372.40" y1="847.80" x2="378.40" y2="847.80" stroke="#000" stroke-width="1.8"/>
<text x="370.20" y="850.10" font-size="6.4" text-anchor="end" fill="#a3a3a3">400</text>
<line x1="372.40" y1="875.90" x2="378.40" y2="875.90" stroke="#000" stroke-width="1.8"/>
<text x="370.20" y="878.20" font-size="6.4" text-anchor="end" fill="#a3a3a3">300</text>
<line x1="372.40" y1="904.50" x2="378.40" y2="904.50" stroke="#000" stroke-width="1.8"/>
<text x="370.20" y="906.80" font-size="6.4" text-anchor="end" fill="#a3a3a3">200</text>
<line x1="372.40" y1="932.90" x2="378.40" y2="932.90" stroke="#000" stroke-width="1.8"/>
<text x="370.20" y="935.20" font-size="6.4" text-anchor="end" fill="#a3a3a3">100</text>
<line x1="372.40" y1="960.90" x2="378.40" y2="960.90" stroke="#000" stroke-width="1.8"/>
<text x="370.20" y="963.20" font-size="6.4" text-anchor="end" fill="#a3a3a3">0</text>
<line x1="377.40" y1="960.90" x2="492.60" y2="960.90" stroke="#000" stroke-width="2"/>
<line x1="396.90" y1="960.90" x2="396.90" y2="966.30" stroke="#000" stroke-width="1.8"/>
<line x1="435.10" y1="960.90" x2="435.10" y2="966.30" stroke="#000" stroke-width="1.8"/>
<line x1="473.50" y1="960.90" x2="473.50" y2="966.30" stroke="#000" stroke-width="1.8"/>
<text x="350.10" y="900.90" font-size="10.8" font-weight="bold" text-anchor="middle" transform="rotate(-90 350.10 900.90)">OCR (pmol/min/10<tspan font-size="7.3" dy="-3.9">4</tspan><tspan dy="3.9">cells)</tspan></text>
<circle cx="410.60" cy="833.30" r="0.95" fill="#000"/>
<circle cx="413.80" cy="833.30" r="0.95" fill="#000"/>
<circle cx="417.00" cy="833.30" r="0.95" fill="#000"/>
<circle cx="420.20" cy="833.30" r="0.95" fill="#000"/>
<line x1="395.70" y1="841.70" x2="435.00" y2="841.70" stroke="#000" stroke-width="1.8"/>
<circle cx="446.70" cy="824.80" r="0.95" fill="#000"/>
<circle cx="449.90" cy="824.80" r="0.95" fill="#000"/>
<circle cx="453.10" cy="824.80" r="0.95" fill="#000"/>
<line x1="430.70" y1="833.50" x2="470.30" y2="833.50" stroke="#000" stroke-width="1.8"/>
<polyline points="396.9,852.41 435.1,905.37 473.5,865.51" fill="none" stroke="#000" stroke-width="1.15"/>
<polyline points="396.9,863.52 435.1,937.84 473.5,870.35" fill="none" stroke="#000" stroke-width="1.15"/>
<polyline points="396.9,865.51 435.1,948.37 473.5,901.10" fill="none" stroke="#000" stroke-width="1.15"/>
<polyline points="396.9,867.50 435.1,923.60 473.5,902.53" fill="none" stroke="#000" stroke-width="1.15"/>
<polyline points="396.9,877.75 435.1,912.49 473.5,891.42" fill="none" stroke="#000" stroke-width="1.15"/>
<polyline points="396.9,879.46 435.1,922.17 473.5,883.73" fill="none" stroke="#000" stroke-width="1.15"/>
<polyline points="396.9,881.45 435.1,917.62 473.5,896.55" fill="none" stroke="#000" stroke-width="1.15"/>
<polyline points="396.9,883.73 435.1,942.11 473.5,907.08" fill="none" stroke="#000" stroke-width="1.15"/>
<polyline points="396.9,885.44 435.1,910.78 473.5,899.68" fill="none" stroke="#000" stroke-width="1.15"/>
<polyline points="396.9,887.43 435.1,940.11 473.5,909.08" fill="none" stroke="#000" stroke-width="1.15"/>
<polyline points="396.9,889.71 435.1,920.75 473.5,872.63" fill="none" stroke="#000" stroke-width="1.15"/>
<polyline points="396.9,892.28 435.1,924.74 473.5,868.07" fill="none" stroke="#000" stroke-width="1.15"/>
<polyline points="396.9,894.55 435.1,913.92 473.5,864.09" fill="none" stroke="#000" stroke-width="1.15"/>
<polyline points="396.9,896.55 435.1,892.56 473.5,877.47" fill="none" stroke="#000" stroke-width="1.15"/>
<polyline points="396.9,898.54 435.1,915.34 473.5,856.11" fill="none" stroke="#000" stroke-width="1.15"/>
<polyline points="396.9,900.82 435.1,918.19 473.5,888.00" fill="none" stroke="#000" stroke-width="1.15"/>
<polyline points="396.9,902.53 435.1,895.98 473.5,912.21" fill="none" stroke="#000" stroke-width="1.15"/>
<polyline points="396.9,903.95 435.1,935.84 473.5,897.97" fill="none" stroke="#000" stroke-width="1.15"/>
<polyline points="396.9,905.37 435.1,894.84 473.5,861.81" fill="none" stroke="#000" stroke-width="1.15"/>
<polyline points="396.9,906.80 435.1,893.70 473.5,910.78" fill="none" stroke="#000" stroke-width="1.15"/>
<polyline points="396.9,908.22 435.1,919.33 473.5,874.05" fill="none" stroke="#000" stroke-width="1.15"/>
<polyline points="396.9,909.64 435.1,897.69 473.5,924.45" fill="none" stroke="#000" stroke-width="1.15"/>
<polyline points="396.9,910.78 435.1,916.76 473.5,875.19" fill="none" stroke="#000" stroke-width="1.15"/>
<rect x="394.80" y="850.31" width="4.20" height="4.20" fill="#7a7a7a"/>
<rect x="394.80" y="861.42" width="4.20" height="4.20" fill="#7a7a7a"/>
<rect x="394.80" y="863.41" width="4.20" height="4.20" fill="#7a7a7a"/>
<rect x="394.80" y="865.40" width="4.20" height="4.20" fill="#7a7a7a"/>
<rect x="394.80" y="875.65" width="4.20" height="4.20" fill="#7a7a7a"/>
<rect x="394.80" y="877.36" width="4.20" height="4.20" fill="#7a7a7a"/>
<rect x="394.80" y="879.35" width="4.20" height="4.20" fill="#7a7a7a"/>
<rect x="394.80" y="881.63" width="4.20" height="4.20" fill="#7a7a7a"/>
<rect x="394.80" y="883.34" width="4.20" height="4.20" fill="#7a7a7a"/>
<rect x="394.80" y="885.33" width="4.20" height="4.20" fill="#7a7a7a"/>
<rect x="394.80" y="887.61" width="4.20" height="4.20" fill="#7a7a7a"/>
<rect x="394.80" y="890.18" width="4.20" height="4.20" fill="#7a7a7a"/>
<rect x="394.80" y="892.45" width="4.20" height="4.20" fill="#7a7a7a"/>
<rect x="394.80" y="894.45" width="4.20" height="4.20" fill="#7a7a7a"/>
<rect x="394.80" y="896.44" width="4.20" height="4.20" fill="#7a7a7a"/>
<rect x="394.80" y="898.72" width="4.20" height="4.20" fill="#7a7a7a"/>
<rect x="394.80" y="900.43" width="4.20" height="4.20" fill="#7a7a7a"/>
<rect x="394.80" y="901.85" width="4.20" height="4.20" fill="#7a7a7a"/>
<rect x="394.80" y="903.27" width="4.20" height="4.20" fill="#7a7a7a"/>
<rect x="394.80" y="904.70" width="4.20" height="4.20" fill="#7a7a7a"/>
<rect x="394.80" y="906.12" width="4.20" height="4.20" fill="#7a7a7a"/>
<rect x="394.80" y="907.54" width="4.20" height="4.20" fill="#7a7a7a"/>
<rect x="394.80" y="908.68" width="4.20" height="4.20" fill="#7a7a7a"/>
<circle cx="435.10" cy="892.56" r="2.00" fill="#f23b3b"/>
<circle cx="435.10" cy="893.70" r="2.00" fill="#f23b3b"/>
<circle cx="435.10" cy="894.84" r="2.00" fill="#f23b3b"/>
<circle cx="435.10" cy="895.98" r="2.00" fill="#f23b3b"/>
<circle cx="435.10" cy="897.69" r="2.00" fill="#f23b3b"/>
<circle cx="435.10" cy="905.37" r="2.00" fill="#f23b3b"/>
<circle cx="435.10" cy="910.78" r="2.00" fill="#f23b3b"/>
<circle cx="435.10" cy="912.49" r="2.00" fill="#f23b3b"/>
<circle cx="435.10" cy="913.92" r="2.00" fill="#f23b3b"/>
<circle cx="435.10" cy="915.34" r="2.00" fill="#f23b3b"/>
<circle cx="435.10" cy="916.76" r="2.00" fill="#f23b3b"/>
<circle cx="435.10" cy="918.19" r="2.00" fill="#f23b3b"/>
<circle cx="435.10" cy="919.33" r="2.00" fill="#f23b3b"/>
<circle cx="435.10" cy="920.75" r="2.00" fill="#f23b3b"/>
<circle cx="435.10" cy="922.17" r="2.00" fill="#f23b3b"/>
<circle cx="435.10" cy="923.60" r="2.00" fill="#f23b3b"/>
<circle cx="435.10" cy="924.74" r="2.00" fill="#f23b3b"/>
<circle cx="435.10" cy="935.84" r="2.00" fill="#f23b3b"/>
<circle cx="435.10" cy="937.84" r="2.00" fill="#f23b3b"/>
<circle cx="435.10" cy="940.11" r="2.00" fill="#f23b3b"/>
<circle cx="435.10" cy="942.11" r="2.00" fill="#f23b3b"/>
<circle cx="435.10" cy="948.37" r="2.00" fill="#f23b3b"/>
<circle cx="435.10" cy="917.62" r="2.00" fill="#f23b3b"/>
<circle cx="473.50" cy="856.11" r="2.00" fill="#12bf7c"/>
<circle cx="473.50" cy="861.81" r="2.00" fill="#12bf7c"/>
<circle cx="473.50" cy="864.09" r="2.00" fill="#12bf7c"/>
<circle cx="473.50" cy="865.51" r="2.00" fill="#12bf7c"/>
<circle cx="473.50" cy="868.07" r="2.00" fill="#12bf7c"/>
<circle cx="473.50" cy="870.35" r="2.00" fill="#12bf7c"/>
<circle cx="473.50" cy="872.63" r="2.00" fill="#12bf7c"/>
<circle cx="473.50" cy="875.19" r="2.00" fill="#12bf7c"/>
<circle cx="473.50" cy="877.47" r="2.00" fill="#12bf7c"/>
<circle cx="473.50" cy="883.73" r="2.00" fill="#12bf7c"/>
<circle cx="473.50" cy="891.42" r="2.00" fill="#12bf7c"/>
<circle cx="473.50" cy="896.55" r="2.00" fill="#12bf7c"/>
<circle cx="473.50" cy="897.97" r="2.00" fill="#12bf7c"/>
<circle cx="473.50" cy="899.68" r="2.00" fill="#12bf7c"/>
<circle cx="473.50" cy="901.10" r="2.00" fill="#12bf7c"/>
<circle cx="473.50" cy="902.53" r="2.00" fill="#12bf7c"/>
<circle cx="473.50" cy="907.08" r="2.00" fill="#12bf7c"/>
<circle cx="473.50" cy="909.08" r="2.00" fill="#12bf7c"/>
<circle cx="473.50" cy="910.78" r="2.00" fill="#12bf7c"/>
<circle cx="473.50" cy="912.21" r="2.00" fill="#12bf7c"/>
<circle cx="473.50" cy="924.45" r="2.00" fill="#12bf7c"/>
<circle cx="473.50" cy="874.05" r="2.00" fill="#12bf7c"/>
<circle cx="473.50" cy="888.00" r="2.00" fill="#12bf7c"/>
<text x="513.10" y="781.50" font-size="15.5" font-weight="bold">P</text>
<rect x="545.30" y="780.90" width="4.00" height="4.00" fill="#7a7a7a"/>
<text x="566.70" y="785.65" font-size="8" stroke="#000" stroke-width="0.22">Vehicle</text>
<circle cx="547.30" cy="798.80" r="2.05" fill="#f23b3b"/>
<text x="566.70" y="801.55" font-size="8" stroke="#000" stroke-width="0.22">iMQT_020</text>
<circle cx="547.30" cy="814.60" r="2.05" fill="#12bf7c"/>
<text x="566.70" y="817.35" font-size="8" stroke="#000" stroke-width="0.22">iMQT_020 + DM-<tspan font-family="Liberation Serif">&#945;</tspan>KG</text>
<ellipse cx="628.4" cy="874.2" rx="23.8" ry="27.6" fill="#e3e3e3"/>
<rect x="545.2" y="905.2" width="52.5" height="47" rx="21" ry="21" fill="#fcefe9"/>
<line x1="542.10" y1="847.10" x2="542.10" y2="966.70" stroke="#000" stroke-width="2"/>
<line x1="536.10" y1="847.90" x2="542.10" y2="847.90" stroke="#000" stroke-width="1.8"/>
<text x="533.90" y="850.20" font-size="6.4" text-anchor="end" fill="#a3a3a3">400</text>
<line x1="536.10" y1="904.20" x2="542.10" y2="904.20" stroke="#000" stroke-width="1.8"/>
<text x="533.90" y="906.50" font-size="6.4" text-anchor="end" fill="#a3a3a3">200</text>
<line x1="536.10" y1="961.30" x2="542.10" y2="961.30" stroke="#000" stroke-width="1.8"/>
<text x="533.90" y="963.60" font-size="6.4" text-anchor="end" fill="#a3a3a3">0</text>
<line x1="541.10" y1="961.30" x2="656.90" y2="961.30" stroke="#000" stroke-width="2"/>
<line x1="542.10" y1="961.30" x2="542.10" y2="966.70" stroke="#000" stroke-width="1.8"/>
<text x="542.10" y="975.90" font-size="6.4" text-anchor="middle" fill="#a3a3a3">0</text>
<line x1="599.50" y1="961.30" x2="599.50" y2="966.70" stroke="#000" stroke-width="1.8"/>
<text x="599.50" y="975.90" font-size="6.4" text-anchor="middle" fill="#a3a3a3">30</text>
<line x1="656.70" y1="961.30" x2="656.70" y2="966.70" stroke="#000" stroke-width="1.8"/>
<text x="656.70" y="975.90" font-size="6.4" text-anchor="middle" fill="#a3a3a3">60</text>
<text x="599.40" y="987.52" font-size="10.8" font-weight="bold" text-anchor="middle">ECAR (mpH/min/10<tspan font-size="7.3" dy="-3.9">4</tspan><tspan dy="3.9">cells)</tspan></text>
<text x="515.30" y="900.90" font-size="10.8" font-weight="bold" text-anchor="middle" transform="rotate(-90 515.30 900.90)">OCR (pmol/min/10<tspan font-size="7.3" dy="-3.9">4</tspan><tspan dy="3.9">cells)</tspan></text>
<text x="559.10" y="840.65" font-size="8" text-anchor="middle" stroke="#000" stroke-width="0.22">Aerobic</text>
<text x="639.00" y="840.65" font-size="8" text-anchor="middle" stroke="#000" stroke-width="0.22">Energetic</text>
<text x="564.10" y="956.65" font-size="8" text-anchor="middle" stroke="#000" stroke-width="0.22">Quiescent</text>
<text x="638.40" y="956.85" font-size="8" text-anchor="middle" stroke="#000" stroke-width="0.22">Glycolytic</text>
<line x1="599.4" y1="847.6" x2="599.4" y2="958" stroke="#000" stroke-width="1.8" stroke-dasharray="1.8 3.98"/>
<line x1="553.8" y1="904.3" x2="654" y2="904.3" stroke="#000" stroke-width="1.8" stroke-dasharray="1.8 4.0"/>
<line x1="610.30" y1="887.00" x2="646.00" y2="887.00" stroke="#858585" stroke-width="1.2"/>
<line x1="612.00" y1="889.50" x2="644.00" y2="889.50" stroke="#858585" stroke-width="1.2"/>
<line x1="615.00" y1="884.50" x2="640.00" y2="884.50" stroke="#858585" stroke-width="1.2"/>
<line x1="615.40" y1="883.90" x2="615.40" y2="902.30" stroke="#858585" stroke-width="1.1"/>
<line x1="613.80" y1="902.30" x2="617.00" y2="902.30" stroke="#858585" stroke-width="1.1"/>
<line x1="645.90" y1="867.50" x2="645.90" y2="886.00" stroke="#858585" stroke-width="1.1"/>
<line x1="620.00" y1="893.00" x2="642.00" y2="893.00" stroke="#858585" stroke-width="1.1"/>
<line x1="598.50" y1="868.50" x2="611.00" y2="868.50" stroke="#858585" stroke-width="1.1"/>
<line x1="598.00" y1="868.50" x2="630.70" y2="868.50" stroke="#12bf7c" stroke-width="1.1"/>
<line x1="598.00" y1="866.80" x2="598.00" y2="870.20" stroke="#12bf7c" stroke-width="1.1"/>
<line x1="598.00" y1="893.10" x2="611.30" y2="893.10" stroke="#12bf7c" stroke-width="1.1"/>
<line x1="598.00" y1="891.40" x2="598.00" y2="894.80" stroke="#12bf7c" stroke-width="1.1"/>
<line x1="618.40" y1="896.10" x2="685.00" y2="896.10" stroke="#12bf7c" stroke-width="1.1"/>
<line x1="618.40" y1="894.40" x2="618.40" y2="897.80" stroke="#12bf7c" stroke-width="1.1"/>
<line x1="645.90" y1="883.90" x2="645.90" y2="912.00" stroke="#12bf7c" stroke-width="1.1"/>
<line x1="644.20" y1="912.00" x2="647.60" y2="912.00" stroke="#12bf7c" stroke-width="1.1"/>
<rect x="634.80" y="848.50" width="4.00" height="4.00" fill="#7a7a7a"/>
<rect x="634.80" y="853.00" width="4.00" height="4.00" fill="#7a7a7a"/>
<rect x="632.30" y="864.00" width="4.00" height="4.00" fill="#7a7a7a"/>
<rect x="613.90" y="866.50" width="4.00" height="4.00" fill="#7a7a7a"/>
<rect x="639.40" y="866.00" width="4.00" height="4.00" fill="#7a7a7a"/>
<rect x="623.10" y="871.10" width="4.00" height="4.00" fill="#7a7a7a"/>
<rect x="614.90" y="876.80" width="4.00" height="4.00" fill="#7a7a7a"/>
<rect x="606.20" y="877.30" width="4.00" height="4.00" fill="#7a7a7a"/>
<rect x="606.20" y="879.80" width="4.00" height="4.00" fill="#7a7a7a"/>
<rect x="630.20" y="878.80" width="4.00" height="4.00" fill="#7a7a7a"/>
<rect x="645.60" y="876.30" width="4.00" height="4.00" fill="#7a7a7a"/>
<rect x="624.10" y="884.40" width="4.00" height="4.00" fill="#7a7a7a"/>
<rect x="631.80" y="884.90" width="4.00" height="4.00" fill="#7a7a7a"/>
<rect x="612.90" y="889.00" width="4.00" height="4.00" fill="#7a7a7a"/>
<rect x="621.00" y="892.10" width="4.00" height="4.00" fill="#7a7a7a"/>
<rect x="641.00" y="883.90" width="4.00" height="4.00" fill="#7a7a7a"/>
<rect x="648.60" y="888.80" width="4.00" height="4.00" fill="#7a7a7a"/>
<rect x="639.90" y="896.20" width="4.00" height="4.00" fill="#7a7a7a"/>
<rect x="616.00" y="885.50" width="4.00" height="4.00" fill="#7a7a7a"/>
<rect x="627.00" y="887.50" width="4.00" height="4.00" fill="#7a7a7a"/>
<rect x="635.50" y="887.00" width="4.00" height="4.00" fill="#7a7a7a"/>
<rect x="619.00" y="885.00" width="4.00" height="4.00" fill="#7a7a7a"/>
<rect x="609.00" y="884.50" width="4.00" height="4.00" fill="#7a7a7a"/>
<rect x="646.50" y="902.60" width="4.00" height="4.00" fill="#7a7a7a"/>
<rect x="611.00" y="883.00" width="4.00" height="4.00" fill="#7a7a7a"/>
<rect x="622.00" y="881.50" width="4.00" height="4.00" fill="#7a7a7a"/>
<rect x="628.00" y="882.50" width="4.00" height="4.00" fill="#7a7a7a"/>
<rect x="617.50" y="889.50" width="4.00" height="4.00" fill="#7a7a7a"/>
<rect x="625.00" y="890.00" width="4.00" height="4.00" fill="#7a7a7a"/>
<rect x="633.00" y="891.50" width="4.00" height="4.00" fill="#7a7a7a"/>
<rect x="609.50" y="892.00" width="4.00" height="4.00" fill="#7a7a7a"/>
<rect x="638.50" y="881.50" width="4.00" height="4.00" fill="#7a7a7a"/>
<rect x="642.50" y="891.50" width="4.00" height="4.00" fill="#7a7a7a"/>
<line x1="626.10" y1="916.50" x2="639.90" y2="916.50" stroke="#12bf7c" stroke-width="1.1"/>
<line x1="626.10" y1="914.80" x2="626.10" y2="918.20" stroke="#12bf7c" stroke-width="1.1"/>
<line x1="639.90" y1="914.80" x2="639.90" y2="918.20" stroke="#12bf7c" stroke-width="1.1"/>
<circle cx="630.90" cy="916.50" r="0.05" fill="#12bf7c"/>
<rect x="628.90" y="914.50" width="4.00" height="4.00" fill="#7a7a7a"/>
<line x1="640.90" y1="878.30" x2="650.60" y2="878.30" stroke="#858585" stroke-width="1.1"/>
<line x1="613.80" y1="864.50" x2="613.80" y2="872.50" stroke="#12bf7c" stroke-width="1.1"/>
<line x1="612.10" y1="864.50" x2="615.50" y2="864.50" stroke="#12bf7c" stroke-width="1.1"/>
<line x1="612.10" y1="872.50" x2="615.50" y2="872.50" stroke="#12bf7c" stroke-width="1.1"/>
<circle cx="613.80" cy="868.50" r="1.95" fill="#12bf7c"/>
<line x1="631.20" y1="859.30" x2="631.20" y2="874.70" stroke="#12bf7c" stroke-width="1.1"/>
<line x1="629.50" y1="859.30" x2="632.90" y2="859.30" stroke="#12bf7c" stroke-width="1.1"/>
<line x1="629.50" y1="874.70" x2="632.90" y2="874.70" stroke="#12bf7c" stroke-width="1.1"/>
<circle cx="631.20" cy="867.00" r="1.95" fill="#12bf7c"/>
<rect x="605.25" y="873.55" width="3.90" height="3.90" fill="#12bf7c"/>
<circle cx="621.00" cy="880.80" r="1.95" fill="#12bf7c"/>
<rect x="610.35" y="880.35" width="3.90" height="3.90" fill="#12bf7c"/>
<circle cx="649.10" cy="873.70" r="1.95" fill="#12bf7c"/>
<circle cx="649.10" cy="882.90" r="1.95" fill="#12bf7c"/>
<circle cx="646.00" cy="896.10" r="1.95" fill="#12bf7c"/>
<circle cx="609.80" cy="897.20" r="1.95" fill="#12bf7c"/>
<rect x="637.45" y="897.75" width="3.90" height="3.90" fill="#12bf7c"/>
<rect x="605.90" y="904.40" width="3.60" height="3.60" fill="#12bf7c"/>
<rect x="605.90" y="907.00" width="3.60" height="3.60" fill="#12bf7c"/>
<rect x="605.90" y="911.10" width="3.60" height="3.60" fill="#12bf7c"/>
<rect x="605.90" y="913.10" width="3.60" height="3.60" fill="#12bf7c"/>
<line x1="611.30" y1="903.70" x2="611.30" y2="930.80" stroke="#12bf7c" stroke-width="1.1"/>
<line x1="609.60" y1="930.80" x2="613.00" y2="930.80" stroke="#12bf7c" stroke-width="1.1"/>
<line x1="608.20" y1="917.50" x2="620.00" y2="917.50" stroke="#12bf7c" stroke-width="1.1"/>
<line x1="608.20" y1="915.80" x2="608.20" y2="919.20" stroke="#12bf7c" stroke-width="1.1"/>
<line x1="620.00" y1="915.80" x2="620.00" y2="919.20" stroke="#12bf7c" stroke-width="1.1"/>
<rect x="610.60" y="915.30" width="4.40" height="4.40" fill="#12bf7c"/>
<line x1="600.10" y1="920.80" x2="605.70" y2="920.80" stroke="#12bf7c" stroke-width="1.1"/>
<line x1="600.10" y1="919.10" x2="600.10" y2="922.50" stroke="#12bf7c" stroke-width="1.1"/>
<line x1="605.70" y1="919.10" x2="605.70" y2="922.50" stroke="#12bf7c" stroke-width="1.1"/>
<circle cx="605.70" cy="920.80" r="1.95" fill="#12bf7c"/>
<rect x="615.45" y="920.85" width="3.90" height="3.90" fill="#12bf7c"/>
<line x1="599.70" y1="939.10" x2="612.30" y2="939.10" stroke="#12bf7c" stroke-width="1.1"/>
<line x1="599.70" y1="937.40" x2="599.70" y2="940.80" stroke="#12bf7c" stroke-width="1.1"/>
<line x1="612.30" y1="937.40" x2="612.30" y2="940.80" stroke="#12bf7c" stroke-width="1.1"/>
<rect x="603.75" y="937.15" width="3.90" height="3.90" fill="#12bf7c"/>
<rect x="601.15" y="901.25" width="3.90" height="3.90" fill="#f23b3b"/>
<line x1="550.20" y1="866.30" x2="557.40" y2="866.30" stroke="#f23b3b" stroke-width="1.1"/>
<line x1="550.20" y1="864.60" x2="550.20" y2="868.00" stroke="#f23b3b" stroke-width="1.1"/>
<line x1="557.40" y1="864.60" x2="557.40" y2="868.00" stroke="#f23b3b" stroke-width="1.1"/>
<circle cx="553.80" cy="866.30" r="1.95" fill="#f23b3b"/>
<line x1="549.40" y1="882.30" x2="549.40" y2="893.70" stroke="#f23b3b" stroke-width="1.1"/>
<line x1="547.70" y1="882.30" x2="551.10" y2="882.30" stroke="#f23b3b" stroke-width="1.1"/>
<line x1="547.70" y1="893.70" x2="551.10" y2="893.70" stroke="#f23b3b" stroke-width="1.1"/>
<circle cx="549.40" cy="888.00" r="1.95" fill="#f23b3b"/>
<line x1="557.60" y1="882.10" x2="557.60" y2="904.30" stroke="#f23b3b" stroke-width="1.1"/>
<line x1="555.90" y1="882.10" x2="559.30" y2="882.10" stroke="#f23b3b" stroke-width="1.1"/>
<line x1="555.90" y1="904.30" x2="559.30" y2="904.30" stroke="#f23b3b" stroke-width="1.1"/>
<rect x="555.65" y="891.15" width="3.90" height="3.90" fill="#f23b3b"/>
<line x1="547.40" y1="899.20" x2="547.40" y2="910.40" stroke="#f23b3b" stroke-width="1.1"/>
<line x1="545.70" y1="899.20" x2="549.10" y2="899.20" stroke="#f23b3b" stroke-width="1.1"/>
<line x1="545.70" y1="910.40" x2="549.10" y2="910.40" stroke="#f23b3b" stroke-width="1.1"/>
<circle cx="547.40" cy="904.80" r="1.95" fill="#f23b3b"/>
<rect x="587.65" y="891.15" width="3.90" height="3.90" fill="#f23b3b"/>
<line x1="592.20" y1="899.20" x2="592.20" y2="904.80" stroke="#f23b3b" stroke-width="1.1"/>
<line x1="590.50" y1="899.20" x2="593.90" y2="899.20" stroke="#f23b3b" stroke-width="1.1"/>
<line x1="590.50" y1="904.80" x2="593.90" y2="904.80" stroke="#f23b3b" stroke-width="1.1"/>
<rect x="590.25" y="902.85" width="3.90" height="3.90" fill="#f23b3b"/>
<rect x="590.25" y="908.05" width="3.90" height="3.90" fill="#f23b3b"/>
<rect x="589.15" y="909.05" width="3.90" height="3.90" fill="#f23b3b"/>
<rect x="591.05" y="906.05" width="3.90" height="3.90" fill="#f23b3b"/>
<line x1="548.30" y1="914.10" x2="548.30" y2="957.70" stroke="#f23b3b" stroke-width="1.1"/>
<line x1="546.60" y1="914.10" x2="550.00" y2="914.10" stroke="#f23b3b" stroke-width="1.1"/>
<line x1="546.60" y1="957.70" x2="550.00" y2="957.70" stroke="#f23b3b" stroke-width="1.1"/>
<circle cx="548.30" cy="932.70" r="1.95" fill="#f23b3b"/>
<circle cx="559.00" cy="924.10" r="1.95" fill="#f23b3b"/>
<line x1="559.90" y1="937.40" x2="565.50" y2="937.40" stroke="#f23b3b" stroke-width="1.1"/>
<line x1="559.90" y1="935.70" x2="559.90" y2="939.10" stroke="#f23b3b" stroke-width="1.1"/>
<line x1="565.50" y1="935.70" x2="565.50" y2="939.10" stroke="#f23b3b" stroke-width="1.1"/>
<line x1="565.50" y1="913.40" x2="565.50" y2="951.40" stroke="#f23b3b" stroke-width="1.1"/>
<line x1="563.80" y1="913.40" x2="567.20" y2="913.40" stroke="#f23b3b" stroke-width="1.1"/>
<line x1="563.80" y1="951.40" x2="567.20" y2="951.40" stroke="#f23b3b" stroke-width="1.1"/>
<circle cx="565.50" cy="937.40" r="1.95" fill="#f23b3b"/>
<circle cx="565.50" cy="945.10" r="1.95" fill="#f23b3b"/>
<line x1="567.50" y1="940.50" x2="574.50" y2="940.50" stroke="#f23b3b" stroke-width="1.1"/>
<line x1="567.50" y1="938.80" x2="567.50" y2="942.20" stroke="#f23b3b" stroke-width="1.1"/>
<line x1="574.50" y1="938.80" x2="574.50" y2="942.20" stroke="#f23b3b" stroke-width="1.1"/>
<rect x="567.55" y="938.55" width="3.90" height="3.90" fill="#f23b3b"/>
<rect x="568.65" y="936.75" width="3.90" height="3.90" fill="#f23b3b"/>
<circle cx="568.50" cy="943.50" r="1.95" fill="#f23b3b"/>
<line x1="571.60" y1="939.10" x2="582.40" y2="939.10" stroke="#f23b3b" stroke-width="1.1"/>
<line x1="571.60" y1="937.40" x2="571.60" y2="940.80" stroke="#f23b3b" stroke-width="1.1"/>
<line x1="582.40" y1="937.40" x2="582.40" y2="940.80" stroke="#f23b3b" stroke-width="1.1"/>
<line x1="577.00" y1="930.50" x2="577.00" y2="947.70" stroke="#f23b3b" stroke-width="1.1"/>
<line x1="575.30" y1="930.50" x2="578.70" y2="930.50" stroke="#f23b3b" stroke-width="1.1"/>
<line x1="575.30" y1="947.70" x2="578.70" y2="947.70" stroke="#f23b3b" stroke-width="1.1"/>
<circle cx="577.00" cy="939.10" r="1.95" fill="#f23b3b"/>
<line x1="577.50" y1="949.60" x2="590.70" y2="949.60" stroke="#f23b3b" stroke-width="1.1"/>
<line x1="577.50" y1="947.90" x2="577.50" y2="951.30" stroke="#f23b3b" stroke-width="1.1"/>
<line x1="590.70" y1="947.90" x2="590.70" y2="951.30" stroke="#f23b3b" stroke-width="1.1"/>
<line x1="584.10" y1="944.20" x2="584.10" y2="955.00" stroke="#f23b3b" stroke-width="1.1"/>
<line x1="582.40" y1="944.20" x2="585.80" y2="944.20" stroke="#f23b3b" stroke-width="1.1"/>
<line x1="582.40" y1="955.00" x2="585.80" y2="955.00" stroke="#f23b3b" stroke-width="1.1"/>
<circle cx="584.10" cy="949.60" r="1.95" fill="#f23b3b"/>
<circle cx="586.90" cy="930.20" r="1.95" fill="#f23b3b"/>
<circle cx="593.80" cy="942.70" r="1.95" fill="#f23b3b"/>
<line x1="554.30" y1="959.20" x2="560.30" y2="959.20" stroke="#f23b3b" stroke-width="1.1"/>
<line x1="554.30" y1="957.50" x2="554.30" y2="960.90" stroke="#f23b3b" stroke-width="1.1"/>
<line x1="560.30" y1="957.50" x2="560.30" y2="960.90" stroke="#f23b3b" stroke-width="1.1"/>
<circle cx="557.30" cy="959.20" r="1.95" fill="#f23b3b"/>
<circle cx="565.90" cy="959.20" r="1.95" fill="#f23b3b"/>
</svg></body></html>
